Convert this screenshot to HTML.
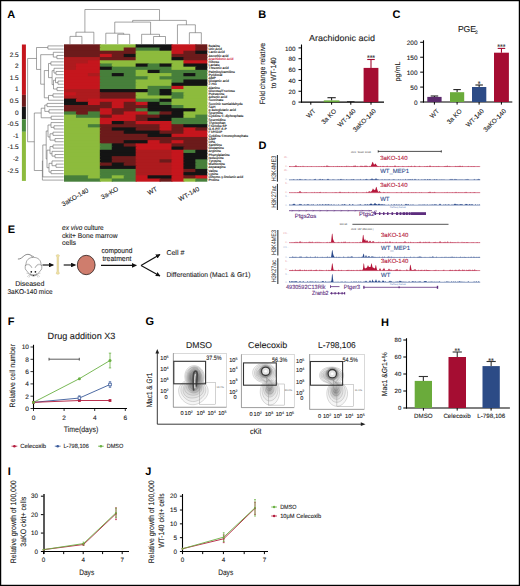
<!DOCTYPE html>
<html><head><meta charset="utf-8"><style>
html,body{margin:0;padding:0;background:#fff;}
svg{display:block;}
text{font-family:"Liberation Sans", sans-serif;text-rendering:geometricPrecision;}
</style></head><body>
<svg width="520" height="586" viewBox="0 0 520 586" font-family="&quot;Liberation Sans&quot;, sans-serif" fill="#1a1a1a">
<rect width="520" height="586" fill="#fff"/>
<rect x="64.00" y="44.30" width="36.83" height="4.20" fill="#6c1b1b"/>
<rect x="99.83" y="44.30" width="36.83" height="4.20" fill="#8dbb3d"/>
<rect x="135.65" y="44.30" width="36.83" height="4.20" fill="#141414"/>
<rect x="171.48" y="44.30" width="24.88" height="4.20" fill="#c5161d"/>
<rect x="195.36" y="44.30" width="11.94" height="4.20" fill="#6c1b1b"/>
<rect x="64.00" y="47.50" width="36.83" height="4.20" fill="#6c1b1b"/>
<rect x="99.83" y="47.50" width="24.88" height="4.20" fill="#8dbb3d"/>
<rect x="123.71" y="47.50" width="12.94" height="4.20" fill="#6c1b1b"/>
<rect x="135.65" y="47.50" width="24.88" height="4.20" fill="#477f3b"/>
<rect x="159.53" y="47.50" width="12.94" height="4.20" fill="#141414"/>
<rect x="171.48" y="47.50" width="24.88" height="4.20" fill="#c5161d"/>
<rect x="195.36" y="47.50" width="11.94" height="4.20" fill="#6c1b1b"/>
<rect x="64.00" y="50.69" width="72.65" height="4.20" fill="#6c1b1b"/>
<rect x="135.65" y="50.69" width="36.83" height="4.20" fill="#8dbb3d"/>
<rect x="171.48" y="50.69" width="12.94" height="4.20" fill="#c5161d"/>
<rect x="183.42" y="50.69" width="12.94" height="4.20" fill="#6c1b1b"/>
<rect x="195.36" y="50.69" width="11.94" height="4.20" fill="#141414"/>
<rect x="64.00" y="53.89" width="36.83" height="4.20" fill="#6c1b1b"/>
<rect x="99.83" y="53.89" width="12.94" height="4.20" fill="#c5161d"/>
<rect x="111.77" y="53.89" width="12.94" height="4.20" fill="#6c1b1b"/>
<rect x="123.71" y="53.89" width="12.94" height="4.20" fill="#141414"/>
<rect x="135.65" y="53.89" width="36.83" height="4.20" fill="#8dbb3d"/>
<rect x="171.48" y="53.89" width="35.82" height="4.20" fill="#6c1b1b"/>
<rect x="64.00" y="57.08" width="36.83" height="4.20" fill="#ad1b1e"/>
<rect x="99.83" y="57.08" width="36.83" height="4.20" fill="#6c1b1b"/>
<rect x="135.65" y="57.08" width="36.83" height="4.20" fill="#8dbb3d"/>
<rect x="171.48" y="57.08" width="12.94" height="4.20" fill="#141414"/>
<rect x="183.42" y="57.08" width="23.88" height="4.20" fill="#6c1b1b"/>
<rect x="64.00" y="60.28" width="24.88" height="4.20" fill="#ad1b1e"/>
<rect x="87.88" y="60.28" width="12.94" height="4.20" fill="#c5161d"/>
<rect x="99.83" y="60.28" width="84.59" height="4.20" fill="#8dbb3d"/>
<rect x="183.42" y="60.28" width="23.88" height="4.20" fill="#c5161d"/>
<rect x="64.00" y="63.47" width="12.94" height="4.20" fill="#ad1b1e"/>
<rect x="75.94" y="63.47" width="24.88" height="4.20" fill="#c5161d"/>
<rect x="99.83" y="63.47" width="12.94" height="4.20" fill="#477f3b"/>
<rect x="111.77" y="63.47" width="24.88" height="4.20" fill="#8dbb3d"/>
<rect x="135.65" y="63.47" width="12.94" height="4.20" fill="#141414"/>
<rect x="147.59" y="63.47" width="12.94" height="4.20" fill="#477f3b"/>
<rect x="159.53" y="63.47" width="12.94" height="4.20" fill="#141414"/>
<rect x="171.48" y="63.47" width="12.94" height="4.20" fill="#8dbb3d"/>
<rect x="183.42" y="63.47" width="23.88" height="4.20" fill="#141414"/>
<rect x="64.00" y="66.67" width="12.94" height="4.20" fill="#ad1b1e"/>
<rect x="75.94" y="66.67" width="24.88" height="4.20" fill="#c5161d"/>
<rect x="99.83" y="66.67" width="12.94" height="4.20" fill="#141414"/>
<rect x="111.77" y="66.67" width="60.71" height="4.20" fill="#477f3b"/>
<rect x="171.48" y="66.67" width="24.88" height="4.20" fill="#8dbb3d"/>
<rect x="195.36" y="66.67" width="11.94" height="4.20" fill="#141414"/>
<rect x="64.00" y="69.86" width="36.83" height="4.20" fill="#c5161d"/>
<rect x="99.83" y="69.86" width="36.83" height="4.20" fill="#477f3b"/>
<rect x="135.65" y="69.86" width="12.94" height="4.20" fill="#8dbb3d"/>
<rect x="147.59" y="69.86" width="12.94" height="4.20" fill="#141414"/>
<rect x="159.53" y="69.86" width="47.77" height="4.20" fill="#477f3b"/>
<rect x="64.00" y="73.06" width="24.88" height="4.20" fill="#c5161d"/>
<rect x="87.88" y="73.06" width="12.94" height="4.20" fill="#ad1b1e"/>
<rect x="99.83" y="73.06" width="12.94" height="4.20" fill="#477f3b"/>
<rect x="111.77" y="73.06" width="12.94" height="4.20" fill="#141414"/>
<rect x="123.71" y="73.06" width="12.94" height="4.20" fill="#477f3b"/>
<rect x="135.65" y="73.06" width="36.83" height="4.20" fill="#8dbb3d"/>
<rect x="171.48" y="73.06" width="12.94" height="4.20" fill="#477f3b"/>
<rect x="183.42" y="73.06" width="12.94" height="4.20" fill="#141414"/>
<rect x="195.36" y="73.06" width="11.94" height="4.20" fill="#477f3b"/>
<rect x="64.00" y="76.25" width="36.83" height="4.20" fill="#c5161d"/>
<rect x="99.83" y="76.25" width="48.77" height="4.20" fill="#477f3b"/>
<rect x="147.59" y="76.25" width="12.94" height="4.20" fill="#8dbb3d"/>
<rect x="159.53" y="76.25" width="47.77" height="4.20" fill="#477f3b"/>
<rect x="64.00" y="79.45" width="36.83" height="4.20" fill="#c5161d"/>
<rect x="99.83" y="79.45" width="36.83" height="4.20" fill="#477f3b"/>
<rect x="135.65" y="79.45" width="36.83" height="4.20" fill="#8dbb3d"/>
<rect x="171.48" y="79.45" width="12.94" height="4.20" fill="#477f3b"/>
<rect x="183.42" y="79.45" width="23.88" height="4.20" fill="#141414"/>
<rect x="64.00" y="82.64" width="36.83" height="4.20" fill="#c5161d"/>
<rect x="99.83" y="82.64" width="36.83" height="4.20" fill="#477f3b"/>
<rect x="135.65" y="82.64" width="36.83" height="4.20" fill="#8dbb3d"/>
<rect x="171.48" y="82.64" width="35.82" height="4.20" fill="#141414"/>
<rect x="64.00" y="85.84" width="36.83" height="4.20" fill="#c5161d"/>
<rect x="99.83" y="85.84" width="36.83" height="4.20" fill="#477f3b"/>
<rect x="135.65" y="85.84" width="12.94" height="4.20" fill="#8dbb3d"/>
<rect x="147.59" y="85.84" width="24.88" height="4.20" fill="#477f3b"/>
<rect x="171.48" y="85.84" width="12.94" height="4.20" fill="#c5161d"/>
<rect x="183.42" y="85.84" width="23.88" height="4.20" fill="#8dbb3d"/>
<rect x="64.00" y="89.03" width="36.83" height="4.20" fill="#ad1b1e"/>
<rect x="99.83" y="89.03" width="48.77" height="4.20" fill="#141414"/>
<rect x="147.59" y="89.03" width="12.94" height="4.20" fill="#477f3b"/>
<rect x="159.53" y="89.03" width="12.94" height="4.20" fill="#141414"/>
<rect x="171.48" y="89.03" width="35.82" height="4.20" fill="#8dbb3d"/>
<rect x="64.00" y="92.23" width="12.94" height="4.20" fill="#c5161d"/>
<rect x="75.94" y="92.23" width="24.88" height="4.20" fill="#ad1b1e"/>
<rect x="99.83" y="92.23" width="36.83" height="4.20" fill="#6c1b1b"/>
<rect x="135.65" y="92.23" width="12.94" height="4.20" fill="#8dbb3d"/>
<rect x="147.59" y="92.23" width="12.94" height="4.20" fill="#477f3b"/>
<rect x="159.53" y="92.23" width="12.94" height="4.20" fill="#141414"/>
<rect x="171.48" y="92.23" width="12.94" height="4.20" fill="#477f3b"/>
<rect x="183.42" y="92.23" width="23.88" height="4.20" fill="#8dbb3d"/>
<rect x="64.00" y="95.43" width="36.83" height="4.20" fill="#ad1b1e"/>
<rect x="99.83" y="95.43" width="36.83" height="4.20" fill="#6c1b1b"/>
<rect x="135.65" y="95.43" width="36.83" height="4.20" fill="#8dbb3d"/>
<rect x="171.48" y="95.43" width="12.94" height="4.20" fill="#477f3b"/>
<rect x="183.42" y="95.43" width="23.88" height="4.20" fill="#8dbb3d"/>
<rect x="64.00" y="98.62" width="12.94" height="4.20" fill="#141414"/>
<rect x="75.94" y="98.62" width="12.94" height="4.20" fill="#ad1b1e"/>
<rect x="87.88" y="98.62" width="48.77" height="4.20" fill="#c5161d"/>
<rect x="135.65" y="98.62" width="24.88" height="4.20" fill="#477f3b"/>
<rect x="159.53" y="98.62" width="12.94" height="4.20" fill="#141414"/>
<rect x="171.48" y="98.62" width="35.82" height="4.20" fill="#8dbb3d"/>
<rect x="64.00" y="101.82" width="24.88" height="4.20" fill="#141414"/>
<rect x="87.88" y="101.82" width="12.94" height="4.20" fill="#c5161d"/>
<rect x="99.83" y="101.82" width="12.94" height="4.20" fill="#6c1b1b"/>
<rect x="111.77" y="101.82" width="12.94" height="4.20" fill="#c5161d"/>
<rect x="123.71" y="101.82" width="12.94" height="4.20" fill="#6c1b1b"/>
<rect x="135.65" y="101.82" width="12.94" height="4.20" fill="#c5161d"/>
<rect x="147.59" y="101.82" width="12.94" height="4.20" fill="#141414"/>
<rect x="159.53" y="101.82" width="12.94" height="4.20" fill="#477f3b"/>
<rect x="171.48" y="101.82" width="35.82" height="4.20" fill="#8dbb3d"/>
<rect x="64.00" y="105.01" width="48.77" height="4.20" fill="#6c1b1b"/>
<rect x="111.77" y="105.01" width="12.94" height="4.20" fill="#c5161d"/>
<rect x="123.71" y="105.01" width="24.88" height="4.20" fill="#6c1b1b"/>
<rect x="147.59" y="105.01" width="24.88" height="4.20" fill="#141414"/>
<rect x="171.48" y="105.01" width="12.94" height="4.20" fill="#477f3b"/>
<rect x="183.42" y="105.01" width="23.88" height="4.20" fill="#8dbb3d"/>
<rect x="64.00" y="108.21" width="36.83" height="4.20" fill="#6c1b1b"/>
<rect x="99.83" y="108.21" width="12.94" height="4.20" fill="#c5161d"/>
<rect x="111.77" y="108.21" width="24.88" height="4.20" fill="#6c1b1b"/>
<rect x="135.65" y="108.21" width="12.94" height="4.20" fill="#477f3b"/>
<rect x="147.59" y="108.21" width="48.77" height="4.20" fill="#141414"/>
<rect x="195.36" y="108.21" width="11.94" height="4.20" fill="#8dbb3d"/>
<rect x="64.00" y="111.40" width="12.94" height="4.20" fill="#477f3b"/>
<rect x="75.94" y="111.40" width="12.94" height="4.20" fill="#6c1b1b"/>
<rect x="87.88" y="111.40" width="12.94" height="4.20" fill="#477f3b"/>
<rect x="99.83" y="111.40" width="12.94" height="4.20" fill="#c5161d"/>
<rect x="111.77" y="111.40" width="12.94" height="4.20" fill="#6c1b1b"/>
<rect x="123.71" y="111.40" width="24.88" height="4.20" fill="#c5161d"/>
<rect x="147.59" y="111.40" width="12.94" height="4.20" fill="#477f3b"/>
<rect x="159.53" y="111.40" width="12.94" height="4.20" fill="#6c1b1b"/>
<rect x="171.48" y="111.40" width="12.94" height="4.20" fill="#141414"/>
<rect x="183.42" y="111.40" width="23.88" height="4.20" fill="#8dbb3d"/>
<rect x="64.00" y="114.60" width="12.94" height="4.20" fill="#8dbb3d"/>
<rect x="75.94" y="114.60" width="24.88" height="4.20" fill="#477f3b"/>
<rect x="99.83" y="114.60" width="12.94" height="4.20" fill="#6c1b1b"/>
<rect x="111.77" y="114.60" width="24.88" height="4.20" fill="#c5161d"/>
<rect x="135.65" y="114.60" width="24.88" height="4.20" fill="#6c1b1b"/>
<rect x="159.53" y="114.60" width="24.88" height="4.20" fill="#141414"/>
<rect x="183.42" y="114.60" width="12.94" height="4.20" fill="#8dbb3d"/>
<rect x="195.36" y="114.60" width="11.94" height="4.20" fill="#477f3b"/>
<rect x="64.00" y="117.79" width="36.83" height="4.20" fill="#8dbb3d"/>
<rect x="99.83" y="117.79" width="36.83" height="4.20" fill="#c5161d"/>
<rect x="135.65" y="117.79" width="12.94" height="4.20" fill="#6c1b1b"/>
<rect x="147.59" y="117.79" width="24.88" height="4.20" fill="#141414"/>
<rect x="171.48" y="117.79" width="35.82" height="4.20" fill="#477f3b"/>
<rect x="64.00" y="120.99" width="36.83" height="4.20" fill="#8dbb3d"/>
<rect x="99.83" y="120.99" width="12.94" height="4.20" fill="#c5161d"/>
<rect x="111.77" y="120.99" width="12.94" height="4.20" fill="#141414"/>
<rect x="123.71" y="120.99" width="12.94" height="4.20" fill="#6c1b1b"/>
<rect x="135.65" y="120.99" width="36.83" height="4.20" fill="#c5161d"/>
<rect x="171.48" y="120.99" width="35.82" height="4.20" fill="#477f3b"/>
<rect x="64.00" y="124.18" width="24.88" height="4.20" fill="#8dbb3d"/>
<rect x="87.88" y="124.18" width="12.94" height="4.20" fill="#477f3b"/>
<rect x="99.83" y="124.18" width="60.71" height="4.20" fill="#6c1b1b"/>
<rect x="159.53" y="124.18" width="12.94" height="4.20" fill="#c5161d"/>
<rect x="171.48" y="124.18" width="12.94" height="4.20" fill="#6c1b1b"/>
<rect x="183.42" y="124.18" width="23.88" height="4.20" fill="#141414"/>
<rect x="64.00" y="127.38" width="36.83" height="4.20" fill="#8dbb3d"/>
<rect x="99.83" y="127.38" width="12.94" height="4.20" fill="#6c1b1b"/>
<rect x="111.77" y="127.38" width="24.88" height="4.20" fill="#141414"/>
<rect x="135.65" y="127.38" width="24.88" height="4.20" fill="#6c1b1b"/>
<rect x="159.53" y="127.38" width="12.94" height="4.20" fill="#c5161d"/>
<rect x="171.48" y="127.38" width="12.94" height="4.20" fill="#6c1b1b"/>
<rect x="183.42" y="127.38" width="12.94" height="4.20" fill="#c5161d"/>
<rect x="195.36" y="127.38" width="11.94" height="4.20" fill="#6c1b1b"/>
<rect x="64.00" y="130.57" width="36.83" height="4.20" fill="#8dbb3d"/>
<rect x="99.83" y="130.57" width="24.88" height="4.20" fill="#6c1b1b"/>
<rect x="123.71" y="130.57" width="36.83" height="4.20" fill="#141414"/>
<rect x="159.53" y="130.57" width="24.88" height="4.20" fill="#6c1b1b"/>
<rect x="183.42" y="130.57" width="23.88" height="4.20" fill="#c5161d"/>
<rect x="64.00" y="133.77" width="36.83" height="4.20" fill="#8dbb3d"/>
<rect x="99.83" y="133.77" width="48.77" height="4.20" fill="#6c1b1b"/>
<rect x="147.59" y="133.77" width="24.88" height="4.20" fill="#141414"/>
<rect x="171.48" y="133.77" width="35.82" height="4.20" fill="#c5161d"/>
<rect x="64.00" y="136.97" width="36.83" height="4.20" fill="#8dbb3d"/>
<rect x="99.83" y="136.97" width="107.48" height="4.20" fill="#6c1b1b"/>
<rect x="64.00" y="140.16" width="36.83" height="4.20" fill="#8dbb3d"/>
<rect x="99.83" y="140.16" width="24.88" height="4.20" fill="#6c1b1b"/>
<rect x="123.71" y="140.16" width="24.88" height="4.20" fill="#141414"/>
<rect x="147.59" y="140.16" width="12.94" height="4.20" fill="#c5161d"/>
<rect x="159.53" y="140.16" width="12.94" height="4.20" fill="#6c1b1b"/>
<rect x="171.48" y="140.16" width="12.94" height="4.20" fill="#c5161d"/>
<rect x="183.42" y="140.16" width="23.88" height="4.20" fill="#6c1b1b"/>
<rect x="64.00" y="143.36" width="36.83" height="4.20" fill="#8dbb3d"/>
<rect x="99.83" y="143.36" width="12.94" height="4.20" fill="#477f3b"/>
<rect x="111.77" y="143.36" width="12.94" height="4.20" fill="#141414"/>
<rect x="123.71" y="143.36" width="12.94" height="4.20" fill="#6c1b1b"/>
<rect x="135.65" y="143.36" width="36.83" height="4.20" fill="#c5161d"/>
<rect x="171.48" y="143.36" width="35.82" height="4.20" fill="#6c1b1b"/>
<rect x="64.00" y="146.55" width="36.83" height="4.20" fill="#8dbb3d"/>
<rect x="99.83" y="146.55" width="12.94" height="4.20" fill="#477f3b"/>
<rect x="111.77" y="146.55" width="24.88" height="4.20" fill="#141414"/>
<rect x="135.65" y="146.55" width="36.83" height="4.20" fill="#c5161d"/>
<rect x="171.48" y="146.55" width="12.94" height="4.20" fill="#141414"/>
<rect x="183.42" y="146.55" width="23.88" height="4.20" fill="#6c1b1b"/>
<rect x="64.00" y="149.75" width="36.83" height="4.20" fill="#8dbb3d"/>
<rect x="99.83" y="149.75" width="36.83" height="4.20" fill="#141414"/>
<rect x="135.65" y="149.75" width="36.83" height="4.20" fill="#ad1b1e"/>
<rect x="171.48" y="149.75" width="12.94" height="4.20" fill="#c5161d"/>
<rect x="183.42" y="149.75" width="12.94" height="4.20" fill="#477f3b"/>
<rect x="195.36" y="149.75" width="11.94" height="4.20" fill="#141414"/>
<rect x="64.00" y="152.94" width="36.83" height="4.20" fill="#8dbb3d"/>
<rect x="99.83" y="152.94" width="36.83" height="4.20" fill="#141414"/>
<rect x="135.65" y="152.94" width="36.83" height="4.20" fill="#ad1b1e"/>
<rect x="171.48" y="152.94" width="12.94" height="4.20" fill="#c5161d"/>
<rect x="183.42" y="152.94" width="23.88" height="4.20" fill="#141414"/>
<rect x="64.00" y="156.14" width="36.83" height="4.20" fill="#8dbb3d"/>
<rect x="99.83" y="156.14" width="12.94" height="4.20" fill="#141414"/>
<rect x="111.77" y="156.14" width="24.88" height="4.20" fill="#6c1b1b"/>
<rect x="135.65" y="156.14" width="36.83" height="4.20" fill="#ad1b1e"/>
<rect x="171.48" y="156.14" width="12.94" height="4.20" fill="#c5161d"/>
<rect x="183.42" y="156.14" width="23.88" height="4.20" fill="#141414"/>
<rect x="64.00" y="159.33" width="36.83" height="4.20" fill="#8dbb3d"/>
<rect x="99.83" y="159.33" width="12.94" height="4.20" fill="#141414"/>
<rect x="111.77" y="159.33" width="24.88" height="4.20" fill="#6c1b1b"/>
<rect x="135.65" y="159.33" width="24.88" height="4.20" fill="#ad1b1e"/>
<rect x="159.53" y="159.33" width="12.94" height="4.20" fill="#6c1b1b"/>
<rect x="171.48" y="159.33" width="12.94" height="4.20" fill="#c5161d"/>
<rect x="183.42" y="159.33" width="12.94" height="4.20" fill="#141414"/>
<rect x="195.36" y="159.33" width="11.94" height="4.20" fill="#477f3b"/>
<rect x="64.00" y="162.53" width="36.83" height="4.20" fill="#8dbb3d"/>
<rect x="99.83" y="162.53" width="12.94" height="4.20" fill="#6c1b1b"/>
<rect x="111.77" y="162.53" width="12.94" height="4.20" fill="#141414"/>
<rect x="123.71" y="162.53" width="12.94" height="4.20" fill="#6c1b1b"/>
<rect x="135.65" y="162.53" width="36.83" height="4.20" fill="#ad1b1e"/>
<rect x="171.48" y="162.53" width="12.94" height="4.20" fill="#c5161d"/>
<rect x="183.42" y="162.53" width="12.94" height="4.20" fill="#141414"/>
<rect x="195.36" y="162.53" width="11.94" height="4.20" fill="#477f3b"/>
<rect x="64.00" y="165.72" width="36.83" height="4.20" fill="#8dbb3d"/>
<rect x="99.83" y="165.72" width="36.83" height="4.20" fill="#141414"/>
<rect x="135.65" y="165.72" width="36.83" height="4.20" fill="#ad1b1e"/>
<rect x="171.48" y="165.72" width="12.94" height="4.20" fill="#c5161d"/>
<rect x="183.42" y="165.72" width="12.94" height="4.20" fill="#141414"/>
<rect x="195.36" y="165.72" width="11.94" height="4.20" fill="#477f3b"/>
<rect x="64.00" y="168.92" width="36.83" height="4.20" fill="#8dbb3d"/>
<rect x="99.83" y="168.92" width="36.83" height="4.20" fill="#477f3b"/>
<rect x="135.65" y="168.92" width="36.83" height="4.20" fill="#ad1b1e"/>
<rect x="171.48" y="168.92" width="12.94" height="4.20" fill="#c5161d"/>
<rect x="183.42" y="168.92" width="12.94" height="4.20" fill="#6c1b1b"/>
<rect x="195.36" y="168.92" width="11.94" height="4.20" fill="#141414"/>
<rect x="64.00" y="172.11" width="36.83" height="4.20" fill="#8dbb3d"/>
<rect x="99.83" y="172.11" width="36.83" height="4.20" fill="#477f3b"/>
<rect x="135.65" y="172.11" width="36.83" height="4.20" fill="#ad1b1e"/>
<rect x="171.48" y="172.11" width="12.94" height="4.20" fill="#c5161d"/>
<rect x="183.42" y="172.11" width="23.88" height="4.20" fill="#141414"/>
<rect x="64.00" y="175.31" width="24.88" height="4.20" fill="#477f3b"/>
<rect x="87.88" y="175.31" width="12.94" height="4.20" fill="#8dbb3d"/>
<rect x="99.83" y="175.31" width="12.94" height="4.20" fill="#477f3b"/>
<rect x="111.77" y="175.31" width="12.94" height="4.20" fill="#8dbb3d"/>
<rect x="123.71" y="175.31" width="12.94" height="4.20" fill="#477f3b"/>
<rect x="135.65" y="175.31" width="12.94" height="4.20" fill="#c5161d"/>
<rect x="147.59" y="175.31" width="24.88" height="4.20" fill="#141414"/>
<rect x="171.48" y="175.31" width="12.94" height="4.20" fill="#c5161d"/>
<rect x="183.42" y="175.31" width="12.94" height="4.20" fill="#6c1b1b"/>
<rect x="195.36" y="175.31" width="11.94" height="4.20" fill="#c5161d"/>
<rect x="64.00" y="178.50" width="36.83" height="3.20" fill="#477f3b"/>
<rect x="99.83" y="178.50" width="12.94" height="3.20" fill="#8dbb3d"/>
<rect x="111.77" y="178.50" width="24.88" height="3.20" fill="#477f3b"/>
<rect x="135.65" y="178.50" width="24.88" height="3.20" fill="#c5161d"/>
<rect x="159.53" y="178.50" width="12.94" height="3.20" fill="#6c1b1b"/>
<rect x="171.48" y="178.50" width="12.94" height="3.20" fill="#c5161d"/>
<rect x="183.42" y="178.50" width="12.94" height="3.20" fill="#8dbb3d"/>
<rect x="195.36" y="178.50" width="11.94" height="3.20" fill="#477f3b"/>
<g font-size="3.35" stroke-width="0.12">
<text x="208.6" y="47.05" fill="#1a1a1a" stroke="#1a1a1a">Betaine</text>
<text x="208.6" y="50.24" fill="#1a1a1a" stroke="#1a1a1a">Uric Acid</text>
<text x="208.6" y="53.44" fill="#1a1a1a" stroke="#1a1a1a">Lactic Acid</text>
<text x="208.6" y="56.63" fill="#1a1a1a" stroke="#1a1a1a">Ascorbic acid</text>
<text x="208.6" y="59.83" fill="#d0203a" stroke="#d0203a">Arachidonic Acid</text>
<text x="208.6" y="63.02" fill="#1a1a1a" stroke="#1a1a1a">Ribose</text>
<text x="208.6" y="66.22" fill="#1a1a1a" stroke="#1a1a1a">Lactate</text>
<text x="208.6" y="69.42" fill="#1a1a1a" stroke="#1a1a1a">Threonic acid</text>
<text x="208.6" y="72.61" fill="#1a1a1a" stroke="#1a1a1a">Palmitoylcarnitine</text>
<text x="208.6" y="75.81" fill="#1a1a1a" stroke="#1a1a1a">Pyridoxal</text>
<text x="208.6" y="79.00" fill="#1a1a1a" stroke="#1a1a1a">AMP</text>
<text x="208.6" y="82.20" fill="#1a1a1a" stroke="#1a1a1a">Glutamic acid</text>
<text x="208.6" y="85.39" fill="#1a1a1a" stroke="#1a1a1a">2-HG</text>
<text x="208.6" y="88.59" fill="#1a1a1a" stroke="#1a1a1a">Alanine</text>
<text x="208.6" y="91.78" fill="#1a1a1a" stroke="#1a1a1a">Glucose/Fructose</text>
<text x="208.6" y="94.98" fill="#1a1a1a" stroke="#1a1a1a">Putrescine</text>
<text x="208.6" y="98.17" fill="#1a1a1a" stroke="#1a1a1a">Adrenic acid</text>
<text x="208.6" y="101.37" fill="#1a1a1a" stroke="#1a1a1a">Succinate</text>
<text x="208.6" y="104.56" fill="#1a1a1a" stroke="#1a1a1a">Succinic semialdehyde</text>
<text x="208.6" y="107.76" fill="#1a1a1a" stroke="#1a1a1a">SAH</text>
<text x="208.6" y="110.95" fill="#1a1a1a" stroke="#1a1a1a">&#945;-ketoglutaric acid</text>
<text x="208.6" y="114.15" fill="#1a1a1a" stroke="#1a1a1a">Spermine</text>
<text x="208.6" y="117.35" fill="#1a1a1a" stroke="#1a1a1a">Cytidine 5'-diphosphate</text>
<text x="208.6" y="120.54" fill="#1a1a1a" stroke="#1a1a1a">Spermidine</text>
<text x="208.6" y="123.74" fill="#1a1a1a" stroke="#1a1a1a">Tryptophan</text>
<text x="208.6" y="126.93" fill="#1a1a1a" stroke="#1a1a1a">Fructose 6P</text>
<text x="208.6" y="130.13" fill="#1a1a1a" stroke="#1a1a1a">G-6-P/F-6-P</text>
<text x="208.6" y="133.32" fill="#1a1a1a" stroke="#1a1a1a">F1P/G1P</text>
<text x="208.6" y="136.52" fill="#1a1a1a" stroke="#1a1a1a">Cytidine 5'monophosphate</text>
<text x="208.6" y="139.71" fill="#1a1a1a" stroke="#1a1a1a">CMP</text>
<text x="208.6" y="142.91" fill="#1a1a1a" stroke="#1a1a1a">DPA</text>
<text x="208.6" y="146.10" fill="#1a1a1a" stroke="#1a1a1a">Xanthine</text>
<text x="208.6" y="149.30" fill="#1a1a1a" stroke="#1a1a1a">Glutamine</text>
<text x="208.6" y="152.49" fill="#1a1a1a" stroke="#1a1a1a">Arginine</text>
<text x="208.6" y="155.69" fill="#1a1a1a" stroke="#1a1a1a">Phenylalanine</text>
<text x="208.6" y="158.88" fill="#1a1a1a" stroke="#1a1a1a">Isoleucine</text>
<text x="208.6" y="162.08" fill="#1a1a1a" stroke="#1a1a1a">Tyrosine</text>
<text x="208.6" y="165.28" fill="#1a1a1a" stroke="#1a1a1a">Methionine</text>
<text x="208.6" y="168.47" fill="#1a1a1a" stroke="#1a1a1a">Asparagine</text>
<text x="208.6" y="171.67" fill="#1a1a1a" stroke="#1a1a1a">Valine</text>
<text x="208.6" y="174.86" fill="#1a1a1a" stroke="#1a1a1a">Lysine</text>
<text x="208.6" y="178.06" fill="#1a1a1a" stroke="#1a1a1a">Dihomo-&#947;-linolenic acid</text>
<text x="208.6" y="181.25" fill="#1a1a1a" stroke="#1a1a1a">Proline</text>
</g>
<line x1="47.90" y1="45.90" x2="63.70" y2="45.90" stroke="#666" stroke-width="0.6"/>
<line x1="47.90" y1="49.09" x2="63.70" y2="49.09" stroke="#666" stroke-width="0.6"/>
<line x1="47.90" y1="45.90" x2="47.90" y2="49.09" stroke="#666" stroke-width="0.6"/>
<line x1="56.90" y1="55.48" x2="63.70" y2="55.48" stroke="#666" stroke-width="0.6"/>
<line x1="56.90" y1="58.68" x2="63.70" y2="58.68" stroke="#666" stroke-width="0.6"/>
<line x1="56.90" y1="55.48" x2="56.90" y2="58.68" stroke="#666" stroke-width="0.6"/>
<line x1="53.30" y1="52.29" x2="63.70" y2="52.29" stroke="#666" stroke-width="0.6"/>
<line x1="53.30" y1="57.08" x2="56.90" y2="57.08" stroke="#666" stroke-width="0.6"/>
<line x1="53.30" y1="52.29" x2="53.30" y2="57.08" stroke="#666" stroke-width="0.6"/>
<line x1="50.90" y1="61.87" x2="63.70" y2="61.87" stroke="#666" stroke-width="0.6"/>
<line x1="50.90" y1="65.07" x2="63.70" y2="65.07" stroke="#666" stroke-width="0.6"/>
<line x1="50.90" y1="61.87" x2="50.90" y2="65.07" stroke="#666" stroke-width="0.6"/>
<line x1="56.00" y1="71.46" x2="63.70" y2="71.46" stroke="#666" stroke-width="0.6"/>
<line x1="56.00" y1="74.66" x2="63.70" y2="74.66" stroke="#666" stroke-width="0.6"/>
<line x1="56.00" y1="71.46" x2="56.00" y2="74.66" stroke="#666" stroke-width="0.6"/>
<line x1="54.00" y1="68.27" x2="63.70" y2="68.27" stroke="#666" stroke-width="0.6"/>
<line x1="54.00" y1="73.06" x2="56.00" y2="73.06" stroke="#666" stroke-width="0.6"/>
<line x1="54.00" y1="68.27" x2="54.00" y2="73.06" stroke="#666" stroke-width="0.6"/>
<line x1="58.00" y1="81.05" x2="63.70" y2="81.05" stroke="#666" stroke-width="0.6"/>
<line x1="58.00" y1="84.24" x2="63.70" y2="84.24" stroke="#666" stroke-width="0.6"/>
<line x1="58.00" y1="81.05" x2="58.00" y2="84.24" stroke="#666" stroke-width="0.6"/>
<line x1="55.50" y1="77.85" x2="63.70" y2="77.85" stroke="#666" stroke-width="0.6"/>
<line x1="55.50" y1="82.64" x2="58.00" y2="82.64" stroke="#666" stroke-width="0.6"/>
<line x1="55.50" y1="77.85" x2="55.50" y2="82.64" stroke="#666" stroke-width="0.6"/>
<line x1="57.00" y1="87.44" x2="63.70" y2="87.44" stroke="#666" stroke-width="0.6"/>
<line x1="57.00" y1="90.63" x2="63.70" y2="90.63" stroke="#666" stroke-width="0.6"/>
<line x1="57.00" y1="87.44" x2="57.00" y2="90.63" stroke="#666" stroke-width="0.6"/>
<line x1="53.50" y1="80.25" x2="55.50" y2="80.25" stroke="#666" stroke-width="0.6"/>
<line x1="53.50" y1="89.03" x2="57.00" y2="89.03" stroke="#666" stroke-width="0.6"/>
<line x1="53.50" y1="80.25" x2="53.50" y2="89.03" stroke="#666" stroke-width="0.6"/>
<line x1="52.10" y1="70.66" x2="54.00" y2="70.66" stroke="#666" stroke-width="0.6"/>
<line x1="52.10" y1="84.64" x2="53.50" y2="84.64" stroke="#666" stroke-width="0.6"/>
<line x1="52.10" y1="70.66" x2="52.10" y2="84.64" stroke="#666" stroke-width="0.6"/>
<line x1="48.50" y1="63.47" x2="50.90" y2="63.47" stroke="#666" stroke-width="0.6"/>
<line x1="48.50" y1="77.65" x2="52.10" y2="77.65" stroke="#666" stroke-width="0.6"/>
<line x1="48.50" y1="63.47" x2="48.50" y2="77.65" stroke="#666" stroke-width="0.6"/>
<line x1="53.00" y1="93.83" x2="63.70" y2="93.83" stroke="#666" stroke-width="0.6"/>
<line x1="53.00" y1="97.02" x2="63.70" y2="97.02" stroke="#666" stroke-width="0.6"/>
<line x1="53.00" y1="93.83" x2="53.00" y2="97.02" stroke="#666" stroke-width="0.6"/>
<line x1="48.50" y1="95.43" x2="53.00" y2="95.43" stroke="#666" stroke-width="0.6"/>
<line x1="48.50" y1="100.22" x2="63.70" y2="100.22" stroke="#666" stroke-width="0.6"/>
<line x1="48.50" y1="95.43" x2="48.50" y2="100.22" stroke="#666" stroke-width="0.6"/>
<line x1="44.30" y1="70.56" x2="48.50" y2="70.56" stroke="#666" stroke-width="0.6"/>
<line x1="44.30" y1="97.82" x2="48.50" y2="97.82" stroke="#666" stroke-width="0.6"/>
<line x1="44.30" y1="70.56" x2="44.30" y2="97.82" stroke="#666" stroke-width="0.6"/>
<line x1="40.70" y1="54.68" x2="53.30" y2="54.68" stroke="#666" stroke-width="0.6"/>
<line x1="40.70" y1="84.19" x2="44.30" y2="84.19" stroke="#666" stroke-width="0.6"/>
<line x1="40.70" y1="54.68" x2="40.70" y2="84.19" stroke="#666" stroke-width="0.6"/>
<line x1="36.50" y1="47.50" x2="47.90" y2="47.50" stroke="#666" stroke-width="0.6"/>
<line x1="36.50" y1="69.44" x2="40.70" y2="69.44" stroke="#666" stroke-width="0.6"/>
<line x1="36.50" y1="47.50" x2="36.50" y2="69.44" stroke="#666" stroke-width="0.6"/>
<line x1="47.00" y1="103.41" x2="63.70" y2="103.41" stroke="#666" stroke-width="0.6"/>
<line x1="47.00" y1="106.61" x2="63.70" y2="106.61" stroke="#666" stroke-width="0.6"/>
<line x1="47.00" y1="103.41" x2="47.00" y2="106.61" stroke="#666" stroke-width="0.6"/>
<line x1="49.00" y1="109.80" x2="63.70" y2="109.80" stroke="#666" stroke-width="0.6"/>
<line x1="49.00" y1="113.00" x2="63.70" y2="113.00" stroke="#666" stroke-width="0.6"/>
<line x1="49.00" y1="109.80" x2="49.00" y2="113.00" stroke="#666" stroke-width="0.6"/>
<line x1="44.80" y1="105.01" x2="47.00" y2="105.01" stroke="#666" stroke-width="0.6"/>
<line x1="44.80" y1="111.40" x2="49.00" y2="111.40" stroke="#666" stroke-width="0.6"/>
<line x1="44.80" y1="105.01" x2="44.80" y2="111.40" stroke="#666" stroke-width="0.6"/>
<line x1="51.20" y1="116.20" x2="63.70" y2="116.20" stroke="#666" stroke-width="0.6"/>
<line x1="51.20" y1="119.39" x2="63.70" y2="119.39" stroke="#666" stroke-width="0.6"/>
<line x1="51.20" y1="116.20" x2="51.20" y2="119.39" stroke="#666" stroke-width="0.6"/>
<line x1="41.20" y1="108.21" x2="44.80" y2="108.21" stroke="#666" stroke-width="0.6"/>
<line x1="41.20" y1="117.79" x2="51.20" y2="117.79" stroke="#666" stroke-width="0.6"/>
<line x1="41.20" y1="108.21" x2="41.20" y2="117.79" stroke="#666" stroke-width="0.6"/>
<line x1="54.00" y1="125.78" x2="63.70" y2="125.78" stroke="#666" stroke-width="0.6"/>
<line x1="54.00" y1="128.98" x2="63.70" y2="128.98" stroke="#666" stroke-width="0.6"/>
<line x1="54.00" y1="125.78" x2="54.00" y2="128.98" stroke="#666" stroke-width="0.6"/>
<line x1="51.00" y1="122.59" x2="63.70" y2="122.59" stroke="#666" stroke-width="0.6"/>
<line x1="51.00" y1="127.38" x2="54.00" y2="127.38" stroke="#666" stroke-width="0.6"/>
<line x1="51.00" y1="122.59" x2="51.00" y2="127.38" stroke="#666" stroke-width="0.6"/>
<line x1="53.00" y1="132.17" x2="63.70" y2="132.17" stroke="#666" stroke-width="0.6"/>
<line x1="53.00" y1="135.37" x2="63.70" y2="135.37" stroke="#666" stroke-width="0.6"/>
<line x1="53.00" y1="132.17" x2="53.00" y2="135.37" stroke="#666" stroke-width="0.6"/>
<line x1="55.00" y1="138.56" x2="63.70" y2="138.56" stroke="#666" stroke-width="0.6"/>
<line x1="55.00" y1="141.76" x2="63.70" y2="141.76" stroke="#666" stroke-width="0.6"/>
<line x1="55.00" y1="138.56" x2="55.00" y2="141.76" stroke="#666" stroke-width="0.6"/>
<line x1="50.00" y1="133.77" x2="53.00" y2="133.77" stroke="#666" stroke-width="0.6"/>
<line x1="50.00" y1="140.16" x2="55.00" y2="140.16" stroke="#666" stroke-width="0.6"/>
<line x1="50.00" y1="133.77" x2="50.00" y2="140.16" stroke="#666" stroke-width="0.6"/>
<line x1="48.00" y1="124.98" x2="51.00" y2="124.98" stroke="#666" stroke-width="0.6"/>
<line x1="48.00" y1="136.97" x2="50.00" y2="136.97" stroke="#666" stroke-width="0.6"/>
<line x1="48.00" y1="124.98" x2="48.00" y2="136.97" stroke="#666" stroke-width="0.6"/>
<line x1="53.00" y1="144.95" x2="63.70" y2="144.95" stroke="#666" stroke-width="0.6"/>
<line x1="53.00" y1="148.15" x2="63.70" y2="148.15" stroke="#666" stroke-width="0.6"/>
<line x1="53.00" y1="144.95" x2="53.00" y2="148.15" stroke="#666" stroke-width="0.6"/>
<line x1="55.00" y1="154.54" x2="63.70" y2="154.54" stroke="#666" stroke-width="0.6"/>
<line x1="55.00" y1="157.73" x2="63.70" y2="157.73" stroke="#666" stroke-width="0.6"/>
<line x1="55.00" y1="154.54" x2="55.00" y2="157.73" stroke="#666" stroke-width="0.6"/>
<line x1="52.00" y1="151.34" x2="63.70" y2="151.34" stroke="#666" stroke-width="0.6"/>
<line x1="52.00" y1="156.14" x2="55.00" y2="156.14" stroke="#666" stroke-width="0.6"/>
<line x1="52.00" y1="151.34" x2="52.00" y2="156.14" stroke="#666" stroke-width="0.6"/>
<line x1="50.00" y1="146.55" x2="53.00" y2="146.55" stroke="#666" stroke-width="0.6"/>
<line x1="50.00" y1="153.74" x2="52.00" y2="153.74" stroke="#666" stroke-width="0.6"/>
<line x1="50.00" y1="146.55" x2="50.00" y2="153.74" stroke="#666" stroke-width="0.6"/>
<line x1="56.00" y1="164.13" x2="63.70" y2="164.13" stroke="#666" stroke-width="0.6"/>
<line x1="56.00" y1="167.32" x2="63.70" y2="167.32" stroke="#666" stroke-width="0.6"/>
<line x1="56.00" y1="164.13" x2="56.00" y2="167.32" stroke="#666" stroke-width="0.6"/>
<line x1="52.00" y1="160.93" x2="63.70" y2="160.93" stroke="#666" stroke-width="0.6"/>
<line x1="52.00" y1="165.72" x2="56.00" y2="165.72" stroke="#666" stroke-width="0.6"/>
<line x1="52.00" y1="160.93" x2="52.00" y2="165.72" stroke="#666" stroke-width="0.6"/>
<line x1="51.00" y1="170.52" x2="63.70" y2="170.52" stroke="#666" stroke-width="0.6"/>
<line x1="51.00" y1="173.71" x2="63.70" y2="173.71" stroke="#666" stroke-width="0.6"/>
<line x1="51.00" y1="170.52" x2="51.00" y2="173.71" stroke="#666" stroke-width="0.6"/>
<line x1="49.00" y1="163.33" x2="52.00" y2="163.33" stroke="#666" stroke-width="0.6"/>
<line x1="49.00" y1="172.11" x2="51.00" y2="172.11" stroke="#666" stroke-width="0.6"/>
<line x1="49.00" y1="163.33" x2="49.00" y2="172.11" stroke="#666" stroke-width="0.6"/>
<line x1="47.00" y1="150.15" x2="50.00" y2="150.15" stroke="#666" stroke-width="0.6"/>
<line x1="47.00" y1="167.72" x2="49.00" y2="167.72" stroke="#666" stroke-width="0.6"/>
<line x1="47.00" y1="150.15" x2="47.00" y2="167.72" stroke="#666" stroke-width="0.6"/>
<line x1="46.20" y1="130.97" x2="48.00" y2="130.97" stroke="#666" stroke-width="0.6"/>
<line x1="46.20" y1="158.93" x2="47.00" y2="158.93" stroke="#666" stroke-width="0.6"/>
<line x1="46.20" y1="130.97" x2="46.20" y2="158.93" stroke="#666" stroke-width="0.6"/>
<line x1="42.80" y1="144.95" x2="46.20" y2="144.95" stroke="#666" stroke-width="0.6"/>
<line x1="42.80" y1="176.91" x2="63.70" y2="176.91" stroke="#666" stroke-width="0.6"/>
<line x1="42.80" y1="144.95" x2="42.80" y2="176.91" stroke="#666" stroke-width="0.6"/>
<line x1="42.40" y1="160.93" x2="42.80" y2="160.93" stroke="#666" stroke-width="0.6"/>
<line x1="42.40" y1="180.10" x2="63.70" y2="180.10" stroke="#666" stroke-width="0.6"/>
<line x1="42.40" y1="160.93" x2="42.40" y2="180.10" stroke="#666" stroke-width="0.6"/>
<line x1="34.30" y1="113.00" x2="41.20" y2="113.00" stroke="#666" stroke-width="0.6"/>
<line x1="34.30" y1="170.52" x2="42.40" y2="170.52" stroke="#666" stroke-width="0.6"/>
<line x1="34.30" y1="113.00" x2="34.30" y2="170.52" stroke="#666" stroke-width="0.6"/>
<line x1="27.60" y1="58.47" x2="36.50" y2="58.47" stroke="#666" stroke-width="0.6"/>
<line x1="27.60" y1="141.76" x2="34.30" y2="141.76" stroke="#666" stroke-width="0.6"/>
<line x1="27.60" y1="58.47" x2="27.60" y2="141.76" stroke="#666" stroke-width="0.6"/>
<line x1="69.97" y1="36.40" x2="69.97" y2="44.00" stroke="#666" stroke-width="0.6"/>
<line x1="81.91" y1="36.40" x2="81.91" y2="44.00" stroke="#666" stroke-width="0.6"/>
<line x1="69.97" y1="36.40" x2="81.91" y2="36.40" stroke="#666" stroke-width="0.6"/>
<line x1="75.94" y1="32.20" x2="75.94" y2="36.40" stroke="#666" stroke-width="0.6"/>
<line x1="93.85" y1="32.20" x2="93.85" y2="44.00" stroke="#666" stroke-width="0.6"/>
<line x1="75.94" y1="32.20" x2="93.85" y2="32.20" stroke="#666" stroke-width="0.6"/>
<line x1="117.74" y1="34.30" x2="117.74" y2="44.00" stroke="#666" stroke-width="0.6"/>
<line x1="129.68" y1="34.30" x2="129.68" y2="44.00" stroke="#666" stroke-width="0.6"/>
<line x1="117.74" y1="34.30" x2="129.68" y2="34.30" stroke="#666" stroke-width="0.6"/>
<line x1="105.80" y1="33.20" x2="105.80" y2="44.00" stroke="#666" stroke-width="0.6"/>
<line x1="123.71" y1="33.20" x2="123.71" y2="34.30" stroke="#666" stroke-width="0.6"/>
<line x1="105.80" y1="33.20" x2="123.71" y2="33.20" stroke="#666" stroke-width="0.6"/>
<line x1="153.56" y1="36.50" x2="153.56" y2="44.00" stroke="#666" stroke-width="0.6"/>
<line x1="165.50" y1="36.50" x2="165.50" y2="44.00" stroke="#666" stroke-width="0.6"/>
<line x1="153.56" y1="36.50" x2="165.50" y2="36.50" stroke="#666" stroke-width="0.6"/>
<line x1="141.62" y1="34.30" x2="141.62" y2="44.00" stroke="#666" stroke-width="0.6"/>
<line x1="159.53" y1="34.30" x2="159.53" y2="36.50" stroke="#666" stroke-width="0.6"/>
<line x1="141.62" y1="34.30" x2="159.53" y2="34.30" stroke="#666" stroke-width="0.6"/>
<line x1="114.75" y1="22.10" x2="114.75" y2="33.20" stroke="#666" stroke-width="0.6"/>
<line x1="150.58" y1="22.10" x2="150.58" y2="34.30" stroke="#666" stroke-width="0.6"/>
<line x1="114.75" y1="22.10" x2="150.58" y2="22.10" stroke="#666" stroke-width="0.6"/>
<line x1="189.39" y1="32.70" x2="189.39" y2="44.00" stroke="#666" stroke-width="0.6"/>
<line x1="201.33" y1="32.70" x2="201.33" y2="44.00" stroke="#666" stroke-width="0.6"/>
<line x1="189.39" y1="32.70" x2="201.33" y2="32.70" stroke="#666" stroke-width="0.6"/>
<line x1="177.45" y1="24.80" x2="177.45" y2="44.00" stroke="#666" stroke-width="0.6"/>
<line x1="195.36" y1="24.80" x2="195.36" y2="32.70" stroke="#666" stroke-width="0.6"/>
<line x1="177.45" y1="24.80" x2="195.36" y2="24.80" stroke="#666" stroke-width="0.6"/>
<line x1="132.66" y1="20.40" x2="132.66" y2="22.10" stroke="#666" stroke-width="0.6"/>
<line x1="186.40" y1="20.40" x2="186.40" y2="24.80" stroke="#666" stroke-width="0.6"/>
<line x1="132.66" y1="20.40" x2="186.40" y2="20.40" stroke="#666" stroke-width="0.6"/>
<line x1="84.90" y1="9.50" x2="84.90" y2="32.20" stroke="#666" stroke-width="0.6"/>
<line x1="159.53" y1="9.50" x2="159.53" y2="20.40" stroke="#666" stroke-width="0.6"/>
<line x1="84.90" y1="9.50" x2="159.53" y2="9.50" stroke="#666" stroke-width="0.6"/>
<rect x="21.90" y="44.50" width="4.00" height="50.40" fill="#c5161d"/>
<rect x="21.90" y="94.90" width="4.00" height="11.90" fill="#6c1b1b"/>
<rect x="21.90" y="106.80" width="4.00" height="12.50" fill="#141414"/>
<rect x="21.90" y="119.30" width="4.00" height="12.50" fill="#4a8a3d"/>
<rect x="21.90" y="131.80" width="4.00" height="49.10" fill="#8dbb3d"/>
<text x="18.70" y="56.50" font-size="6.5" text-anchor="end" stroke="#1a1a1a" stroke-width="0.1">2.5</text>
<text x="18.70" y="68.10" font-size="6.5" text-anchor="end" stroke="#1a1a1a" stroke-width="0.1">2</text>
<text x="18.70" y="79.70" font-size="6.5" text-anchor="end" stroke="#1a1a1a" stroke-width="0.1">1.5</text>
<text x="18.70" y="91.30" font-size="6.5" text-anchor="end" stroke="#1a1a1a" stroke-width="0.1">1</text>
<text x="18.70" y="102.90" font-size="6.5" text-anchor="end" stroke="#1a1a1a" stroke-width="0.1">0.5</text>
<text x="18.70" y="114.50" font-size="6.5" text-anchor="end" stroke="#1a1a1a" stroke-width="0.1">0</text>
<text x="18.70" y="126.10" font-size="6.5" text-anchor="end" stroke="#1a1a1a" stroke-width="0.1">-0.5</text>
<text x="18.70" y="137.70" font-size="6.5" text-anchor="end" stroke="#1a1a1a" stroke-width="0.1">-1</text>
<text x="18.70" y="149.30" font-size="6.5" text-anchor="end" stroke="#1a1a1a" stroke-width="0.1">-1.5</text>
<text x="18.70" y="160.90" font-size="6.5" text-anchor="end" stroke="#1a1a1a" stroke-width="0.1">-2</text>
<text x="18.70" y="172.50" font-size="6.5" text-anchor="end" stroke="#1a1a1a" stroke-width="0.1">-2.5</text>
<text x="89.00" y="191.70" font-size="6.5" text-anchor="end" transform="rotate(-30 89.00 191.70)" stroke="#1a1a1a" stroke-width="0.1">3aKO-140</text>
<text x="118.80" y="190.20" font-size="6.5" text-anchor="end" transform="rotate(-30 118.80 190.20)" stroke="#1a1a1a" stroke-width="0.1">3a-KO</text>
<text x="157.80" y="190.20" font-size="6.5" text-anchor="end" transform="rotate(-30 157.80 190.20)" stroke="#1a1a1a" stroke-width="0.1">WT</text>
<text x="199.80" y="190.20" font-size="6.5" text-anchor="end" transform="rotate(-30 199.80 190.20)" stroke="#1a1a1a" stroke-width="0.1">WT-140</text>
<text x="7.30" y="17.80" font-size="11" fill="#000" font-weight="bold">A</text>
<text x="258.30" y="17.90" font-size="11" fill="#000" font-weight="bold">B</text>
<text x="392.60" y="18.20" font-size="11" fill="#000" font-weight="bold">C</text>
<text x="258.50" y="148.80" font-size="11" fill="#000" font-weight="bold">D</text>
<text x="7.80" y="232.50" font-size="11" fill="#000" font-weight="bold">E</text>
<text x="7.80" y="325.30" font-size="11" fill="#000" font-weight="bold">F</text>
<text x="145.50" y="325.30" font-size="11" fill="#000" font-weight="bold">G</text>
<text x="381.00" y="325.60" font-size="11" fill="#000" font-weight="bold">H</text>
<text x="7.80" y="475.20" font-size="11" fill="#000" font-weight="bold">I</text>
<text x="145.30" y="475.20" font-size="11" fill="#000" font-weight="bold">J</text>
<text x="309.00" y="40.70" font-size="8.6" textLength="66" lengthAdjust="spacingAndGlyphs" stroke="#1a1a1a" stroke-width="0.1">Arachidonic acid</text>
<line x1="301.50" y1="44.50" x2="301.50" y2="102.60" stroke="#000" stroke-width="1.1"/>
<line x1="301.00" y1="102.10" x2="384.00" y2="102.10" stroke="#000" stroke-width="1.1"/>
<line x1="298.50" y1="102.10" x2="301.50" y2="102.10" stroke="#000" stroke-width="1.0"/>
<text x="295.60" y="104.70" font-size="6.2" text-anchor="end" textLength="3.5" lengthAdjust="spacingAndGlyphs" stroke="#1a1a1a" stroke-width="0.1">0</text>
<line x1="298.50" y1="91.26" x2="301.50" y2="91.26" stroke="#000" stroke-width="1.0"/>
<text x="295.60" y="93.86" font-size="6.2" text-anchor="end" textLength="7.0" lengthAdjust="spacingAndGlyphs" stroke="#1a1a1a" stroke-width="0.1">20</text>
<line x1="298.50" y1="80.42" x2="301.50" y2="80.42" stroke="#000" stroke-width="1.0"/>
<text x="295.60" y="83.02" font-size="6.2" text-anchor="end" textLength="7.0" lengthAdjust="spacingAndGlyphs" stroke="#1a1a1a" stroke-width="0.1">40</text>
<line x1="298.50" y1="69.58" x2="301.50" y2="69.58" stroke="#000" stroke-width="1.0"/>
<text x="295.60" y="72.18" font-size="6.2" text-anchor="end" textLength="7.0" lengthAdjust="spacingAndGlyphs" stroke="#1a1a1a" stroke-width="0.1">60</text>
<line x1="298.50" y1="58.74" x2="301.50" y2="58.74" stroke="#000" stroke-width="1.0"/>
<text x="295.60" y="61.34" font-size="6.2" text-anchor="end" textLength="7.0" lengthAdjust="spacingAndGlyphs" stroke="#1a1a1a" stroke-width="0.1">80</text>
<line x1="298.50" y1="47.90" x2="301.50" y2="47.90" stroke="#000" stroke-width="1.0"/>
<text x="295.60" y="50.50" font-size="6.2" text-anchor="end" textLength="10.5" lengthAdjust="spacingAndGlyphs" stroke="#1a1a1a" stroke-width="0.1">100</text>
<line x1="310.80" y1="102.10" x2="310.80" y2="104.70" stroke="#000" stroke-width="1.0"/>
<line x1="331.60" y1="102.10" x2="331.60" y2="104.70" stroke="#000" stroke-width="1.0"/>
<line x1="350.80" y1="102.10" x2="350.80" y2="104.70" stroke="#000" stroke-width="1.0"/>
<line x1="371.00" y1="102.10" x2="371.00" y2="104.70" stroke="#000" stroke-width="1.0"/>
<line x1="331.60" y1="100.40" x2="331.60" y2="97.70" stroke="#222" stroke-width="1.1"/>
<line x1="327.45" y1="97.70" x2="335.75" y2="97.70" stroke="#222" stroke-width="1.1"/>
<rect x="323.80" y="100.40" width="15.60" height="1.70" fill="#6aab3b"/>
<line x1="347.00" y1="101.50" x2="354.50" y2="101.50" stroke="#222" stroke-width="0.8"/>
<line x1="371.00" y1="67.90" x2="371.00" y2="59.50" stroke="#a50d32" stroke-width="1.1"/>
<line x1="367.25" y1="59.50" x2="374.75" y2="59.50" stroke="#a50d32" stroke-width="1.1"/>
<rect x="363.60" y="67.90" width="14.80" height="34.20" fill="#a50d32"/>
<text x="371.00" y="60.30" font-size="7.0" text-anchor="middle" stroke="#1a1a1a" stroke-width="0.1">***</text>
<text x="316.00" y="111.60" font-size="6.4" text-anchor="end" transform="rotate(-45 316.00 111.60)" stroke="#1a1a1a" stroke-width="0.1">WT</text>
<text x="336.80" y="111.60" font-size="6.4" text-anchor="end" transform="rotate(-45 336.80 111.60)" stroke="#1a1a1a" stroke-width="0.1">3a KO</text>
<text x="356.00" y="111.60" font-size="6.4" text-anchor="end" transform="rotate(-45 356.00 111.60)" stroke="#1a1a1a" stroke-width="0.1">WT-140</text>
<text x="376.20" y="111.60" font-size="6.4" text-anchor="end" transform="rotate(-45 376.20 111.60)" stroke="#1a1a1a" stroke-width="0.1">3aKO-140</text>
<text transform="translate(265.20 73.60) rotate(-90) scale(0.887 1)" font-size="7.7" text-anchor="middle" stroke="#1a1a1a" stroke-width="0.1">Fold change relative</text>
<text transform="translate(275.50 72.70) rotate(-90) scale(0.873 1)" font-size="7.7" text-anchor="middle" stroke="#1a1a1a" stroke-width="0.1">to WT-140</text>
<text x="457.90" y="31.60" font-size="8.6" stroke="#1a1a1a" stroke-width="0.1">PGE</text>
<text x="475.00" y="34.40" font-size="5.0" stroke="#1a1a1a" stroke-width="0.1">2</text>
<line x1="423.50" y1="40.30" x2="423.50" y2="102.50" stroke="#000" stroke-width="1.1"/>
<line x1="423.00" y1="102.00" x2="512.30" y2="102.00" stroke="#000" stroke-width="1.1"/>
<line x1="420.20" y1="102.00" x2="423.50" y2="102.00" stroke="#000" stroke-width="1.0"/>
<text x="417.50" y="104.70" font-size="6.3" text-anchor="end" textLength="3.6" lengthAdjust="spacingAndGlyphs" stroke="#1a1a1a" stroke-width="0.1">0</text>
<line x1="420.20" y1="87.08" x2="423.50" y2="87.08" stroke="#000" stroke-width="1.0"/>
<text x="417.50" y="89.78" font-size="6.3" text-anchor="end" textLength="7.2" lengthAdjust="spacingAndGlyphs" stroke="#1a1a1a" stroke-width="0.1">50</text>
<line x1="420.20" y1="72.15" x2="423.50" y2="72.15" stroke="#000" stroke-width="1.0"/>
<text x="417.50" y="74.85" font-size="6.3" text-anchor="end" textLength="10.8" lengthAdjust="spacingAndGlyphs" stroke="#1a1a1a" stroke-width="0.1">100</text>
<line x1="420.20" y1="57.23" x2="423.50" y2="57.23" stroke="#000" stroke-width="1.0"/>
<text x="417.50" y="59.93" font-size="6.3" text-anchor="end" textLength="10.8" lengthAdjust="spacingAndGlyphs" stroke="#1a1a1a" stroke-width="0.1">150</text>
<line x1="420.20" y1="42.30" x2="423.50" y2="42.30" stroke="#000" stroke-width="1.0"/>
<text x="417.50" y="45.00" font-size="6.3" text-anchor="end" textLength="10.8" lengthAdjust="spacingAndGlyphs" stroke="#1a1a1a" stroke-width="0.1">200</text>
<line x1="434.40" y1="102.00" x2="434.40" y2="104.60" stroke="#000" stroke-width="1.0"/>
<line x1="457.10" y1="102.00" x2="457.10" y2="104.60" stroke="#000" stroke-width="1.0"/>
<line x1="479.10" y1="102.00" x2="479.10" y2="104.60" stroke="#000" stroke-width="1.0"/>
<line x1="501.40" y1="102.00" x2="501.40" y2="104.60" stroke="#000" stroke-width="1.0"/>
<line x1="434.45" y1="96.90" x2="434.45" y2="96.00" stroke="#222" stroke-width="1.1"/>
<line x1="430.70" y1="96.00" x2="438.20" y2="96.00" stroke="#222" stroke-width="1.1"/>
<rect x="427.30" y="96.90" width="14.30" height="5.10" fill="#5b2a6c"/>
<line x1="457.10" y1="92.20" x2="457.10" y2="89.60" stroke="#222" stroke-width="1.1"/>
<line x1="453.35" y1="89.60" x2="460.85" y2="89.60" stroke="#222" stroke-width="1.1"/>
<rect x="450.00" y="92.20" width="14.20" height="9.80" fill="#6aab3b"/>
<line x1="479.15" y1="87.00" x2="479.15" y2="85.00" stroke="#222" stroke-width="1.1"/>
<line x1="475.40" y1="85.00" x2="482.90" y2="85.00" stroke="#222" stroke-width="1.1"/>
<rect x="472.00" y="87.00" width="14.30" height="15.00" fill="#2c4b86"/>
<line x1="501.45" y1="52.70" x2="501.45" y2="48.40" stroke="#a50d32" stroke-width="1.1"/>
<line x1="497.70" y1="48.40" x2="505.20" y2="48.40" stroke="#a50d32" stroke-width="1.1"/>
<rect x="494.00" y="52.70" width="14.90" height="49.30" fill="#a50d32"/>
<text x="479.10" y="86.00" font-size="7.0" text-anchor="middle" stroke="#1a1a1a" stroke-width="0.1">*</text>
<text x="501.40" y="49.30" font-size="7.0" text-anchor="middle" stroke="#1a1a1a" stroke-width="0.1">***</text>
<text x="439.60" y="111.60" font-size="6.4" text-anchor="end" transform="rotate(-45 439.60 111.60)" stroke="#1a1a1a" stroke-width="0.1">WT</text>
<text x="462.30" y="111.60" font-size="6.4" text-anchor="end" transform="rotate(-45 462.30 111.60)" stroke="#1a1a1a" stroke-width="0.1">3a KO</text>
<text x="484.30" y="111.60" font-size="6.4" text-anchor="end" transform="rotate(-45 484.30 111.60)" stroke="#1a1a1a" stroke-width="0.1">WT-140</text>
<text x="506.60" y="111.60" font-size="6.4" text-anchor="end" transform="rotate(-45 506.60 111.60)" stroke="#1a1a1a" stroke-width="0.1">3aKO-140</text>
<text x="400.30" y="71.40" font-size="7.2" text-anchor="middle" transform="rotate(-90 400.30 71.40)" stroke="#1a1a1a" stroke-width="0.1">pg/mL</text>
<line x1="277.40" y1="155.00" x2="277.40" y2="181.70" stroke="#222" stroke-width="1.0"/>
<line x1="277.40" y1="183.90" x2="277.40" y2="210.00" stroke="#222" stroke-width="1.0"/>
<text transform="translate(276.00 168.40) rotate(-90) scale(0.848 1)" font-size="6.6" text-anchor="middle">H3K4ME3</text>
<text transform="translate(276.00 196.70) rotate(-90) scale(0.818 1)" font-size="6.6" text-anchor="middle">H3K27ac</text>
<text x="351.00" y="152.60" font-size="2.6" fill="#333">chr1: Scale 10 kb</text>
<line x1="378.00" y1="151.40" x2="441.50" y2="151.40" stroke="#222" stroke-width="0.8"/>
<line x1="378.20" y1="150.20" x2="378.20" y2="152.60" stroke="#222" stroke-width="0.7"/>
<line x1="441.30" y1="150.20" x2="441.30" y2="152.60" stroke="#222" stroke-width="0.7"/>
<polygon points="289.0,166.40 289.0,165.72 289.5,166.40 290.0,166.00 290.5,166.40 291.0,166.40 291.5,166.40 292.0,166.38 292.5,166.40 293.0,166.40 293.5,166.40 294.0,166.04 294.5,166.40 295.0,165.64 295.5,165.75 296.0,165.20 296.5,165.75 297.0,166.17 297.5,166.40 298.0,166.06 298.5,166.22 299.0,166.40 299.5,166.40 300.0,166.22 300.5,166.03 301.0,166.38 301.5,166.40 302.0,166.40 302.5,166.40 303.0,165.61 303.5,166.40 304.0,166.13 304.5,166.40 305.0,166.40 305.5,166.40 306.0,166.40 306.5,166.40 307.0,166.40 307.5,165.93 308.0,166.40 308.5,166.40 309.0,166.40 309.5,166.40 310.0,166.21 310.5,166.40 311.0,166.40 311.5,165.96 312.0,166.40 312.5,166.40 313.0,166.40 313.5,166.40 314.0,166.40 314.5,166.40 315.0,166.40 315.5,166.40 316.0,166.40 316.5,166.37 317.0,166.40 317.5,166.40 318.0,166.40 318.5,166.40 319.0,166.00 319.5,166.40 320.0,166.40 320.5,166.40 321.0,166.40 321.5,165.99 322.0,166.40 322.5,166.40 323.0,166.40 323.5,165.96 324.0,166.40 324.5,165.77 325.0,166.40 325.5,166.40 326.0,166.19 326.5,165.80 327.0,165.30 327.5,165.80 328.0,166.19 328.5,165.70 329.0,166.40 329.5,166.00 330.0,166.40 330.5,166.40 331.0,165.97 331.5,166.40 332.0,166.40 332.5,166.40 333.0,166.22 333.5,165.93 334.0,166.40 334.5,166.40 335.0,166.40 335.5,166.40 336.0,165.73 336.5,166.40 337.0,166.39 337.5,165.80 338.0,166.31 338.5,166.40 339.0,166.34 339.5,165.98 340.0,166.18 340.5,166.40 341.0,166.40 341.5,166.02 342.0,166.09 342.5,166.40 343.0,166.31 343.5,166.40 344.0,166.40 344.5,165.92 345.0,166.40 345.5,166.39 346.0,165.82 346.5,165.84 347.0,166.40 347.5,166.40 348.0,165.62 348.5,166.40 349.0,166.40 349.5,165.88 350.0,166.40 350.5,166.40 351.0,165.90 351.5,166.16 352.0,166.40 352.5,166.40 353.0,165.71 353.5,165.65 354.0,166.21 354.5,165.86 355.0,165.40 355.5,165.86 356.0,165.74 356.5,166.40 357.0,166.40 357.5,165.71 358.0,166.40 358.5,166.40 359.0,166.40 359.5,166.40 360.0,166.23 360.5,165.91 361.0,165.50 361.5,165.91 362.0,166.23 362.5,166.00 363.0,165.70 363.5,166.40 364.0,166.24 364.5,165.61 365.0,166.21 365.5,165.86 366.0,165.40 366.5,165.86 367.0,166.21 367.5,165.69 368.0,166.40 368.5,166.40 369.0,166.40 369.5,165.82 370.0,166.26 370.5,166.26 371.0,165.58 371.5,164.56 372.0,163.30 372.5,161.84 373.0,162.14 373.5,163.57 374.0,164.79 374.5,164.47 375.0,163.70 375.5,163.54 376.0,164.32 376.5,165.02 377.0,165.61 377.5,166.00 378.0,165.91 378.5,166.26 379.0,166.35 379.5,166.40 380.0,166.33 380.5,165.69 381.0,166.40 381.5,166.40 382.0,166.40 382.5,165.77 383.0,166.40 383.5,165.86 384.0,166.31 384.5,166.40 385.0,166.21 385.5,166.40 386.0,166.40 386.5,166.27 387.0,165.80 387.5,165.67 388.0,166.40 388.5,166.40 389.0,166.40 389.5,166.20 390.0,166.40 390.5,165.88 391.0,166.39 391.5,166.40 392.0,165.92 392.5,166.40 393.0,166.35 393.5,166.40 394.0,166.21 394.5,165.86 395.0,165.40 395.5,165.86 396.0,166.21 396.5,166.40 397.0,166.40 397.5,166.40 398.0,165.97 398.5,166.20 399.0,166.18 399.5,166.40 400.0,166.40 400.5,166.40 401.0,166.40 401.5,166.40 402.0,166.40 402.5,166.14 403.0,165.72 403.5,166.40 404.0,166.13 404.5,166.40 405.0,166.40 405.5,166.40 406.0,166.38 406.5,166.34 407.0,166.40 407.5,166.34 408.0,166.40 408.5,165.77 409.0,166.40 409.5,166.40 410.0,166.00 410.5,166.40 411.0,165.64 411.5,165.78 412.0,166.40 412.5,166.40 413.0,166.31 413.5,166.40 414.0,166.40 414.5,165.68 415.0,165.67 415.5,166.15 416.0,166.40 416.5,166.40 417.0,166.40 417.5,166.40 418.0,166.40 418.5,166.40 419.0,166.05 419.5,165.83 420.0,166.40 420.5,166.35 421.0,166.40 421.5,166.40 422.0,166.40 422.5,166.40 423.0,166.40 423.5,166.40 424.0,166.40 424.5,166.19 425.0,165.88 425.5,166.40 426.0,166.40 426.5,166.12 427.0,166.30 427.5,165.74 428.0,166.40 428.5,166.40 429.0,166.21 429.5,165.86 430.0,165.40 430.5,165.86 431.0,166.21 431.5,166.40 432.0,166.40 432.5,166.40 433.0,166.00 433.5,166.40 434.0,166.07 434.5,166.40 435.0,166.40 435.5,166.40 436.0,165.88 436.5,166.34 437.0,166.40 437.5,166.40 438.0,165.79 438.5,166.40 439.0,165.85 439.5,166.40 440.0,166.40 440.5,166.40 441.0,166.40 441.5,166.40 442.0,166.40 442.5,166.40 443.0,166.40 443.5,166.40 444.0,166.20 444.5,165.94 445.0,166.40 445.5,165.85 446.0,166.40 446.5,165.99 447.0,165.82 447.5,165.62 448.0,166.40 448.5,166.40 449.0,165.67 449.5,166.40 450.0,165.78 450.5,166.40 451.0,166.40 451.5,166.40 452.0,166.40 452.5,166.40 453.0,166.40 453.5,166.40 454.0,166.40 454.5,166.40 455.0,166.14 455.5,165.67 456.0,166.40 456.5,165.92 457.0,166.40 457.5,166.16 458.0,165.80 458.5,166.25 459.0,166.23 459.5,165.90 460.0,165.50 460.5,165.91 461.0,166.17 461.5,166.40 462.0,165.93 462.5,165.85 463.0,166.40 463.5,166.40 464.0,166.40 464.5,166.40 465.0,166.40 465.5,166.40 466.0,166.40 466.5,166.40 467.0,166.40 467.5,166.31 468.0,166.40 468.5,165.80 469.0,166.40 469.5,166.40 470.0,166.40 470.5,166.40 471.0,166.00 471.5,166.40 472.0,166.00 472.5,166.40 473.0,166.40 473.5,166.05 474.0,166.40 474.5,166.08 475.0,166.40 475.5,166.40 476.0,166.40 476.5,166.40 477.0,166.40 477.5,166.40 478.0,165.92 478.5,166.40 479.0,166.40 479.5,166.40 480.0,166.40 480.2,166.40" fill="#b5163a" stroke="none"/>
<line x1="289.00" y1="166.55" x2="480.20" y2="166.55" stroke="#b5163a" stroke-width="0.55"/>
<polygon points="289.0,179.70 289.0,179.70 289.5,179.70 290.0,179.62 290.5,179.70 291.0,179.70 291.5,179.70 292.0,179.15 292.5,179.70 293.0,179.70 293.5,179.31 294.0,179.05 294.5,179.70 295.0,179.70 295.5,179.70 296.0,179.70 296.5,179.67 297.0,179.28 297.5,179.36 298.0,179.70 298.5,179.70 299.0,179.51 299.5,179.16 300.0,178.70 300.5,179.16 301.0,179.51 301.5,179.70 302.0,178.90 302.5,179.70 303.0,179.70 303.5,179.70 304.0,179.70 304.5,179.70 305.0,178.82 305.5,179.70 306.0,179.02 306.5,179.70 307.0,179.70 307.5,179.70 308.0,179.70 308.5,179.70 309.0,179.70 309.5,179.70 310.0,178.91 310.5,179.70 311.0,179.70 311.5,179.70 312.0,179.70 312.5,179.70 313.0,179.70 313.5,179.41 314.0,179.70 314.5,178.88 315.0,178.88 315.5,178.84 316.0,179.70 316.5,179.70 317.0,179.70 317.5,179.70 318.0,179.70 318.5,179.51 319.0,179.64 319.5,179.30 320.0,178.80 320.5,178.96 321.0,179.64 321.5,179.70 322.0,179.03 322.5,179.11 323.0,179.50 323.5,179.70 324.0,179.23 324.5,179.70 325.0,179.51 325.5,179.70 326.0,179.70 326.5,179.70 327.0,179.37 327.5,179.09 328.0,178.84 328.5,179.04 329.0,179.47 329.5,179.70 330.0,179.53 330.5,179.70 331.0,179.66 331.5,179.70 332.0,179.67 332.5,179.15 333.0,179.70 333.5,179.40 334.0,179.30 334.5,179.70 335.0,179.70 335.5,179.70 336.0,179.70 336.5,179.70 337.0,179.70 337.5,179.70 338.0,179.11 338.5,179.61 339.0,179.70 339.5,179.70 340.0,179.17 340.5,179.24 341.0,178.84 341.5,179.15 342.0,179.70 342.5,179.20 343.0,179.65 343.5,179.55 344.0,179.13 344.5,179.70 345.0,179.70 345.5,179.70 346.0,179.70 346.5,179.30 347.0,179.17 347.5,179.70 348.0,179.70 348.5,179.70 349.0,179.32 349.5,179.70 350.0,179.67 350.5,179.70 351.0,179.05 351.5,179.61 352.0,179.49 352.5,179.23 353.0,179.70 353.5,179.12 354.0,178.88 354.5,179.70 355.0,179.70 355.5,179.70 356.0,179.70 356.5,179.70 357.0,179.32 357.5,179.70 358.0,179.62 358.5,179.70 359.0,179.23 359.5,179.70 360.0,179.70 360.5,178.81 361.0,179.68 361.5,179.70 362.0,179.42 362.5,179.70 363.0,179.70 363.5,179.29 364.0,179.70 364.5,179.70 365.0,179.17 365.5,179.44 366.0,178.86 366.5,179.02 367.0,179.19 367.5,179.28 368.0,179.70 368.5,179.59 369.0,179.63 369.5,179.61 370.0,179.45 370.5,179.24 371.0,178.99 371.5,178.71 372.0,178.40 372.5,178.71 373.0,178.99 373.5,179.24 374.0,179.45 374.5,179.23 375.0,179.05 375.5,178.70 376.0,178.30 376.5,178.70 377.0,179.05 377.5,179.35 378.0,179.57 378.5,179.32 379.0,179.70 379.5,179.70 380.0,179.70 380.5,179.70 381.0,179.38 381.5,179.70 382.0,179.32 382.5,179.62 383.0,179.70 383.5,179.70 384.0,179.70 384.5,179.43 385.0,179.10 385.5,179.70 386.0,179.70 386.5,179.70 387.0,179.21 387.5,179.70 388.0,179.70 388.5,179.24 389.0,179.70 389.5,178.89 390.0,179.70 390.5,179.70 391.0,179.70 391.5,179.70 392.0,179.70 392.5,179.70 393.0,179.30 393.5,179.16 394.0,179.70 394.5,179.24 395.0,179.70 395.5,179.70 396.0,179.70 396.5,179.70 397.0,179.70 397.5,179.70 398.0,179.70 398.5,179.03 399.0,179.70 399.5,179.70 400.0,179.70 400.5,179.14 401.0,179.70 401.5,179.70 402.0,179.70 402.5,179.70 403.0,179.28 403.5,179.70 404.0,179.70 404.5,179.70 405.0,179.70 405.5,178.85 406.0,179.70 406.5,179.70 407.0,179.70 407.5,179.70 408.0,178.97 408.5,179.70 409.0,179.03 409.5,179.70 410.0,178.98 410.5,179.15 411.0,179.70 411.5,179.19 412.0,179.70 412.5,178.83 413.0,179.70 413.5,179.70 414.0,179.64 414.5,179.30 415.0,178.80 415.5,179.30 416.0,179.64 416.5,179.46 417.0,179.70 417.5,179.63 418.0,179.70 418.5,179.02 419.0,179.70 419.5,179.70 420.0,179.70 420.5,179.70 421.0,179.70 421.5,179.55 422.0,179.28 422.5,179.69 423.0,179.70 423.5,179.70 424.0,179.22 424.5,179.30 425.0,179.70 425.5,179.12 426.0,179.70 426.5,179.70 427.0,179.70 427.5,178.96 428.0,179.12 428.5,179.70 429.0,179.70 429.5,178.94 430.0,179.13 430.5,179.22 431.0,179.70 431.5,179.70 432.0,179.70 432.5,179.49 433.0,179.70 433.5,179.45 434.0,179.70 434.5,178.96 435.0,179.37 435.5,179.63 436.0,179.70 436.5,179.30 437.0,178.89 437.5,179.70 438.0,179.70 438.5,179.70 439.0,179.70 439.5,179.61 440.0,179.53 440.5,179.70 441.0,179.38 441.5,179.70 442.0,178.97 442.5,179.70 443.0,179.70 443.5,179.70 444.0,178.91 444.5,179.70 445.0,179.70 445.5,179.70 446.0,179.70 446.5,179.70 447.0,179.70 447.5,179.70 448.0,179.70 448.5,179.70 449.0,179.70 449.5,179.14 450.0,179.70 450.5,179.34 451.0,178.84 451.5,179.27 452.0,179.70 452.5,178.84 453.0,179.67 453.5,179.38 454.0,179.64 454.5,179.30 455.0,178.80 455.5,179.30 456.0,179.64 456.5,178.95 457.0,179.44 457.5,179.70 458.0,179.42 458.5,179.70 459.0,179.57 459.5,179.47 460.0,179.70 460.5,179.39 461.0,179.48 461.5,179.70 462.0,179.36 462.5,179.70 463.0,179.57 463.5,179.70 464.0,179.70 464.5,179.70 465.0,179.23 465.5,179.70 466.0,179.01 466.5,179.70 467.0,178.80 467.5,179.27 468.0,179.70 468.5,178.95 469.0,179.70 469.5,179.70 470.0,179.70 470.5,179.70 471.0,179.70 471.5,179.70 472.0,179.70 472.5,179.70 473.0,179.70 473.5,179.60 474.0,179.70 474.5,178.86 475.0,179.70 475.5,179.70 476.0,179.42 476.5,179.70 477.0,179.60 477.5,179.54 478.0,179.10 478.5,178.83 479.0,179.70 479.5,178.89 480.0,179.27 480.2,179.70" fill="#2b4a8b" stroke="none"/>
<line x1="289.00" y1="179.85" x2="480.20" y2="179.85" stroke="#2b4a8b" stroke-width="0.55"/>
<polygon points="289.0,192.50 289.0,192.06 289.5,192.50 290.0,192.50 290.5,192.50 291.0,192.49 291.5,192.50 292.0,192.31 292.5,192.50 293.0,192.50 293.5,192.50 294.0,192.50 294.5,192.50 295.0,191.99 295.5,192.50 296.0,192.50 296.5,192.50 297.0,192.50 297.5,191.89 298.0,192.50 298.5,192.31 299.0,191.97 299.5,191.53 300.0,191.00 300.5,191.53 301.0,191.97 301.5,192.31 302.0,192.50 302.5,192.50 303.0,192.50 303.5,192.50 304.0,192.50 304.5,192.39 305.0,191.73 305.5,192.50 306.0,192.50 306.5,192.09 307.0,192.50 307.5,192.50 308.0,192.50 308.5,192.50 309.0,192.50 309.5,192.50 310.0,192.50 310.5,192.50 311.0,192.50 311.5,192.50 312.0,191.81 312.5,192.50 313.0,192.50 313.5,192.50 314.0,192.50 314.5,191.83 315.0,192.50 315.5,192.45 316.0,192.50 316.5,192.50 317.0,191.86 317.5,192.50 318.0,192.26 318.5,192.50 319.0,192.50 319.5,192.01 320.0,191.93 320.5,191.80 321.0,192.50 321.5,192.50 322.0,192.50 322.5,192.44 323.0,192.50 323.5,192.34 324.0,192.50 324.5,192.50 325.0,192.47 325.5,192.50 326.0,191.73 326.5,192.50 327.0,192.50 327.5,192.50 328.0,192.50 328.5,192.50 329.0,192.50 329.5,192.50 330.0,192.50 330.5,192.50 331.0,192.50 331.5,192.50 332.0,192.50 332.5,192.26 333.0,192.50 333.5,192.50 334.0,192.50 334.5,192.17 335.0,192.50 335.5,192.01 336.0,192.50 336.5,192.00 337.0,192.50 337.5,192.50 338.0,192.50 338.5,192.50 339.0,192.31 339.5,191.96 340.0,191.50 340.5,191.96 341.0,192.13 341.5,192.50 342.0,192.21 342.5,192.20 343.0,192.50 343.5,192.20 344.0,192.50 344.5,192.04 345.0,192.50 345.5,192.32 346.0,192.50 346.5,192.35 347.0,192.50 347.5,192.50 348.0,192.24 348.5,191.83 349.0,192.50 349.5,192.50 350.0,192.23 350.5,192.50 351.0,192.50 351.5,192.50 352.0,192.40 352.5,192.50 353.0,191.85 353.5,192.50 354.0,192.28 354.5,192.50 355.0,192.50 355.5,192.50 356.0,192.40 356.5,191.86 357.0,192.22 357.5,192.50 358.0,192.50 358.5,192.50 359.0,192.50 359.5,192.50 360.0,192.50 360.5,192.50 361.0,192.50 361.5,192.50 362.0,192.50 362.5,192.50 363.0,191.90 363.5,192.50 364.0,192.50 364.5,192.50 365.0,192.23 365.5,192.45 366.0,192.50 366.5,191.85 367.0,191.78 367.5,192.45 368.0,192.17 368.5,191.76 369.0,191.25 369.5,191.13 370.0,191.66 370.5,191.84 371.0,191.58 371.5,191.29 372.0,190.58 372.5,189.47 373.0,188.20 373.5,189.47 374.0,189.50 374.5,189.90 375.0,190.28 375.5,189.02 376.0,187.15 376.5,186.74 377.0,188.67 377.5,190.32 378.0,191.62 378.5,191.97 379.0,191.53 379.5,191.00 380.0,191.53 380.5,191.97 381.0,192.31 381.5,192.50 382.0,192.50 382.5,192.46 383.0,192.40 383.5,191.72 384.0,192.50 384.5,192.10 385.0,192.25 385.5,192.50 386.0,192.50 386.5,192.50 387.0,192.50 387.5,192.24 388.0,192.06 388.5,192.50 389.0,192.50 389.5,192.36 390.0,192.50 390.5,192.50 391.0,192.50 391.5,192.50 392.0,192.50 392.5,192.50 393.0,192.50 393.5,192.50 394.0,192.50 394.5,192.50 395.0,192.50 395.5,192.50 396.0,192.50 396.5,192.07 397.0,192.50 397.5,192.16 398.0,192.50 398.5,192.50 399.0,192.50 399.5,192.50 400.0,192.50 400.5,192.50 401.0,192.13 401.5,191.85 402.0,192.50 402.5,192.50 403.0,192.50 403.5,192.50 404.0,192.50 404.5,192.50 405.0,192.03 405.5,192.39 406.0,192.50 406.5,192.43 407.0,191.80 407.5,192.48 408.0,192.50 408.5,191.82 409.0,192.50 409.5,192.50 410.0,192.50 410.5,192.50 411.0,192.50 411.5,191.89 412.0,192.50 412.5,192.50 413.0,191.90 413.5,192.50 414.0,192.24 414.5,192.50 415.0,192.50 415.5,192.36 416.0,192.01 416.5,192.50 417.0,192.50 417.5,192.50 418.0,192.50 418.5,192.50 419.0,192.50 419.5,192.10 420.0,192.50 420.5,192.50 421.0,192.50 421.5,191.95 422.0,192.50 422.5,192.50 423.0,192.50 423.5,192.50 424.0,192.50 424.5,192.50 425.0,192.42 425.5,192.50 426.0,192.50 426.5,192.50 427.0,192.50 427.5,192.50 428.0,192.29 428.5,192.03 429.0,192.31 429.5,191.96 430.0,191.50 430.5,191.94 431.0,192.31 431.5,192.50 432.0,192.50 432.5,192.33 433.0,192.12 433.5,192.50 434.0,192.21 434.5,191.88 435.0,191.71 435.5,192.50 436.0,192.50 436.5,192.50 437.0,192.50 437.5,192.50 438.0,192.50 438.5,192.50 439.0,192.50 439.5,192.50 440.0,192.50 440.5,192.50 441.0,192.50 441.5,192.50 442.0,192.31 442.5,192.50 443.0,192.50 443.5,192.50 444.0,192.50 444.5,192.35 445.0,192.35 445.5,192.50 446.0,192.50 446.5,192.50 447.0,191.81 447.5,192.16 448.0,192.50 448.5,192.43 449.0,192.50 449.5,192.21 450.0,192.50 450.5,192.50 451.0,192.23 451.5,192.50 452.0,192.50 452.5,192.03 453.0,192.50 453.5,192.50 454.0,192.50 454.5,192.28 455.0,192.50 455.5,191.79 456.0,192.50 456.5,191.75 457.0,192.50 457.5,192.50 458.0,192.50 458.5,191.96 459.0,192.50 459.5,192.50 460.0,191.90 460.5,192.50 461.0,192.50 461.5,192.50 462.0,192.10 462.5,192.50 463.0,192.50 463.5,192.50 464.0,192.50 464.5,191.98 465.0,192.50 465.5,191.79 466.0,192.50 466.5,191.75 467.0,192.23 467.5,192.50 468.0,192.50 468.5,192.50 469.0,192.50 469.5,192.50 470.0,192.36 470.5,191.93 471.0,192.50 471.5,192.50 472.0,192.50 472.5,192.50 473.0,192.19 473.5,192.50 474.0,192.10 474.5,191.88 475.0,192.50 475.5,192.18 476.0,192.50 476.5,192.50 477.0,192.50 477.5,192.50 478.0,192.28 478.5,192.41 479.0,192.50 479.5,192.50 480.0,192.35 480.2,192.50" fill="#b5163a" stroke="none"/>
<line x1="289.00" y1="192.65" x2="480.20" y2="192.65" stroke="#b5163a" stroke-width="0.55"/>
<polygon points="289.0,205.00 289.0,204.90 289.5,204.85 290.0,204.60 290.5,205.00 291.0,205.00 291.5,205.00 292.0,204.46 292.5,204.81 293.0,204.47 293.5,204.03 294.0,203.50 294.5,204.03 295.0,204.47 295.5,204.69 296.0,205.00 296.5,205.00 297.0,205.00 297.5,205.00 298.0,204.39 298.5,205.00 299.0,204.77 299.5,204.35 300.0,203.80 300.5,204.35 301.0,204.77 301.5,204.09 302.0,205.00 302.5,205.00 303.0,205.00 303.5,205.00 304.0,204.40 304.5,204.84 305.0,204.19 305.5,204.95 306.0,205.00 306.5,204.47 307.0,205.00 307.5,204.00 308.0,204.59 308.5,204.37 309.0,204.64 309.5,205.00 310.0,204.44 310.5,205.00 311.0,204.94 311.5,204.23 312.0,205.00 312.5,204.67 313.0,204.54 313.5,204.30 314.0,205.00 314.5,205.00 315.0,205.00 315.5,205.00 316.0,204.71 316.5,205.00 317.0,205.00 317.5,204.06 318.0,205.00 318.5,205.00 319.0,204.81 319.5,204.86 320.0,204.04 320.5,204.99 321.0,204.83 321.5,205.00 322.0,204.71 322.5,204.02 323.0,204.79 323.5,204.94 324.0,204.32 324.5,204.96 325.0,205.00 325.5,204.00 326.0,204.47 326.5,205.00 327.0,204.01 327.5,205.00 328.0,204.59 328.5,204.58 329.0,204.11 329.5,205.00 330.0,205.00 330.5,204.75 331.0,204.79 331.5,204.13 332.0,204.95 332.5,205.00 333.0,205.00 333.5,205.00 334.0,204.10 334.5,205.00 335.0,205.00 335.5,205.00 336.0,205.00 336.5,204.79 337.0,205.00 337.5,205.00 338.0,205.00 338.5,204.34 339.0,205.00 339.5,205.00 340.0,205.00 340.5,205.00 341.0,205.00 341.5,205.00 342.0,204.08 342.5,205.00 343.0,204.03 343.5,205.00 344.0,205.00 344.5,204.10 345.0,204.03 345.5,205.00 346.0,204.83 346.5,205.00 347.0,205.00 347.5,205.00 348.0,205.00 348.5,205.00 349.0,205.00 349.5,204.12 350.0,204.19 350.5,205.00 351.0,205.00 351.5,205.00 352.0,205.00 352.5,204.33 353.0,204.11 353.5,205.00 354.0,205.00 354.5,205.00 355.0,204.97 355.5,205.00 356.0,205.00 356.5,205.00 357.0,205.00 357.5,204.64 358.0,205.00 358.5,205.00 359.0,204.16 359.5,205.00 360.0,204.46 360.5,204.21 361.0,204.77 361.5,205.00 362.0,205.00 362.5,204.89 363.0,205.00 363.5,205.00 364.0,205.00 364.5,204.14 365.0,205.00 365.5,204.12 366.0,204.70 366.5,205.00 367.0,204.20 367.5,204.13 368.0,204.85 368.5,205.00 369.0,204.46 369.5,204.54 370.0,204.16 370.5,203.71 371.0,203.20 371.5,203.71 372.0,204.16 372.5,204.54 373.0,204.75 373.5,204.44 374.0,203.98 374.5,203.43 375.0,202.80 375.5,203.43 376.0,203.98 376.5,204.09 377.0,204.80 377.5,204.80 378.0,204.13 378.5,203.96 379.0,203.40 379.5,203.96 380.0,204.43 380.5,204.34 381.0,204.92 381.5,204.19 382.0,204.10 382.5,204.42 383.0,204.38 383.5,204.60 384.0,205.00 384.5,204.35 385.0,204.70 385.5,204.98 386.0,205.00 386.5,205.00 387.0,205.00 387.5,205.00 388.0,205.00 388.5,204.42 389.0,205.00 389.5,205.00 390.0,205.00 390.5,205.00 391.0,205.00 391.5,204.35 392.0,205.00 392.5,205.00 393.0,205.00 393.5,205.00 394.0,204.07 394.5,204.40 395.0,205.00 395.5,205.00 396.0,204.77 396.5,204.37 397.0,205.00 397.5,205.00 398.0,204.60 398.5,205.00 399.0,204.59 399.5,204.82 400.0,205.00 400.5,205.00 401.0,205.00 401.5,204.05 402.0,205.00 402.5,204.93 403.0,205.00 403.5,205.00 404.0,205.00 404.5,205.00 405.0,204.77 405.5,204.35 406.0,203.80 406.5,204.35 407.0,204.77 407.5,204.76 408.0,204.05 408.5,204.21 409.0,205.00 409.5,205.00 410.0,205.00 410.5,204.48 411.0,204.90 411.5,204.68 412.0,204.94 412.5,205.00 413.0,204.11 413.5,205.00 414.0,205.00 414.5,205.00 415.0,205.00 415.5,205.00 416.0,205.00 416.5,205.00 417.0,205.00 417.5,205.00 418.0,205.00 418.5,205.00 419.0,204.16 419.5,205.00 420.0,204.83 420.5,205.00 421.0,204.61 421.5,205.00 422.0,205.00 422.5,204.61 423.0,204.97 423.5,205.00 424.0,204.04 424.5,204.84 425.0,205.00 425.5,205.00 426.0,204.45 426.5,205.00 427.0,205.00 427.5,204.17 428.0,205.00 428.5,205.00 429.0,205.00 429.5,205.00 430.0,204.15 430.5,205.00 431.0,205.00 431.5,204.38 432.0,205.00 432.5,204.35 433.0,205.00 433.5,205.00 434.0,204.37 434.5,204.14 435.0,205.00 435.5,204.10 436.0,205.00 436.5,204.17 437.0,205.00 437.5,205.00 438.0,205.00 438.5,205.00 439.0,204.73 439.5,204.24 440.0,203.60 440.5,204.24 441.0,204.73 441.5,205.00 442.0,205.00 442.5,205.00 443.0,205.00 443.5,204.80 444.0,204.22 444.5,205.00 445.0,205.00 445.5,204.02 446.0,205.00 446.5,205.00 447.0,204.16 447.5,205.00 448.0,205.00 448.5,204.27 449.0,204.52 449.5,204.64 450.0,205.00 450.5,205.00 451.0,205.00 451.5,204.61 452.0,205.00 452.5,204.59 453.0,205.00 453.5,204.81 454.0,204.47 454.5,204.03 455.0,203.50 455.5,204.03 456.0,204.47 456.5,204.11 457.0,205.00 457.5,204.24 458.0,204.37 458.5,205.00 459.0,204.38 459.5,204.49 460.0,204.74 460.5,204.09 461.0,204.24 461.5,204.01 462.0,204.91 462.5,204.07 463.0,205.00 463.5,205.00 464.0,205.00 464.5,204.66 465.0,204.77 465.5,204.35 466.0,203.80 466.5,204.35 467.0,204.03 467.5,204.43 468.0,205.00 468.5,205.00 469.0,204.15 469.5,204.28 470.0,204.23 470.5,204.79 471.0,204.68 471.5,204.02 472.0,205.00 472.5,204.01 473.0,204.79 473.5,205.00 474.0,205.00 474.5,205.00 475.0,205.00 475.5,204.10 476.0,205.00 476.5,205.00 477.0,205.00 477.5,204.80 478.0,204.52 478.5,205.00 479.0,205.00 479.5,204.26 480.0,205.00 480.2,205.00" fill="#2b4a8b" stroke="none"/>
<line x1="289.00" y1="205.15" x2="480.20" y2="205.15" stroke="#2b4a8b" stroke-width="0.55"/>
<text x="380.20" y="160.40" font-size="6.0" fill="#b5163a" stroke="#b5163a" stroke-width="0.1">3aKO-140</text>
<text x="380.20" y="173.40" font-size="6.0" fill="#2b4a8b" stroke="#2b4a8b" stroke-width="0.1">WT_MEP1</text>
<text x="380.20" y="187.00" font-size="6.0" fill="#b5163a" stroke="#b5163a" stroke-width="0.1">3aKO-140</text>
<text x="380.20" y="200.50" font-size="6.0" fill="#2b4a8b" stroke="#2b4a8b" stroke-width="0.1">WT</text>
<text x="288.40" y="157.50" font-size="2.6" text-anchor="end" fill="#e8a0a8">25 -</text>
<text x="288.40" y="166.80" font-size="2.6" text-anchor="end" fill="#e8a0a8">0 -</text>
<text x="288.40" y="170.50" font-size="2.6" text-anchor="end" fill="#e8a0a8">25 -</text>
<text x="288.40" y="180.30" font-size="2.6" text-anchor="end" fill="#a8b8d8">0 -</text>
<text x="288.40" y="184.00" font-size="2.6" text-anchor="end" fill="#e8a0a8">5 -</text>
<text x="288.40" y="193.30" font-size="2.6" text-anchor="end" fill="#e8a0a8">0 -</text>
<text x="288.40" y="197.00" font-size="2.6" text-anchor="end" fill="#a8b8d8">5 -</text>
<text x="288.40" y="205.60" font-size="2.6" text-anchor="end" fill="#a8b8d8">0 -</text>
<text x="390.00" y="208.30" font-size="2.4" fill="#5a7ab8">RefSeq Genes</text>
<line x1="289.00" y1="210.70" x2="372.00" y2="210.70" stroke="#5d2d7e" stroke-width="0.8"/>
<line x1="292.00" y1="209.90" x2="292.80" y2="210.70" stroke="#5d2d7e" stroke-width="0.5"/>
<line x1="292.00" y1="211.50" x2="292.80" y2="210.70" stroke="#5d2d7e" stroke-width="0.5"/>
<line x1="299.00" y1="209.90" x2="299.80" y2="210.70" stroke="#5d2d7e" stroke-width="0.5"/>
<line x1="299.00" y1="211.50" x2="299.80" y2="210.70" stroke="#5d2d7e" stroke-width="0.5"/>
<line x1="306.00" y1="209.90" x2="306.80" y2="210.70" stroke="#5d2d7e" stroke-width="0.5"/>
<line x1="306.00" y1="211.50" x2="306.80" y2="210.70" stroke="#5d2d7e" stroke-width="0.5"/>
<line x1="313.00" y1="209.90" x2="313.80" y2="210.70" stroke="#5d2d7e" stroke-width="0.5"/>
<line x1="313.00" y1="211.50" x2="313.80" y2="210.70" stroke="#5d2d7e" stroke-width="0.5"/>
<line x1="320.00" y1="209.90" x2="320.80" y2="210.70" stroke="#5d2d7e" stroke-width="0.5"/>
<line x1="320.00" y1="211.50" x2="320.80" y2="210.70" stroke="#5d2d7e" stroke-width="0.5"/>
<line x1="327.00" y1="209.90" x2="327.80" y2="210.70" stroke="#5d2d7e" stroke-width="0.5"/>
<line x1="327.00" y1="211.50" x2="327.80" y2="210.70" stroke="#5d2d7e" stroke-width="0.5"/>
<line x1="334.00" y1="209.90" x2="334.80" y2="210.70" stroke="#5d2d7e" stroke-width="0.5"/>
<line x1="334.00" y1="211.50" x2="334.80" y2="210.70" stroke="#5d2d7e" stroke-width="0.5"/>
<line x1="341.00" y1="209.90" x2="341.80" y2="210.70" stroke="#5d2d7e" stroke-width="0.5"/>
<line x1="341.00" y1="211.50" x2="341.80" y2="210.70" stroke="#5d2d7e" stroke-width="0.5"/>
<line x1="348.00" y1="209.90" x2="348.80" y2="210.70" stroke="#5d2d7e" stroke-width="0.5"/>
<line x1="348.00" y1="211.50" x2="348.80" y2="210.70" stroke="#5d2d7e" stroke-width="0.5"/>
<line x1="355.00" y1="209.90" x2="355.80" y2="210.70" stroke="#5d2d7e" stroke-width="0.5"/>
<line x1="355.00" y1="211.50" x2="355.80" y2="210.70" stroke="#5d2d7e" stroke-width="0.5"/>
<line x1="362.00" y1="209.90" x2="362.80" y2="210.70" stroke="#5d2d7e" stroke-width="0.5"/>
<line x1="362.00" y1="211.50" x2="362.80" y2="210.70" stroke="#5d2d7e" stroke-width="0.5"/>
<line x1="369.00" y1="209.90" x2="369.80" y2="210.70" stroke="#5d2d7e" stroke-width="0.5"/>
<line x1="369.00" y1="211.50" x2="369.80" y2="210.70" stroke="#5d2d7e" stroke-width="0.5"/>
<text x="294.70" y="218.00" font-size="6.0" fill="#5d2d7e" stroke="#5d2d7e" stroke-width="0.1">Ptgs2os</text>
<text x="359.00" y="215.90" font-size="6.0" fill="#5d2d7e" stroke="#5d2d7e" stroke-width="0.1">Ptgs2</text>
<line x1="374.50" y1="213.60" x2="426.00" y2="213.60" stroke="#5d2d7e" stroke-width="0.8"/>
<rect x="374.50" y="212.20" width="1.60" height="2.80" fill="#5d2d7e"/>
<rect x="379.00" y="212.20" width="1.40" height="2.80" fill="#5d2d7e"/>
<rect x="383.00" y="212.20" width="1.50" height="2.80" fill="#5d2d7e"/>
<rect x="387.00" y="212.20" width="1.50" height="2.80" fill="#5d2d7e"/>
<rect x="391.50" y="212.20" width="1.60" height="2.80" fill="#5d2d7e"/>
<rect x="396.00" y="212.20" width="2.20" height="2.80" fill="#5d2d7e"/>
<rect x="399.50" y="212.20" width="2.00" height="2.80" fill="#5d2d7e"/>
<rect x="402.50" y="212.20" width="2.50" height="2.80" fill="#5d2d7e"/>
<rect x="405.50" y="212.20" width="2.40" height="2.80" fill="#5d2d7e"/>
<rect x="408.50" y="212.20" width="2.20" height="2.80" fill="#5d2d7e"/>
<rect x="411.00" y="212.20" width="15.00" height="2.80" fill="#5d2d7e"/>
<line x1="374.50" y1="211.00" x2="374.50" y2="213.60" stroke="#5d2d7e" stroke-width="0.6"/>
<line x1="374.50" y1="211.00" x2="377.00" y2="211.00" stroke="#5d2d7e" stroke-width="0.6"/>
<text x="339.40" y="225.30" font-size="2.6" fill="#333">100 kb</text>
<line x1="352.40" y1="224.40" x2="448.50" y2="224.40" stroke="#777" stroke-width="1.1"/>
<text x="351.00" y="230.30" font-size="2.6" fill="#333">chr3: 157,250,000 |</text>
<line x1="277.80" y1="230.00" x2="277.80" y2="255.60" stroke="#555" stroke-width="1.3"/>
<line x1="277.80" y1="258.30" x2="277.80" y2="283.90" stroke="#555" stroke-width="1.3"/>
<text transform="translate(276.00 242.50) rotate(-90) scale(0.831 1)" font-size="6.6" text-anchor="middle">H3K4ME3</text>
<text transform="translate(276.00 271.10) rotate(-90) scale(0.818 1)" font-size="6.6" text-anchor="middle">H3K27ac</text>
<polygon points="289.0,242.50 289.0,242.50 289.5,242.50 290.0,242.50 290.5,242.50 291.0,242.50 291.5,242.50 292.0,242.03 292.5,242.50 293.0,242.50 293.5,242.50 294.0,242.03 294.5,241.96 295.0,242.50 295.5,242.28 296.0,241.58 296.5,242.50 297.0,241.70 297.5,241.88 298.0,242.50 298.5,242.50 299.0,242.25 299.5,241.79 300.0,241.20 300.5,241.54 301.0,242.25 301.5,242.50 302.0,241.56 302.5,242.50 303.0,242.50 303.5,242.50 304.0,242.14 304.5,242.35 305.0,242.20 305.5,242.50 306.0,241.82 306.5,242.19 307.0,242.50 307.5,242.50 308.0,242.02 308.5,242.50 309.0,241.52 309.5,241.75 310.0,242.50 310.5,241.71 311.0,241.92 311.5,242.45 312.0,241.54 312.5,241.74 313.0,242.50 313.5,242.50 314.0,242.15 314.5,242.50 315.0,242.50 315.5,241.75 316.0,242.50 316.5,242.50 317.0,241.55 317.5,242.16 318.0,242.50 318.5,242.50 319.0,241.58 319.5,242.50 320.0,242.18 320.5,242.42 321.0,241.81 321.5,242.50 322.0,242.45 322.5,242.50 323.0,242.50 323.5,242.26 324.0,242.50 324.5,242.50 325.0,242.50 325.5,242.44 326.0,242.50 326.5,242.01 327.0,242.50 327.5,241.77 328.0,242.50 328.5,242.50 329.0,242.50 329.5,242.07 330.0,241.66 330.5,242.05 331.0,242.50 331.5,237.71 332.0,233.48 332.5,233.95 333.0,239.12 333.5,240.35 334.0,241.54 334.5,242.10 335.0,242.12 335.5,242.50 336.0,242.50 336.5,242.50 337.0,242.50 337.5,242.41 338.0,241.72 338.5,242.50 339.0,241.71 339.5,242.50 340.0,242.50 340.5,242.50 341.0,242.50 341.5,241.80 342.0,242.01 342.5,242.50 343.0,242.50 343.5,241.55 344.0,242.31 344.5,241.96 345.0,241.50 345.5,241.83 346.0,242.31 346.5,242.50 347.0,242.50 347.5,242.50 348.0,241.86 348.5,242.50 349.0,242.50 349.5,241.66 350.0,242.50 350.5,242.50 351.0,242.50 351.5,242.50 352.0,242.50 352.5,242.50 353.0,241.66 353.5,242.50 354.0,242.50 354.5,242.50 355.0,242.50 355.5,242.50 356.0,241.72 356.5,242.50 357.0,242.50 357.5,241.88 358.0,242.50 358.5,242.50 359.0,242.50 359.5,242.34 360.0,241.85 360.5,241.81 361.0,242.50 361.5,242.03 362.0,242.45 362.5,238.42 363.0,234.82 363.5,235.22 364.0,239.62 364.5,240.32 365.0,238.50 365.5,240.32 366.0,241.51 366.5,240.68 367.0,239.70 367.5,240.68 368.0,241.51 368.5,241.92 369.0,241.79 369.5,241.20 370.0,240.50 370.5,241.20 371.0,241.79 371.5,242.25 372.0,241.93 372.5,241.46 373.0,240.90 373.5,241.46 374.0,241.61 374.5,242.30 375.0,242.50 375.5,242.50 376.0,241.87 376.5,242.50 377.0,242.07 377.5,242.21 378.0,242.50 378.5,241.54 379.0,242.50 379.5,242.50 380.0,241.52 380.5,242.50 381.0,242.18 381.5,242.50 382.0,242.50 382.5,242.02 383.0,241.88 383.5,242.21 384.0,242.50 384.5,242.50 385.0,241.97 385.5,241.56 386.0,242.50 386.5,242.23 387.0,241.51 387.5,241.89 388.0,242.50 388.5,242.50 389.0,242.25 389.5,241.79 390.0,241.20 390.5,241.79 391.0,242.20 391.5,242.50 392.0,242.50 392.5,241.75 393.0,242.50 393.5,242.25 394.0,242.50 394.5,242.50 395.0,242.50 395.5,242.50 396.0,241.72 396.5,241.92 397.0,242.50 397.5,242.50 398.0,242.50 398.5,242.50 399.0,242.11 399.5,242.50 400.0,242.20 400.5,242.50 401.0,241.66 401.5,242.50 402.0,242.21 402.5,242.50 403.0,242.50 403.5,242.02 404.0,242.23 404.5,241.74 405.0,241.10 405.5,241.74 406.0,242.23 406.5,242.27 407.0,242.50 407.5,242.50 408.0,242.50 408.5,241.78 409.0,242.50 409.5,242.50 410.0,242.50 410.5,241.66 411.0,241.85 411.5,242.50 412.0,242.50 412.5,242.21 413.0,242.50 413.5,241.89 414.0,242.34 414.5,242.50 415.0,242.39 415.5,242.43 416.0,241.92 416.5,242.50 417.0,242.50 417.5,242.07 418.0,241.90 418.5,242.50 419.0,242.31 419.5,241.96 420.0,241.50 420.5,241.87 421.0,242.31 421.5,242.50 422.0,242.50 422.5,242.50 423.0,241.95 423.5,241.75 424.0,242.50 424.5,242.27 425.0,241.76 425.5,241.79 426.0,242.50 426.5,241.83 427.0,242.38 427.5,242.50 428.0,241.62 428.5,242.50 429.0,241.70 429.5,241.77 430.0,242.35 430.5,242.50 431.0,242.50 431.5,242.38 432.0,242.50 432.5,242.50 433.0,242.50 433.5,241.88 434.0,242.26 434.5,241.89 435.0,242.11 435.5,241.67 436.0,242.50 436.5,242.50 437.0,241.65 437.5,242.50 438.0,242.50 438.5,242.50 439.0,242.27 439.5,241.85 440.0,241.30 440.5,241.61 441.0,242.27 441.5,242.50 442.0,242.03 442.5,242.50 443.0,242.50 443.5,242.03 444.0,242.35 444.5,242.13 445.0,241.62 445.5,242.25 446.0,242.34 446.5,242.26 447.0,242.50 447.5,241.58 448.0,241.56 448.5,242.50 449.0,242.50 449.5,242.50 450.0,242.50 450.5,241.83 451.0,241.83 451.5,242.50 452.0,242.30 452.5,242.27 453.0,242.10 453.5,242.50 454.0,242.19 454.5,242.50 455.0,241.77 455.5,242.50 456.0,242.26 456.5,242.50 457.0,242.50 457.5,242.50 458.0,241.52 458.5,242.44 459.0,242.50 459.5,242.46 460.0,242.50 460.5,242.50 461.0,242.50 461.5,242.41 462.0,241.60 462.5,242.50 463.0,242.50 463.5,242.26 464.0,242.10 464.5,242.24 465.0,242.19 465.5,242.46 466.0,242.50 466.5,241.99 467.0,241.97 467.5,242.19 468.0,241.96 468.5,242.50 469.0,242.50 469.5,242.50 470.0,242.48 470.5,242.50 471.0,242.50 471.5,242.50 472.0,241.87 472.5,242.50 473.0,242.50 473.5,242.05 474.0,242.50 474.5,242.38 475.0,242.41 475.5,242.50 476.0,242.50 476.5,242.37 477.0,242.26 477.5,242.07 478.0,242.50 478.5,242.44 479.0,242.50 479.5,242.30 480.0,242.13 480.2,242.50" fill="#b5163a" stroke="none"/>
<line x1="289.00" y1="242.65" x2="480.20" y2="242.65" stroke="#b5163a" stroke-width="0.55"/>
<polygon points="289.0,257.30 289.0,257.30 289.5,257.30 290.0,257.30 290.5,257.30 291.0,257.30 291.5,257.30 292.0,257.30 292.5,256.61 293.0,256.58 293.5,257.30 294.0,256.82 294.5,257.30 295.0,256.80 295.5,257.30 296.0,256.58 296.5,257.30 297.0,257.30 297.5,257.22 298.0,257.30 298.5,257.30 299.0,257.13 299.5,256.73 300.0,256.40 300.5,256.81 301.0,256.71 301.5,256.46 302.0,257.30 302.5,257.30 303.0,257.30 303.5,257.30 304.0,257.30 304.5,257.30 305.0,256.97 305.5,257.30 306.0,256.77 306.5,256.51 307.0,257.30 307.5,256.70 308.0,257.12 308.5,257.30 309.0,257.11 309.5,257.30 310.0,257.30 310.5,256.60 311.0,257.00 311.5,257.30 312.0,257.30 312.5,256.96 313.0,257.19 313.5,257.30 314.0,256.92 314.5,257.30 315.0,256.42 315.5,256.42 316.0,257.30 316.5,257.30 317.0,257.30 317.5,256.55 318.0,257.30 318.5,257.30 319.0,257.30 319.5,257.30 320.0,257.22 320.5,257.30 321.0,256.86 321.5,257.30 322.0,257.28 322.5,256.77 323.0,257.07 323.5,257.30 324.0,257.30 324.5,256.93 325.0,257.30 325.5,257.30 326.0,256.87 326.5,257.30 327.0,256.96 327.5,256.58 328.0,256.71 328.5,257.30 329.0,257.30 329.5,256.76 330.0,256.94 330.5,257.30 331.0,257.30 331.5,254.60 332.0,250.48 332.5,250.10 333.0,253.47 333.5,255.28 334.0,256.33 334.5,257.08 335.0,257.13 335.5,257.30 336.0,257.30 336.5,256.60 337.0,257.30 337.5,257.30 338.0,257.30 338.5,256.97 339.0,256.74 339.5,257.30 340.0,256.73 340.5,257.21 341.0,257.30 341.5,257.30 342.0,257.30 342.5,257.30 343.0,257.30 343.5,256.55 344.0,256.74 344.5,257.30 345.0,257.30 345.5,257.30 346.0,257.30 346.5,257.30 347.0,257.30 347.5,256.45 348.0,257.30 348.5,256.60 349.0,257.05 349.5,257.30 350.0,256.58 350.5,257.30 351.0,256.45 351.5,256.53 352.0,256.43 352.5,256.47 353.0,257.22 353.5,257.30 354.0,257.30 354.5,257.30 355.0,257.14 355.5,257.25 356.0,257.30 356.5,257.30 357.0,257.30 357.5,257.30 358.0,257.23 358.5,257.30 359.0,256.81 359.5,257.30 360.0,257.30 360.5,257.23 361.0,257.30 361.5,256.83 362.0,257.05 362.5,256.79 363.0,255.19 363.5,253.55 364.0,254.25 364.5,257.15 365.0,257.08 365.5,256.19 366.0,254.80 366.5,256.19 367.0,257.01 367.5,256.90 368.0,256.40 368.5,256.48 369.0,255.80 369.5,256.48 370.0,257.01 370.5,257.30 371.0,256.70 371.5,256.65 372.0,256.10 372.5,256.65 373.0,256.62 373.5,256.66 374.0,256.97 374.5,256.81 375.0,257.30 375.5,256.79 376.0,257.30 376.5,256.88 377.0,257.30 377.5,257.30 378.0,256.70 378.5,257.20 379.0,257.30 379.5,256.47 380.0,257.30 380.5,257.30 381.0,257.30 381.5,257.30 382.0,256.90 382.5,256.53 383.0,257.30 383.5,257.30 384.0,256.77 384.5,256.59 385.0,257.30 385.5,257.30 386.0,257.30 386.5,257.30 387.0,257.30 387.5,256.76 388.0,256.97 388.5,256.45 389.0,256.47 389.5,257.30 390.0,256.55 390.5,257.17 391.0,257.24 391.5,256.55 392.0,256.77 392.5,257.18 393.0,257.14 393.5,257.30 394.0,256.77 394.5,257.30 395.0,257.30 395.5,257.30 396.0,257.18 396.5,257.30 397.0,256.90 397.5,257.30 398.0,257.30 398.5,257.30 399.0,257.30 399.5,257.30 400.0,256.77 400.5,257.30 401.0,257.30 401.5,257.30 402.0,257.30 402.5,257.30 403.0,257.30 403.5,257.30 404.0,257.30 404.5,256.47 405.0,257.30 405.5,257.30 406.0,257.07 406.5,256.97 407.0,257.30 407.5,257.30 408.0,257.23 408.5,257.30 409.0,257.30 409.5,257.30 410.0,256.96 410.5,256.48 411.0,257.30 411.5,257.30 412.0,257.30 412.5,257.30 413.0,257.30 413.5,257.30 414.0,256.41 414.5,257.30 415.0,257.30 415.5,257.30 416.0,257.30 416.5,257.30 417.0,257.18 417.5,256.76 418.0,257.30 418.5,256.85 419.0,256.68 419.5,256.76 420.0,256.30 420.5,256.76 421.0,256.98 421.5,256.64 422.0,257.30 422.5,257.13 423.0,257.30 423.5,257.30 424.0,257.30 424.5,257.30 425.0,256.75 425.5,257.30 426.0,257.30 426.5,257.30 427.0,257.30 427.5,257.30 428.0,257.30 428.5,257.30 429.0,257.30 429.5,257.30 430.0,256.41 430.5,257.30 431.0,257.05 431.5,257.30 432.0,256.74 432.5,256.55 433.0,256.55 433.5,256.70 434.0,257.30 434.5,257.28 435.0,257.30 435.5,257.30 436.0,256.90 436.5,256.41 437.0,257.30 437.5,257.30 438.0,257.30 438.5,257.19 439.0,257.30 439.5,257.30 440.0,257.30 440.5,257.30 441.0,257.07 441.5,257.30 442.0,256.81 442.5,257.30 443.0,257.30 443.5,257.30 444.0,257.30 444.5,256.63 445.0,257.30 445.5,257.30 446.0,256.51 446.5,257.30 447.0,257.30 447.5,257.27 448.0,257.11 448.5,257.16 449.0,256.65 449.5,257.30 450.0,257.30 450.5,256.64 451.0,257.30 451.5,256.51 452.0,257.13 452.5,256.47 453.0,256.95 453.5,257.30 454.0,256.71 454.5,256.91 455.0,257.30 455.5,257.30 456.0,257.30 456.5,256.73 457.0,257.30 457.5,257.30 458.0,257.30 458.5,257.30 459.0,257.06 459.5,257.30 460.0,256.92 460.5,256.41 461.0,257.30 461.5,257.30 462.0,257.05 462.5,257.30 463.0,256.70 463.5,257.30 464.0,257.20 464.5,256.82 465.0,257.06 465.5,257.06 466.0,256.95 466.5,257.30 467.0,257.30 467.5,257.30 468.0,257.30 468.5,256.85 469.0,257.30 469.5,257.30 470.0,257.29 470.5,256.84 471.0,257.30 471.5,256.59 472.0,257.30 472.5,257.30 473.0,257.30 473.5,256.59 474.0,257.19 474.5,256.86 475.0,257.05 475.5,257.18 476.0,257.28 476.5,257.01 477.0,256.67 477.5,257.30 478.0,257.30 478.5,256.75 479.0,257.14 479.5,256.70 480.0,257.10 480.2,257.30" fill="#2b4a8b" stroke="none"/>
<line x1="289.00" y1="257.45" x2="480.20" y2="257.45" stroke="#2b4a8b" stroke-width="0.55"/>
<polygon points="289.0,270.40 289.0,270.25 289.5,270.40 290.0,269.86 290.5,270.34 291.0,270.40 291.5,269.97 292.0,270.31 292.5,269.57 293.0,270.18 293.5,270.40 294.0,270.40 294.5,270.40 295.0,269.42 295.5,269.54 296.0,270.26 296.5,270.09 297.0,270.40 297.5,269.82 298.0,270.40 298.5,269.85 299.0,270.21 299.5,269.72 300.0,269.40 300.5,269.86 301.0,270.10 301.5,270.40 302.0,270.40 302.5,269.83 303.0,270.40 303.5,270.40 304.0,270.40 304.5,269.42 305.0,269.98 305.5,270.40 306.0,269.91 306.5,269.73 307.0,270.40 307.5,270.40 308.0,270.40 308.5,269.70 309.0,270.40 309.5,270.40 310.0,269.56 310.5,270.40 311.0,269.74 311.5,269.70 312.0,270.40 312.5,270.40 313.0,270.40 313.5,270.01 314.0,270.40 314.5,269.94 315.0,270.28 315.5,269.63 316.0,270.15 316.5,269.53 317.0,269.95 317.5,270.40 318.0,270.40 318.5,270.40 319.0,270.40 319.5,269.98 320.0,269.52 320.5,270.40 321.0,270.22 321.5,270.17 322.0,269.81 322.5,270.40 323.0,270.03 323.5,270.40 324.0,270.40 324.5,270.40 325.0,270.40 325.5,270.40 326.0,270.40 326.5,269.50 327.0,270.40 327.5,270.40 328.0,270.40 328.5,270.00 329.0,269.77 329.5,270.33 330.0,270.24 330.5,270.35 331.0,270.25 331.5,267.74 332.0,263.67 332.5,263.30 333.0,266.63 333.5,270.04 334.0,269.55 334.5,270.40 335.0,269.92 335.5,270.30 336.0,270.14 336.5,270.40 337.0,270.38 337.5,270.40 338.0,270.40 338.5,269.86 339.0,269.87 339.5,270.40 340.0,270.40 340.5,270.40 341.0,270.03 341.5,269.63 342.0,270.40 342.5,270.40 343.0,270.18 343.5,270.40 344.0,270.40 344.5,270.40 345.0,270.40 345.5,270.40 346.0,270.40 346.5,269.88 347.0,270.37 347.5,270.12 348.0,269.71 348.5,270.40 349.0,269.46 349.5,270.40 350.0,270.40 350.5,270.18 351.0,270.20 351.5,269.78 352.0,270.40 352.5,270.40 353.0,269.75 353.5,270.40 354.0,269.74 354.5,270.40 355.0,270.40 355.5,270.40 356.0,270.22 356.5,270.40 357.0,269.60 357.5,270.40 358.0,270.00 358.5,270.40 359.0,270.40 359.5,270.27 360.0,269.50 360.5,270.40 361.0,269.57 361.5,270.40 362.0,270.40 362.5,269.85 363.0,268.85 363.5,263.82 364.0,263.37 364.5,267.48 365.0,268.46 365.5,268.16 366.0,267.90 366.5,267.66 367.0,267.46 367.5,266.27 368.0,264.90 368.5,266.27 369.0,266.96 369.5,266.92 370.0,266.90 370.5,266.92 371.0,264.85 371.5,263.00 372.0,264.85 372.5,267.29 373.0,267.46 373.5,267.66 374.0,267.90 374.5,268.16 375.0,268.42 375.5,265.40 376.0,265.12 376.5,267.59 377.0,269.84 377.5,270.12 378.0,270.40 378.5,270.40 379.0,269.92 379.5,269.04 380.0,267.90 380.5,269.04 381.0,269.92 381.5,270.40 382.0,270.40 382.5,269.87 383.0,269.46 383.5,269.06 384.0,267.40 384.5,269.06 385.0,269.84 385.5,270.40 386.0,270.40 386.5,270.28 387.0,270.33 387.5,270.33 388.0,270.02 388.5,269.31 389.0,268.40 389.5,269.31 390.0,270.02 390.5,269.52 391.0,270.40 391.5,269.45 392.0,269.91 392.5,270.40 393.0,270.40 393.5,269.97 394.0,270.40 394.5,270.20 395.0,269.68 395.5,269.85 396.0,270.11 396.5,269.58 397.0,268.90 397.5,269.41 398.0,270.11 398.5,270.40 399.0,270.13 399.5,269.62 400.0,270.27 400.5,269.49 401.0,270.40 401.5,270.25 402.0,270.40 402.5,270.40 403.0,270.40 403.5,270.34 404.0,270.40 404.5,270.33 405.0,270.40 405.5,270.40 406.0,270.40 406.5,269.54 407.0,269.54 407.5,270.06 408.0,270.40 408.5,270.40 409.0,270.27 409.5,270.40 410.0,265.59 410.5,264.47 411.0,267.07 411.5,269.64 412.0,269.90 412.5,270.05 413.0,270.15 413.5,269.67 414.0,270.11 414.5,269.58 415.0,268.90 415.5,269.58 416.0,269.90 416.5,270.40 417.0,269.89 417.5,270.40 418.0,270.40 418.5,269.57 419.0,270.40 419.5,270.40 420.0,270.05 420.5,270.27 421.0,269.66 421.5,270.24 422.0,269.56 422.5,270.40 423.0,270.40 423.5,270.16 424.0,269.94 424.5,269.95 425.0,269.44 425.5,270.40 426.0,270.40 426.5,269.43 427.0,270.04 427.5,270.02 428.0,269.90 428.5,269.90 429.0,270.14 429.5,270.00 430.0,270.38 430.5,270.17 431.0,270.40 431.5,270.40 432.0,270.40 432.5,270.40 433.0,270.40 433.5,270.40 434.0,270.07 434.5,270.40 435.0,269.68 435.5,270.40 436.0,269.56 436.5,270.40 437.0,270.40 437.5,270.40 438.0,270.40 438.5,269.88 439.0,270.40 439.5,270.40 440.0,270.40 440.5,270.40 441.0,270.40 441.5,270.40 442.0,270.40 442.5,270.40 443.0,270.37 443.5,270.04 444.0,269.56 444.5,270.40 445.0,270.40 445.5,270.40 446.0,270.40 446.5,270.40 447.0,270.40 447.5,270.40 448.0,270.40 448.5,270.40 449.0,270.40 449.5,269.66 450.0,270.33 450.5,269.67 451.0,269.66 451.5,270.40 452.0,270.02 452.5,269.72 453.0,270.40 453.5,270.40 454.0,270.40 454.5,270.25 455.0,269.66 455.5,269.83 456.0,270.34 456.5,269.73 457.0,270.40 457.5,270.40 458.0,269.88 458.5,269.93 459.0,269.51 459.5,269.42 460.0,270.40 460.5,269.94 461.0,270.40 461.5,270.40 462.0,270.13 462.5,269.45 463.0,269.82 463.5,269.88 464.0,270.40 464.5,269.58 465.0,270.40 465.5,270.40 466.0,270.40 466.5,269.50 467.0,270.38 467.5,269.91 468.0,270.10 468.5,270.06 469.0,269.56 469.5,269.65 470.0,270.40 470.5,269.47 471.0,270.40 471.5,270.40 472.0,270.03 472.5,269.40 473.0,270.40 473.5,269.97 474.0,270.35 474.5,269.57 475.0,269.46 475.5,270.13 476.0,270.40 476.5,270.03 477.0,270.40 477.5,270.40 478.0,270.40 478.5,270.40 479.0,270.40 479.5,270.40 480.0,270.40 480.2,270.40" fill="#b5163a" stroke="none"/>
<line x1="289.00" y1="270.55" x2="480.20" y2="270.55" stroke="#b5163a" stroke-width="0.55"/>
<polygon points="289.0,282.10 289.0,281.04 289.5,281.32 290.0,281.83 290.5,282.10 291.0,281.39 291.5,281.45 292.0,280.90 292.5,281.45 293.0,281.84 293.5,281.81 294.0,281.11 294.5,281.97 295.0,281.01 295.5,281.42 296.0,281.37 296.5,281.34 297.0,281.39 297.5,282.10 298.0,282.10 298.5,282.03 299.0,281.91 299.5,281.56 300.0,281.10 300.5,281.56 301.0,281.91 301.5,282.10 302.0,281.71 302.5,282.10 303.0,281.26 303.5,281.34 304.0,282.10 304.5,282.10 305.0,282.10 305.5,282.10 306.0,281.93 306.5,282.10 307.0,282.10 307.5,281.11 308.0,282.10 308.5,282.10 309.0,281.83 309.5,281.72 310.0,281.63 310.5,281.18 311.0,282.10 311.5,281.66 312.0,281.37 312.5,282.10 313.0,281.26 313.5,282.09 314.0,282.10 314.5,281.91 315.0,281.85 315.5,281.61 316.0,281.45 316.5,282.00 317.0,281.98 317.5,282.10 318.0,281.21 318.5,282.10 319.0,282.10 319.5,282.10 320.0,282.08 320.5,281.68 321.0,282.10 321.5,282.10 322.0,281.04 322.5,281.18 323.0,281.14 323.5,281.04 324.0,282.10 324.5,282.10 325.0,282.10 325.5,281.03 326.0,282.01 326.5,282.10 327.0,281.58 327.5,281.97 328.0,282.10 328.5,281.96 329.0,281.30 329.5,282.10 330.0,281.67 330.5,281.85 331.0,281.61 331.5,280.30 332.0,274.46 332.5,273.92 333.0,278.70 333.5,282.00 334.0,282.10 334.5,282.10 335.0,282.10 335.5,282.10 336.0,281.85 336.5,282.10 337.0,282.10 337.5,282.10 338.0,281.43 338.5,282.10 339.0,282.10 339.5,282.10 340.0,282.10 340.5,281.77 341.0,282.10 341.5,282.10 342.0,281.06 342.5,282.10 343.0,282.10 343.5,282.10 344.0,282.10 344.5,282.10 345.0,281.17 345.5,281.69 346.0,282.10 346.5,282.10 347.0,281.78 347.5,282.10 348.0,282.10 348.5,282.10 349.0,282.10 349.5,282.10 350.0,282.10 350.5,282.10 351.0,281.63 351.5,281.52 352.0,282.10 352.5,282.02 353.0,282.10 353.5,281.64 354.0,281.19 354.5,281.78 355.0,282.10 355.5,282.10 356.0,281.12 356.5,281.70 357.0,282.10 357.5,282.10 358.0,282.10 358.5,281.21 359.0,282.10 359.5,282.10 360.0,281.24 360.5,282.10 361.0,281.38 361.5,282.10 362.0,282.10 362.5,282.10 363.0,282.10 363.5,281.43 364.0,282.10 364.5,281.59 365.0,281.81 365.5,281.28 366.0,280.60 366.5,281.28 367.0,281.81 367.5,282.10 368.0,282.06 368.5,282.10 369.0,281.72 369.5,281.01 370.0,280.10 370.5,281.01 371.0,281.72 371.5,281.91 372.0,280.85 372.5,279.30 373.0,280.85 373.5,281.31 374.0,281.92 374.5,281.67 375.0,281.24 375.5,280.47 376.0,279.10 376.5,280.47 377.0,281.52 377.5,282.10 378.0,281.68 378.5,280.90 379.0,279.90 379.5,280.90 380.0,281.68 380.5,281.48 381.0,282.10 381.5,282.10 382.0,281.72 382.5,281.01 383.0,280.10 383.5,281.01 384.0,281.12 384.5,282.10 385.0,282.10 385.5,281.07 386.0,282.10 386.5,282.10 387.0,282.10 387.5,282.10 388.0,282.10 388.5,281.70 389.0,281.81 389.5,281.28 390.0,280.60 390.5,281.28 391.0,281.81 391.5,281.03 392.0,282.10 392.5,282.10 393.0,281.86 393.5,282.10 394.0,282.10 394.5,282.10 395.0,282.10 395.5,281.67 396.0,281.69 396.5,282.10 397.0,281.33 397.5,282.10 398.0,281.34 398.5,281.90 399.0,281.81 399.5,281.04 400.0,280.60 400.5,281.28 401.0,281.00 401.5,281.44 402.0,282.10 402.5,282.10 403.0,281.06 403.5,282.10 404.0,281.91 404.5,281.70 405.0,281.69 405.5,282.10 406.0,281.41 406.5,281.95 407.0,282.10 407.5,282.10 408.0,282.06 408.5,281.70 409.0,281.48 409.5,281.39 410.0,282.10 410.5,282.10 411.0,282.10 411.5,282.10 412.0,281.17 412.5,281.15 413.0,281.41 413.5,281.38 414.0,281.46 414.5,282.10 415.0,281.44 415.5,281.58 416.0,281.50 416.5,282.10 417.0,281.94 417.5,282.10 418.0,281.23 418.5,282.10 419.0,281.40 419.5,281.13 420.0,281.97 420.5,281.31 421.0,281.75 421.5,282.10 422.0,282.10 422.5,282.10 423.0,282.10 423.5,282.10 424.0,281.21 424.5,281.16 425.0,281.10 425.5,281.02 426.0,281.54 426.5,281.02 427.0,282.10 427.5,282.10 428.0,282.10 428.5,281.94 429.0,281.32 429.5,282.10 430.0,282.10 430.5,281.44 431.0,282.10 431.5,281.34 432.0,282.07 432.5,281.56 433.0,282.10 433.5,281.66 434.0,282.10 434.5,281.53 435.0,282.10 435.5,281.87 436.0,282.10 436.5,282.10 437.0,281.21 437.5,282.10 438.0,282.10 438.5,282.10 439.0,281.31 439.5,281.38 440.0,281.72 440.5,282.10 441.0,282.10 441.5,282.10 442.0,282.10 442.5,282.10 443.0,282.10 443.5,282.10 444.0,282.10 444.5,281.86 445.0,282.10 445.5,282.10 446.0,281.84 446.5,281.31 447.0,282.10 447.5,281.34 448.0,282.10 448.5,281.61 449.0,282.10 449.5,281.84 450.0,282.10 450.5,282.10 451.0,282.10 451.5,281.25 452.0,281.68 452.5,282.10 453.0,282.10 453.5,281.44 454.0,281.50 454.5,282.10 455.0,282.10 455.5,281.27 456.0,282.10 456.5,282.10 457.0,282.10 457.5,281.57 458.0,282.10 458.5,282.10 459.0,281.00 459.5,281.50 460.0,281.41 460.5,281.73 461.0,281.76 461.5,281.93 462.0,281.22 462.5,282.10 463.0,282.10 463.5,282.10 464.0,281.59 464.5,282.10 465.0,282.10 465.5,282.10 466.0,282.10 466.5,282.10 467.0,282.10 467.5,282.10 468.0,281.61 468.5,281.22 469.0,281.97 469.5,282.10 470.0,282.10 470.5,282.10 471.0,282.10 471.5,282.10 472.0,282.10 472.5,282.10 473.0,282.10 473.5,281.90 474.0,281.23 474.5,282.10 475.0,281.52 475.5,282.10 476.0,282.10 476.5,281.10 477.0,282.10 477.5,282.10 478.0,282.10 478.5,281.33 479.0,281.50 479.5,282.10 480.0,282.10 480.2,282.10" fill="#2b4a8b" stroke="none"/>
<line x1="289.00" y1="282.25" x2="480.20" y2="282.25" stroke="#2b4a8b" stroke-width="0.55"/>
<text x="381.00" y="236.80" font-size="6.0" fill="#b5163a" stroke="#b5163a" stroke-width="0.1">3aKO-140</text>
<text x="381.00" y="249.80" font-size="6.0" fill="#2b4a8b" stroke="#2b4a8b" stroke-width="0.1">WT_MEP1</text>
<text x="381.00" y="263.40" font-size="6.0" fill="#b5163a" stroke="#b5163a" stroke-width="0.1">3aKO-140</text>
<text x="381.00" y="277.00" font-size="6.0" fill="#2b4a8b" stroke="#2b4a8b" stroke-width="0.1">WT</text>
<text x="288.40" y="234.00" font-size="2.6" text-anchor="end" fill="#e8a0a8">2.5 -</text>
<text x="288.40" y="243.10" font-size="2.6" text-anchor="end" fill="#e8a0a8">0 -</text>
<text x="288.40" y="248.00" font-size="2.6" text-anchor="end" fill="#a8b8d8">2.5 -</text>
<text x="288.40" y="258.40" font-size="2.6" text-anchor="end" fill="#a8b8d8">0 -</text>
<text x="288.40" y="261.50" font-size="2.6" text-anchor="end" fill="#e8a0a8">5 -</text>
<text x="288.40" y="270.00" font-size="2.6" text-anchor="end" fill="#e8a0a8">0 -</text>
<text x="288.40" y="274.50" font-size="2.6" text-anchor="end" fill="#a8b8d8">5 -</text>
<text x="288.40" y="282.70" font-size="2.6" text-anchor="end" fill="#a8b8d8">0 -</text>
<text x="390.00" y="285.20" font-size="2.4" fill="#5a7ab8">RefSeq Genes</text>
<text x="286.00" y="288.60" font-size="6.0" fill="#5d2d7e" textLength="39.6" lengthAdjust="spacingAndGlyphs" stroke="#5d2d7e" stroke-width="0.1">4930592C13Rik</text>
<line x1="330.50" y1="286.60" x2="339.50" y2="286.60" stroke="#5d2d7e" stroke-width="0.8"/>
<line x1="330.50" y1="285.20" x2="330.50" y2="288.00" stroke="#5d2d7e" stroke-width="0.8"/>
<text x="343.80" y="288.60" font-size="6.0" fill="#5d2d7e" textLength="16.4" lengthAdjust="spacingAndGlyphs" stroke="#5d2d7e" stroke-width="0.1">Ptger3</text>
<line x1="363.50" y1="287.30" x2="437.80" y2="287.30" stroke="#5d2d7e" stroke-width="0.8"/>
<rect x="363.30" y="285.80" width="1.20" height="3.00" fill="#5d2d7e"/>
<rect x="436.80" y="285.80" width="1.40" height="3.00" fill="#5d2d7e"/>
<rect x="398.50" y="286.40" width="1.20" height="1.80" fill="#5d2d7e"/>
<text x="312.00" y="294.80" font-size="6.0" fill="#5d2d7e" textLength="16.5" lengthAdjust="spacingAndGlyphs" stroke="#5d2d7e" stroke-width="0.1">Zranb2</text>
<line x1="330.00" y1="293.30" x2="345.00" y2="293.30" stroke="#5d2d7e" stroke-width="0.8"/>
<rect x="331.00" y="292.20" width="1.20" height="2.20" fill="#5d2d7e"/>
<rect x="334.50" y="292.20" width="1.20" height="2.20" fill="#5d2d7e"/>
<rect x="338.00" y="292.20" width="1.20" height="2.20" fill="#5d2d7e"/>
<rect x="341.50" y="292.20" width="1.20" height="2.20" fill="#5d2d7e"/>
<rect x="344.00" y="292.20" width="1.20" height="2.20" fill="#5d2d7e"/>
<defs><marker id="ah" viewBox="0 0 10 10" refX="9" refY="5" markerWidth="4.2" markerHeight="4.2" orient="auto-start-reverse"><path d="M0,0 L10,5 L0,10 z" fill="#111"/></marker></defs>
<text x="62.00" y="230.20" font-size="7.0" textLength="41.7" lengthAdjust="spacingAndGlyphs" stroke="#1a1a1a" stroke-width="0.1"><tspan font-style="italic">ex vivo</tspan> culture</text>
<text x="62.00" y="237.60" font-size="7.0" textLength="55.5" lengthAdjust="spacingAndGlyphs" stroke="#1a1a1a" stroke-width="0.1">ckit+ Bone marrow</text>
<text x="62.00" y="245.10" font-size="7.0" stroke="#1a1a1a" stroke-width="0.1">cells</text>
<text x="29.80" y="286.20" font-size="7.0" text-anchor="middle" stroke="#1a1a1a" stroke-width="0.1">Diseased</text>
<text x="30.00" y="293.70" font-size="7.0" text-anchor="middle" textLength="45" lengthAdjust="spacingAndGlyphs" stroke="#1a1a1a" stroke-width="0.1">3aKO-140 mice</text>
<g fill="none" stroke="#555" stroke-width="0.5" stroke-linecap="round"><path d="M32.6,256.8 C30.5,254.2 27.5,253.6 24.8,255.3 C22.6,256.8 20.8,259.4 18.3,259.1" stroke="#808080" stroke-width="0.95"/><circle cx="32.6" cy="256.6" r="0.7" fill="#fff" stroke="#777" stroke-width="0.4"/><path d="M26.0,264.6 C25.8,260.2 28.8,257.4 33.5,257.4 C38.2,257.4 41.2,260.2 41.0,264.6" fill="#fff"/><path d="M25.6,265.0 C24.6,267.5 25.1,270.0 27.2,271.3 C28.6,273.6 30.8,275.9 33.5,276.1 C36.2,275.9 38.4,273.6 39.8,271.3 C41.9,270.0 42.4,267.5 41.4,265.0" fill="#fff"/><path d="M25.4,265.4 C26.8,263.5 30.6,263.6 31.8,267.6" stroke="#666"/><path d="M41.6,265.4 C40.2,263.5 36.4,263.6 35.2,267.6" stroke="#666"/><path d="M26.3,265.0 C27.8,264.3 30.0,264.6 30.9,266.6" stroke="#c8c8c8" stroke-width="0.9"/><path d="M40.7,265.0 C39.2,264.3 37.0,264.6 36.1,266.6" stroke="#c8c8c8" stroke-width="0.9"/><path d="M30.4,274.1 C31.9,275.6 35.1,275.6 36.6,274.1" stroke="#333" stroke-width="0.6"/><path d="M29.6,274.0 L26.8,273.3 M29.8,274.6 L27.3,276.6 M30.3,275.0 L29.0,277.3 M37.4,274.0 L40.2,273.3 M37.2,274.6 L39.7,276.6 M36.7,275.0 L38.0,277.3" stroke="#888" stroke-width="0.35"/></g>
<circle cx="31.3" cy="271.8" r="0.85" fill="#111"/><circle cx="35.4" cy="271.8" r="0.85" fill="#111"/><circle cx="33.5" cy="275.3" r="0.6" fill="#222"/>
<line x1="42.50" y1="265.00" x2="53.30" y2="265.00" stroke="#111" stroke-width="1.15" marker-end="url(#ah)"/>
<path d="M56.2,255.6 C56.0,254.3 59.6,254.3 59.4,255.6 C59.3,256.5 58.6,256.8 58.6,257.6 L58.6,271.2 C58.6,272.0 59.3,272.3 59.4,273.2 C59.6,274.5 56.0,274.5 56.2,273.2 C56.3,272.3 57.0,272.0 57.0,271.2 L57.0,257.6 C57.0,256.8 56.3,256.5 56.2,255.6 Z" fill="#efe2a6" stroke="#cdb877" stroke-width="0.4"/>
<line x1="63.70" y1="265.00" x2="75.40" y2="265.00" stroke="#111" stroke-width="1.15" marker-end="url(#ah)"/>
<ellipse cx="86.2" cy="265.0" rx="8.9" ry="9.7" fill="#cf7d6d" stroke="#2a1a18" stroke-width="0.8"/>
<text x="116.90" y="253.40" font-size="7.3" text-anchor="middle" textLength="31" lengthAdjust="spacingAndGlyphs" stroke="#1a1a1a" stroke-width="0.1">compound</text>
<text x="116.90" y="260.70" font-size="7.3" text-anchor="middle" textLength="29" lengthAdjust="spacingAndGlyphs" stroke="#1a1a1a" stroke-width="0.1">treatment</text>
<line x1="101.00" y1="265.40" x2="136.30" y2="265.40" stroke="#111" stroke-width="1.15" marker-end="url(#ah)"/>
<line x1="141.00" y1="265.40" x2="160.00" y2="254.40" stroke="#111" stroke-width="1.1" marker-end="url(#ah)"/>
<line x1="141.00" y1="265.40" x2="160.00" y2="276.00" stroke="#111" stroke-width="1.1" marker-end="url(#ah)"/>
<text x="166.40" y="255.40" font-size="7.0" stroke="#1a1a1a" stroke-width="0.1">Cell #</text>
<text x="166.40" y="277.40" font-size="7.0" textLength="84" lengthAdjust="spacingAndGlyphs" stroke="#1a1a1a" stroke-width="0.1">Differentiation (Mac1 &amp; Gr1)</text>
<text x="47.60" y="339.00" font-size="9.0" textLength="67.8" lengthAdjust="spacingAndGlyphs" stroke="#1a1a1a" stroke-width="0.1">Drug addition X3</text>
<line x1="33.50" y1="344.80" x2="33.50" y2="409.00" stroke="#000" stroke-width="1.1"/>
<line x1="33.00" y1="408.50" x2="127.00" y2="408.50" stroke="#000" stroke-width="1.1"/>
<line x1="30.50" y1="408.50" x2="33.50" y2="408.50" stroke="#000" stroke-width="0.8"/>
<text x="28.90" y="410.80" font-size="6.5" text-anchor="end" stroke="#1a1a1a" stroke-width="0.1">0</text>
<line x1="30.50" y1="396.20" x2="33.50" y2="396.20" stroke="#000" stroke-width="0.8"/>
<text x="28.90" y="398.50" font-size="6.5" text-anchor="end" stroke="#1a1a1a" stroke-width="0.1">2</text>
<line x1="30.50" y1="383.90" x2="33.50" y2="383.90" stroke="#000" stroke-width="0.8"/>
<text x="28.90" y="386.20" font-size="6.5" text-anchor="end" stroke="#1a1a1a" stroke-width="0.1">4</text>
<line x1="30.50" y1="371.60" x2="33.50" y2="371.60" stroke="#000" stroke-width="0.8"/>
<text x="28.90" y="373.90" font-size="6.5" text-anchor="end" stroke="#1a1a1a" stroke-width="0.1">6</text>
<line x1="30.50" y1="359.30" x2="33.50" y2="359.30" stroke="#000" stroke-width="0.8"/>
<text x="28.90" y="361.60" font-size="6.5" text-anchor="end" stroke="#1a1a1a" stroke-width="0.1">8</text>
<line x1="30.50" y1="347.00" x2="33.50" y2="347.00" stroke="#000" stroke-width="0.8"/>
<text x="28.90" y="349.30" font-size="6.5" text-anchor="end" stroke="#1a1a1a" stroke-width="0.1">10</text>
<line x1="33.50" y1="408.50" x2="33.50" y2="411.00" stroke="#000" stroke-width="0.8"/>
<text x="33.50" y="419.70" font-size="6.5" text-anchor="middle" stroke="#1a1a1a" stroke-width="0.1">0</text>
<line x1="64.10" y1="408.50" x2="64.10" y2="411.00" stroke="#000" stroke-width="0.8"/>
<text x="64.10" y="419.70" font-size="6.5" text-anchor="middle" stroke="#1a1a1a" stroke-width="0.1">2</text>
<line x1="94.70" y1="408.50" x2="94.70" y2="411.00" stroke="#000" stroke-width="0.8"/>
<text x="94.70" y="419.70" font-size="6.5" text-anchor="middle" stroke="#1a1a1a" stroke-width="0.1">4</text>
<line x1="125.30" y1="408.50" x2="125.30" y2="411.00" stroke="#000" stroke-width="0.8"/>
<text x="125.30" y="419.70" font-size="6.5" text-anchor="middle" stroke="#1a1a1a" stroke-width="0.1">6</text>
<line x1="49.00" y1="359.20" x2="79.30" y2="359.20" stroke="#333" stroke-width="0.8"/>
<line x1="49.00" y1="357.80" x2="49.00" y2="360.60" stroke="#333" stroke-width="0.8"/>
<line x1="79.30" y1="357.80" x2="79.30" y2="360.60" stroke="#333" stroke-width="0.8"/>
<polyline points="33.50,402.35 79.40,378.67 110.00,360.53" stroke="#6ab043" stroke-width="0.9" fill="none"/>
<polyline points="33.50,402.35 79.40,398.05 110.00,384.51" stroke="#3a5a9a" stroke-width="0.9" fill="none"/>
<polyline points="33.50,402.35 79.40,400.50 110.00,400.50" stroke="#b31b3c" stroke-width="0.9" fill="none"/>
<line x1="110.00" y1="353.15" x2="110.00" y2="367.91" stroke="#6ab043" stroke-width="0.8"/>
<line x1="108.80" y1="353.15" x2="111.20" y2="353.15" stroke="#6ab043" stroke-width="0.8"/>
<line x1="108.80" y1="367.91" x2="111.20" y2="367.91" stroke="#6ab043" stroke-width="0.8"/>
<line x1="110.00" y1="381.75" x2="110.00" y2="387.28" stroke="#3a5a9a" stroke-width="0.8"/>
<line x1="108.80" y1="381.75" x2="111.20" y2="381.75" stroke="#3a5a9a" stroke-width="0.8"/>
<line x1="108.80" y1="387.28" x2="111.20" y2="387.28" stroke="#3a5a9a" stroke-width="0.8"/>
<line x1="79.40" y1="395.89" x2="79.40" y2="399.89" stroke="#3a5a9a" stroke-width="0.8"/>
<line x1="78.20" y1="395.89" x2="80.60" y2="395.89" stroke="#3a5a9a" stroke-width="0.8"/>
<line x1="78.20" y1="399.89" x2="80.60" y2="399.89" stroke="#3a5a9a" stroke-width="0.8"/>
<rect x="32.10" y="400.95" width="2.80" height="2.80" fill="#b31b3c"/>
<rect x="78.00" y="399.11" width="2.80" height="2.80" fill="#b31b3c"/>
<rect x="108.60" y="399.11" width="2.80" height="2.80" fill="#b31b3c"/>
<rect x="78.10" y="396.75" width="2.6" height="2.6" fill="#fff" stroke="#3a5a9a" stroke-width="0.8"/>
<rect x="108.70" y="383.21" width="2.6" height="2.6" fill="#fff" stroke="#3a5a9a" stroke-width="0.8"/>
<circle cx="33.50" cy="402.35" r="1.5" fill="#6ab043"/>
<circle cx="79.40" cy="378.67" r="1.5" fill="#6ab043"/>
<circle cx="110.00" cy="360.53" r="1.5" fill="#6ab043"/>
<text transform="translate(14.50 375.70) rotate(-90) scale(0.897 1)" font-size="7.8" text-anchor="middle" stroke="#1a1a1a" stroke-width="0.1">Relative cell number</text>
<text x="81.00" y="431.80" font-size="8.0" text-anchor="middle" textLength="34.5" lengthAdjust="spacingAndGlyphs" stroke="#1a1a1a" stroke-width="0.1">Time(days)</text>
<line x1="11.50" y1="446.20" x2="17.30" y2="446.20" stroke="#b31b3c" stroke-width="0.8"/>
<circle cx="14.40" cy="446.2" r="1.3" fill="#b31b3c"/>
<text x="20.20" y="448.30" font-size="6.0" textLength="25.9" lengthAdjust="spacingAndGlyphs" stroke="#1a1a1a" stroke-width="0.1">Celecoxib</text>
<line x1="54.80" y1="446.20" x2="60.60" y2="446.20" stroke="#3a5a9a" stroke-width="0.8"/>
<circle cx="57.70" cy="446.2" r="1.3" fill="#3a5a9a"/>
<text x="63.50" y="448.30" font-size="6.0" textLength="25.3" lengthAdjust="spacingAndGlyphs" stroke="#1a1a1a" stroke-width="0.1">L-798,106</text>
<line x1="98.00" y1="446.20" x2="103.80" y2="446.20" stroke="#6ab043" stroke-width="0.8"/>
<circle cx="100.90" cy="446.2" r="1.3" fill="#6ab043"/>
<text x="106.70" y="448.30" font-size="6.0" textLength="16.7" lengthAdjust="spacingAndGlyphs" stroke="#1a1a1a" stroke-width="0.1">DMSO</text>
<defs><radialGradient id="gd" cx="50%" cy="50%" r="50%"><stop offset="0" stop-color="#000" stop-opacity="0.55"/><stop offset="0.6" stop-color="#000" stop-opacity="0.25"/><stop offset="1" stop-color="#000" stop-opacity="0"/></radialGradient></defs>
<line x1="157.30" y1="352.00" x2="157.30" y2="424.20" stroke="#222" stroke-width="0.9"/>
<line x1="157.30" y1="424.20" x2="362.00" y2="424.20" stroke="#222" stroke-width="0.9"/>
<path d="M157.3,349.0 L155.4,353.6 L159.2,353.6 Z" fill="#222"/>
<path d="M365.5,424.2 L360.8,422.3 L360.8,426.1 Z" fill="#222"/>
<text x="151.60" y="390.00" font-size="7.8" text-anchor="middle" transform="rotate(-90 151.60 390.00)" textLength="34.6" lengthAdjust="spacingAndGlyphs" stroke="#1a1a1a" stroke-width="0.1">Mac1 &amp; Gr1</text>
<text x="250.00" y="434.30" font-size="8.0" textLength="11.5" lengthAdjust="spacingAndGlyphs" stroke="#1a1a1a" stroke-width="0.1">cKit</text>
<rect x="173.30" y="353.30" width="53.30" height="53.90" fill="none" stroke="#aaa" stroke-width="0.45"/>
<line x1="173.30" y1="407.20" x2="226.60" y2="407.20" stroke="#666" stroke-width="0.5"/>
<line x1="173.30" y1="353.30" x2="173.30" y2="407.20" stroke="#666" stroke-width="0.5"/>
<g fill="#000" fill-opacity="0.04" stroke="#8e8e8e" stroke-width="0.33"><path d="M205.30,384.00 L206.15,385.06 L206.90,386.27 L207.52,387.62 L207.94,389.07 L208.14,390.59 L208.09,392.14 L207.80,393.66 L207.27,395.14 L206.54,396.54 L205.63,397.87 L204.58,399.11 L203.39,400.27 L202.09,401.34 L200.67,402.32 L199.14,403.17 L197.50,403.87 L195.78,404.38 L194.00,404.67 L192.19,404.71 L190.38,404.50 L188.63,404.04 L186.96,403.34 L185.41,402.43 L183.99,401.35 L182.71,400.13 L181.58,398.80 L180.61,397.39 L179.81,395.90 L179.20,394.36 L178.80,392.78 L178.62,391.17 L178.70,389.57 L179.04,388.01 L179.61,386.54 L180.38,385.19 L181.30,384.00 L182.31,382.98 L183.35,382.12 L184.38,381.42 L185.36,380.85 L185.21,379.90 L185.00,378.81 L184.86,377.60 L184.82,376.30 L184.90,374.90 L185.14,373.44 L185.58,371.97 L186.22,370.53 L187.09,369.18 L188.17,367.98 L189.44,367.00 L190.87,366.27 L192.41,365.82 L194.00,365.67 L195.59,365.79 L197.14,366.19 L198.60,366.83 L199.94,367.68 L201.12,368.72 L202.13,369.91 L202.95,371.22 L203.56,372.60 L203.98,374.02 L204.21,375.43 L204.27,376.81 L204.19,378.11 L204.01,379.33 L203.73,380.46 L203.40,381.48 L203.55,382.32 L204.42,383.09Z"/><path d="M203.44,384.00 L204.15,384.89 L204.79,385.90 L205.31,387.03 L205.67,388.25 L205.84,389.52 L205.80,390.82 L205.57,392.10 L205.14,393.35 L204.55,394.55 L203.81,395.69 L202.94,396.77 L201.96,397.78 L200.87,398.72 L199.67,399.57 L198.37,400.31 L196.98,400.90 L195.52,401.32 L194.00,401.54 L192.46,401.55 L190.94,401.33 L189.47,400.91 L188.07,400.30 L186.76,399.53 L185.56,398.63 L184.47,397.62 L183.50,396.52 L182.65,395.35 L181.95,394.11 L181.41,392.82 L181.05,391.48 L180.89,390.11 L180.96,388.74 L181.26,387.41 L181.76,386.16 L182.43,385.01 L183.23,384.00 L184.10,383.13 L184.98,382.41 L185.86,381.82 L186.62,381.31 L186.32,380.42 L186.06,379.42 L185.87,378.30 L185.76,377.09 L185.78,375.78 L185.95,374.41 L186.31,373.02 L186.87,371.65 L187.64,370.37 L188.62,369.22 L189.78,368.26 L191.10,367.54 L192.52,367.07 L194.00,366.87 L195.49,366.94 L196.95,367.28 L198.32,367.87 L199.58,368.68 L200.67,369.69 L201.59,370.85 L202.31,372.13 L202.83,373.48 L203.14,374.86 L203.28,376.21 L203.27,377.51 L203.12,378.73 L202.88,379.86 L202.57,380.88 L202.22,381.80 L201.95,382.60 L202.69,383.24Z"/><path d="M201.87,384.00 L202.44,384.74 L202.93,385.57 L203.33,386.50 L203.62,387.50 L203.78,388.56 L203.79,389.65 L203.64,390.75 L203.32,391.82 L202.85,392.85 L202.22,393.80 L201.46,394.66 L200.59,395.41 L199.62,396.06 L198.59,396.60 L197.50,397.05 L196.37,397.41 L195.20,397.70 L194.00,397.90 L192.77,398.02 L191.53,398.03 L190.27,397.93 L189.02,397.68 L187.81,397.27 L186.68,396.68 L185.65,395.93 L184.76,395.01 L184.05,393.95 L183.52,392.79 L183.18,391.57 L183.04,390.33 L183.08,389.09 L183.27,387.90 L183.61,386.78 L184.07,385.75 L184.62,384.82 L185.25,384.00 L185.92,383.29 L186.61,382.70 L187.30,382.21 L187.91,381.78 L187.57,381.00 L187.28,380.12 L187.04,379.13 L186.89,378.03 L186.84,376.84 L186.91,375.55 L187.12,374.18 L187.52,372.77 L188.11,371.38 L188.93,370.06 L189.96,368.91 L191.18,368.01 L192.55,367.44 L194.00,367.24 L195.45,367.43 L196.83,367.98 L198.07,368.83 L199.13,369.90 L200.01,371.11 L200.71,372.38 L201.23,373.67 L201.61,374.93 L201.86,376.14 L201.98,377.30 L202.00,378.40 L201.91,379.43 L201.73,380.39 L201.46,381.28 L201.12,382.09 L200.73,382.81 L201.27,383.36Z"/><path d="M200.24,384.00 L200.77,384.59 L201.23,385.28 L201.60,386.04 L201.85,386.86 L201.97,387.72 L201.95,388.59 L201.79,389.45 L201.51,390.30 L201.11,391.11 L200.61,391.87 L200.01,392.58 L199.33,393.23 L198.57,393.79 L197.74,394.27 L196.85,394.65 L195.93,394.93 L194.97,395.11 L194.00,395.20 L193.02,395.20 L192.04,395.13 L191.06,394.97 L190.09,394.75 L189.13,394.43 L188.21,394.03 L187.33,393.53 L186.53,392.91 L185.83,392.17 L185.27,391.32 L184.89,390.38 L184.69,389.37 L184.70,388.34 L184.89,387.32 L185.24,386.35 L185.73,385.46 L186.30,384.67 L186.91,384.00 L187.54,383.43 L188.15,382.97 L188.73,382.59 L189.27,382.28 L189.05,381.69 L188.66,380.92 L188.31,380.01 L188.02,378.98 L187.84,377.84 L187.79,376.60 L187.90,375.29 L188.20,373.95 L188.70,372.63 L189.41,371.38 L190.32,370.26 L191.41,369.34 L192.66,368.69 L194.00,368.37 L195.36,368.40 L196.68,368.80 L197.88,369.53 L198.90,370.54 L199.71,371.75 L200.30,373.08 L200.69,374.45 L200.88,375.80 L200.92,377.08 L200.85,378.25 L200.68,379.32 L200.45,380.27 L200.17,381.12 L199.85,381.87 L199.50,382.53 L199.12,383.10 L199.68,383.50Z"/><path d="M198.54,384.00 L198.97,384.43 L199.38,384.95 L199.74,385.54 L200.03,386.19 L200.20,386.89 L200.25,387.61 L200.17,388.32 L199.96,389.00 L199.64,389.64 L199.22,390.22 L198.73,390.75 L198.17,391.22 L197.56,391.64 L196.91,392.00 L196.23,392.31 L195.51,392.55 L194.76,392.73 L194.00,392.83 L193.23,392.86 L192.45,392.80 L191.68,392.66 L190.93,392.44 L190.20,392.14 L189.51,391.78 L188.86,391.34 L188.26,390.85 L187.72,390.28 L187.26,389.66 L186.90,388.97 L186.66,388.24 L186.57,387.46 L186.63,386.68 L186.84,385.92 L187.20,385.20 L187.65,384.56 L188.19,384.00 L188.75,383.54 L189.31,383.17 L189.84,382.89 L190.33,382.66 L190.76,382.49 L190.42,381.94 L189.92,381.14 L189.47,380.20 L189.12,379.12 L188.88,377.90 L188.81,376.59 L188.93,375.22 L189.27,373.86 L189.84,372.58 L190.64,371.45 L191.63,370.55 L192.77,369.94 L194.00,369.64 L195.25,369.68 L196.46,370.05 L197.56,370.72 L198.50,371.63 L199.25,372.74 L199.79,373.97 L200.11,375.28 L200.22,376.58 L200.15,377.85 L199.92,379.03 L199.57,380.10 L199.12,381.04 L198.62,381.85 L198.06,382.52 L197.49,383.06 L197.71,383.35 L198.11,383.64Z"/><path d="M198.39,380.50 L198.14,380.86 L197.90,381.19 L197.65,381.48 L197.40,381.74 L197.14,381.96 L196.88,382.16 L196.62,382.34 L196.36,382.48 L196.10,382.60 L198.12,385.41 L198.29,386.63 L198.10,387.60 L197.70,388.43 L197.14,389.14 L196.48,389.74 L195.72,390.24 L194.89,390.62 L194.00,390.88 L193.08,391.00 L192.16,390.96 L191.26,390.74 L190.42,390.34 L189.68,389.76 L189.09,389.01 L188.67,388.11 L188.48,387.08 L188.59,385.91 L189.25,384.48 L191.92,381.96 L191.75,381.80 L191.58,381.63 L191.41,381.44 L191.22,381.24 L191.04,381.02 L190.85,380.78 L190.66,380.50 L190.49,380.19 L190.32,379.85 L190.16,379.47 L190.02,379.05 L189.90,378.59 L189.80,378.08 L189.73,377.51 L189.70,376.89 L189.72,376.22 L189.81,375.50 L189.97,374.75 L190.24,373.99 L190.62,373.25 L191.11,372.56 L191.72,371.98 L192.42,371.54 L193.19,371.27 L194.00,371.17 L194.81,371.24 L195.59,371.47 L196.32,371.83 L196.99,372.30 L197.57,372.84 L198.08,373.43 L198.51,374.06 L198.85,374.72 L199.11,375.39 L199.28,376.07 L199.37,376.74 L199.38,377.39 L199.32,378.02 L199.21,378.61 L199.04,379.15 L198.84,379.65 L198.62,380.10Z"/><path d="M197.37,380.50 L197.14,380.77 L196.90,381.01 L196.66,381.21 L196.43,381.38 L196.19,381.52 L195.97,381.64 L195.76,381.73 L195.56,381.81 L195.37,381.87 L195.20,381.92 L195.03,381.97 L197.18,386.01 L197.05,387.03 L196.67,387.84 L196.14,388.49 L195.49,388.98 L194.77,389.30 L194.00,389.46 L193.22,389.46 L192.45,389.29 L191.73,388.97 L191.08,388.51 L190.53,387.93 L190.11,387.24 L189.85,386.42 L189.87,385.42 L192.92,381.58 L192.79,381.51 L192.66,381.44 L192.53,381.35 L192.39,381.25 L192.24,381.14 L192.09,381.01 L191.94,380.86 L191.79,380.69 L191.63,380.50 L191.47,380.28 L191.30,380.02 L191.13,379.73 L190.96,379.39 L190.79,379.01 L190.65,378.56 L190.53,378.07 L190.44,377.52 L190.42,376.92 L190.46,376.29 L190.59,375.64 L190.82,374.98 L191.14,374.36 L191.55,373.77 L192.06,373.26 L192.65,372.83 L193.30,372.51 L194.00,372.31 L194.72,372.25 L195.44,372.32 L196.13,372.54 L196.77,372.89 L197.33,373.37 L197.79,373.94 L198.14,374.58 L198.39,375.27 L198.54,375.96 L198.59,376.65 L198.57,377.30 L198.49,377.91 L198.36,378.47 L198.20,378.97 L198.01,379.42 L197.81,379.83 L197.60,380.19Z"/></g>
<ellipse cx="195" cy="380" rx="9.5" ry="15" fill="url(#gd)" opacity="0.85"/><path d="M193.6,390 C193.2,384 193.0,376 193.8,373 C194.6,370.5 197.0,370.5 197.2,373.5 C197.4,377 196.6,382 196.2,386" stroke="#474747" stroke-width="1.7" fill="none" stroke-linecap="round"/><path d="M194.9,388 C194.7,383 194.6,377 195.2,374.5" stroke="#fff" stroke-width="0.9" fill="none" stroke-linecap="round"/>
<rect x="199.70" y="382.50" width="15.60" height="21.70" fill="none" stroke="#999" stroke-width="0.45"/>
<rect x="173.80" y="361.30" width="31.80" height="22.50" fill="none" stroke="#333" stroke-width="1.1"/>
<text x="206.30" y="360.40" font-size="6.3" fill="#222" textLength="15.3" lengthAdjust="spacingAndGlyphs" stroke="#222" stroke-width="0.1">37.5%</text>
<text x="216.50" y="388.00" font-size="2.6" fill="#555">13.4%</text>
<text x="160.30" y="360.30" font-size="5.6" fill="#222" stroke="#222" stroke-width="0.1">10<tspan font-size="3.6" dy="-2.2">5</tspan></text>
<text x="160.30" y="371.20" font-size="5.6" fill="#222" stroke="#222" stroke-width="0.1">10<tspan font-size="3.6" dy="-2.2">4</tspan></text>
<text x="160.30" y="382.40" font-size="5.6" fill="#222" stroke="#222" stroke-width="0.1">10<tspan font-size="3.6" dy="-2.2">3</tspan></text>
<text x="160.30" y="393.00" font-size="5.6" fill="#222" stroke="#222" stroke-width="0.1">10<tspan font-size="3.6" dy="-2.2">2</tspan></text>
<text x="166.10" y="398.70" font-size="5.6" text-anchor="middle" fill="#222" stroke="#222" stroke-width="0.1">0</text>
<text x="180.40" y="415.20" font-size="5.6" fill="#222" stroke="#222" stroke-width="0.1">0</text>
<text x="184.60" y="415.20" font-size="5.6" fill="#222" stroke="#222" stroke-width="0.1">10<tspan font-size="3.6" dy="-2.2">2</tspan></text>
<text x="196.60" y="415.20" font-size="5.6" fill="#222" stroke="#222" stroke-width="0.1">10<tspan font-size="3.6" dy="-2.2">3</tspan></text>
<text x="207.40" y="415.20" font-size="5.6" fill="#222" stroke="#222" stroke-width="0.1">10<tspan font-size="3.6" dy="-2.2">4</tspan></text>
<text x="218.20" y="415.20" font-size="5.6" fill="#222" stroke="#222" stroke-width="0.1">10<tspan font-size="3.6" dy="-2.2">5</tspan></text>
<text x="186.00" y="347.60" font-size="8.5" textLength="26.0" lengthAdjust="spacingAndGlyphs" stroke="#1a1a1a" stroke-width="0.1">DMSO</text>
<rect x="241.40" y="354.70" width="52.80" height="52.90" fill="none" stroke="#aaa" stroke-width="0.45"/>
<line x1="241.40" y1="407.60" x2="294.20" y2="407.60" stroke="#666" stroke-width="0.5"/>
<line x1="241.40" y1="354.70" x2="241.40" y2="407.60" stroke="#666" stroke-width="0.5"/>
<g fill="#000" fill-opacity="0.04" stroke="#8e8e8e" stroke-width="0.33"><path d="M276.77,382.00 L277.44,382.96 L278.03,384.03 L278.52,385.22 L278.93,386.52 L279.23,387.94 L279.43,389.47 L279.52,391.12 L279.47,392.88 L279.25,394.75 L278.83,396.69 L278.16,398.65 L277.20,400.53 L275.94,402.24 L274.38,403.65 L272.56,404.62 L270.57,405.07 L268.50,404.91 L266.50,404.15 L264.68,402.85 L263.13,401.12 L261.91,399.11 L261.05,396.97 L260.52,394.83 L260.28,392.78 L260.27,390.89 L260.44,389.22 L260.73,387.77 L261.09,386.54 L261.48,385.51 L261.87,384.67 L262.25,383.98 L262.60,383.42 L262.91,382.96 L263.19,382.58 L262.57,382.34 L260.91,382.00 L259.06,381.35 L257.24,380.37 L255.61,379.08 L254.27,377.55 L253.32,375.85 L252.78,374.08 L252.66,372.31 L252.94,370.62 L253.57,369.07 L254.48,367.68 L255.63,366.47 L256.95,365.46 L258.40,364.62 L259.94,363.98 L261.55,363.51 L263.19,363.24 L264.85,363.16 L266.50,363.29 L268.11,363.64 L269.64,364.21 L271.06,364.99 L272.34,365.95 L273.46,367.08 L274.39,368.33 L275.12,369.69 L275.63,371.12 L275.91,372.59 L275.92,374.09 L275.65,375.59 L275.06,377.06 L274.14,378.44 L273.55,379.43 L274.39,379.88 L275.23,380.46 L276.03,381.17Z"/><path d="M274.88,382.00 L275.55,382.79 L276.19,383.71 L276.78,384.75 L277.27,385.92 L277.66,387.20 L277.90,388.58 L277.98,390.04 L277.89,391.55 L277.60,393.10 L277.12,394.65 L276.42,396.17 L275.51,397.60 L274.38,398.89 L273.03,399.94 L271.50,400.66 L269.84,400.95 L268.14,400.72 L266.50,399.97 L265.04,398.73 L263.84,397.11 L262.95,395.25 L262.38,393.32 L262.10,391.44 L262.04,389.72 L262.15,388.21 L262.36,386.93 L262.62,385.88 L262.90,385.02 L263.17,384.33 L263.43,383.78 L263.66,383.32 L263.88,382.95 L264.08,382.65 L264.27,382.39 L264.44,382.18 L264.60,382.00 L264.75,381.85 L264.88,381.71 L258.78,379.93 L256.84,378.48 L255.59,376.91 L254.85,375.27 L254.52,373.61 L254.56,371.98 L254.93,370.43 L255.58,368.99 L256.49,367.71 L257.62,366.61 L258.91,365.73 L260.34,365.07 L261.85,364.63 L263.40,364.41 L264.96,364.40 L266.50,364.57 L268.00,364.91 L269.42,365.42 L270.76,366.10 L271.98,366.94 L273.05,367.96 L273.92,369.16 L274.54,370.52 L274.87,372.02 L274.85,373.65 L274.42,375.36 L273.48,377.11 L271.70,379.00 L271.55,379.64 L272.19,379.93 L272.84,380.30 L273.51,380.76 L274.19,381.33Z"/><path d="M273.49,382.00 L274.05,382.66 L274.59,383.43 L275.09,384.30 L275.52,385.28 L275.85,386.36 L276.07,387.52 L276.14,388.75 L276.06,390.02 L275.80,391.30 L275.36,392.56 L274.74,393.77 L273.93,394.87 L272.95,395.83 L271.80,396.55 L270.52,396.99 L269.15,397.05 L267.79,396.70 L266.50,395.92 L265.38,394.76 L264.51,393.31 L263.90,391.70 L263.57,390.05 L263.48,388.48 L263.57,387.08 L263.77,385.90 L264.03,384.94 L264.31,384.19 L264.56,383.63 L264.77,383.21 L264.95,382.89 L265.10,382.65 L265.23,382.46 L265.34,382.31 L265.43,382.19 L265.52,382.09 L265.59,382.00 L265.66,381.93 L265.73,381.86 L265.79,381.81 L265.84,381.76 L258.43,378.24 L256.81,376.41 L256.09,374.71 L255.89,373.09 L256.06,371.56 L256.56,370.15 L257.31,368.88 L258.29,367.79 L259.46,366.89 L260.76,366.22 L262.15,365.77 L263.60,365.54 L265.06,365.53 L266.50,365.72 L267.89,366.10 L269.21,366.65 L270.42,367.37 L271.50,368.26 L272.41,369.33 L273.09,370.58 L273.48,372.03 L273.48,373.68 L272.86,375.64 L268.90,379.98 L269.44,379.94 L270.00,379.98 L270.58,380.10 L271.16,380.30 L271.75,380.59 L272.33,380.97 L272.91,381.44Z"/><path d="M272.30,382.00 L272.69,382.54 L273.03,383.15 L273.34,383.83 L273.61,384.59 L273.83,385.42 L274.01,386.34 L274.12,387.33 L274.13,388.40 L274.01,389.51 L273.74,390.63 L273.29,391.70 L272.65,392.65 L271.82,393.41 L270.83,393.89 L269.73,394.04 L268.58,393.81 L267.48,393.19 L266.50,392.23 L265.71,391.00 L265.16,389.59 L264.86,388.11 L264.81,386.64 L264.98,385.27 L265.33,384.03 L265.85,382.93 L266.50,382.00 L266.50,382.00 L266.50,382.00 L266.50,382.00 L266.50,382.00 L266.50,382.00 L266.50,382.00 L266.50,382.00 L266.50,382.00 L266.50,382.00 L266.50,382.00 L266.50,382.00 L266.50,382.00 L266.50,382.00 L266.50,382.00 L266.50,382.00 L266.50,382.00 L257.88,375.96 L257.12,374.13 L257.14,372.64 L257.58,371.37 L258.30,370.29 L259.21,369.37 L260.25,368.61 L261.40,367.98 L262.61,367.49 L263.88,367.16 L265.19,367.01 L266.50,367.06 L267.78,367.33 L269.00,367.83 L270.10,368.57 L271.03,369.55 L271.73,370.77 L272.12,372.27 L271.95,374.22 L266.50,382.00 L266.50,382.00 L267.58,381.09 L268.29,380.75 L268.98,380.57 L269.64,380.54 L270.26,380.63 L270.85,380.84 L271.38,381.14 L271.87,381.53Z"/><path d="M267.31,377.50 L267.16,377.56 L267.05,377.60 L266.97,377.63 L266.90,377.65 L266.85,377.66 L266.81,377.68 L266.77,377.69 L266.74,377.70 L272.12,383.12 L272.61,384.78 L272.64,386.27 L272.37,387.66 L271.82,388.90 L271.02,389.91 L270.00,390.57 L268.84,390.74 L267.62,390.29 L266.50,388.98 L266.48,377.78 L266.45,377.79 L266.42,377.80 L266.39,377.81 L266.35,377.82 L266.31,377.83 L266.27,377.83 L266.21,377.84 L266.14,377.86 L266.06,377.87 L265.94,377.89 L265.77,377.92 L265.52,377.96 L265.13,378.00 L264.55,378.02 L263.74,377.99 L262.77,377.83 L261.72,377.50 L260.69,376.99 L259.79,376.32 L259.06,375.51 L258.54,374.60 L258.26,373.66 L258.20,372.71 L258.34,371.79 L258.66,370.92 L259.14,370.14 L259.75,369.45 L260.46,368.87 L261.26,368.42 L262.12,368.10 L263.01,367.92 L263.92,367.87 L264.82,367.95 L265.68,368.13 L266.50,368.40 L267.27,368.74 L267.97,369.14 L268.62,369.58 L269.21,370.06 L269.72,370.59 L270.16,371.16 L270.50,371.79 L270.71,372.48 L270.79,373.21 L270.69,373.98 L270.43,374.75 L270.00,375.48 L269.45,376.13 L268.84,376.65 L268.28,377.02 L267.84,377.26 L267.53,377.41Z"/><path d="M266.50,377.50 L266.50,377.50 L266.50,377.50 L266.50,377.50 L266.50,377.50 L266.50,377.50 L266.50,377.50 L266.50,377.50 L266.50,377.50 L266.50,377.50 L271.75,383.76 L272.01,385.37 L271.82,386.71 L271.30,387.80 L270.52,388.54 L269.54,388.84 L268.45,388.57 L267.38,387.54 L266.50,377.50 L266.50,377.50 L266.50,377.50 L266.50,377.50 L266.50,377.50 L266.50,377.50 L266.50,377.50 L266.50,377.50 L266.50,377.50 L266.50,377.50 L266.50,377.50 L266.50,377.50 L266.50,377.50 L266.50,377.50 L266.50,377.50 L266.50,377.50 L266.50,377.50 L266.50,377.50 L266.50,377.50 L266.50,377.50 L262.04,376.71 L260.71,375.95 L259.89,375.09 L259.43,374.20 L259.28,373.33 L259.38,372.51 L259.68,371.78 L260.13,371.13 L260.69,370.58 L261.32,370.10 L262.00,369.71 L262.71,369.38 L263.45,369.13 L264.21,368.96 L264.98,368.88 L265.75,368.91 L266.50,369.04 L267.22,369.29 L267.88,369.65 L268.48,370.12 L268.98,370.69 L269.37,371.34 L269.63,372.08 L269.73,372.89 L269.62,373.78 L269.19,374.81 L266.50,377.50 L266.50,377.50 L266.50,377.50 L266.50,377.50 L266.50,377.50 L266.50,377.50 L266.50,377.50 L266.50,377.50Z"/></g>
<ellipse cx="269.5" cy="390" rx="5.5" ry="7" fill="url(#gd)" opacity="0.5"/><ellipse cx="265.7" cy="371.3" rx="7.5" ry="7.5" fill="url(#gd)"/><circle cx="265.7" cy="371.3" r="4.2" fill="#e4e4e4" stroke="#3a3a3a" stroke-width="1.3"/><circle cx="265.7" cy="371.3" r="1.3" fill="#fff"/><circle cx="265.7" cy="371.3" r="5.6" fill="none" stroke="#777" stroke-width="0.4"/>
<rect x="268.60" y="384.00" width="15.80" height="21.10" fill="none" stroke="#999" stroke-width="0.45"/>
<rect x="243.50" y="362.90" width="32.80" height="22.30" fill="none" stroke="#333" stroke-width="1.1"/>
<text x="272.00" y="361.50" font-size="6.3" fill="#222" textLength="15.3" lengthAdjust="spacingAndGlyphs" stroke="#222" stroke-width="0.1">56.3%</text>
<text x="284.70" y="391.00" font-size="2.6" fill="#555">20.0%</text>
<text x="229.20" y="362.30" font-size="5.6" fill="#222" stroke="#222" stroke-width="0.1">10<tspan font-size="3.6" dy="-2.2">5</tspan></text>
<text x="229.20" y="371.50" font-size="5.6" fill="#222" stroke="#222" stroke-width="0.1">10<tspan font-size="3.6" dy="-2.2">4</tspan></text>
<text x="229.20" y="383.50" font-size="5.6" fill="#222" stroke="#222" stroke-width="0.1">10<tspan font-size="3.6" dy="-2.2">3</tspan></text>
<text x="229.20" y="394.00" font-size="5.6" fill="#222" stroke="#222" stroke-width="0.1">10<tspan font-size="3.6" dy="-2.2">2</tspan></text>
<text x="235.00" y="399.20" font-size="5.6" text-anchor="middle" fill="#222" stroke="#222" stroke-width="0.1">0</text>
<text x="249.40" y="416.40" font-size="5.6" fill="#222" stroke="#222" stroke-width="0.1">0</text>
<text x="253.60" y="416.40" font-size="5.6" fill="#222" stroke="#222" stroke-width="0.1">10<tspan font-size="3.6" dy="-2.2">2</tspan></text>
<text x="265.00" y="416.40" font-size="5.6" fill="#222" stroke="#222" stroke-width="0.1">10<tspan font-size="3.6" dy="-2.2">3</tspan></text>
<text x="275.70" y="416.40" font-size="5.6" fill="#222" stroke="#222" stroke-width="0.1">10<tspan font-size="3.6" dy="-2.2">4</tspan></text>
<text x="285.80" y="416.40" font-size="5.6" fill="#222" stroke="#222" stroke-width="0.1">10<tspan font-size="3.6" dy="-2.2">5</tspan></text>
<text x="248.00" y="347.60" font-size="8.5" textLength="39.3" lengthAdjust="spacingAndGlyphs" stroke="#1a1a1a" stroke-width="0.1">Celecoxib</text>
<rect x="309.70" y="354.40" width="54.60" height="54.90" fill="none" stroke="#aaa" stroke-width="0.45"/>
<line x1="309.70" y1="409.30" x2="364.30" y2="409.30" stroke="#666" stroke-width="0.5"/>
<line x1="309.70" y1="354.40" x2="309.70" y2="409.30" stroke="#666" stroke-width="0.5"/>
<g fill="#000" fill-opacity="0.04" stroke="#8e8e8e" stroke-width="0.33"><path d="M344.18,385.00 L345.05,386.01 L345.85,387.18 L346.53,388.49 L347.06,389.94 L347.41,391.49 L347.56,393.12 L347.50,394.80 L347.22,396.51 L346.72,398.22 L345.99,399.89 L345.04,401.48 L343.87,402.96 L342.48,404.26 L340.89,405.30 L339.13,406.00 L337.26,406.31 L335.35,406.17 L333.50,405.57 L331.79,404.55 L330.29,403.18 L329.06,401.56 L328.12,399.79 L327.45,397.97 L327.04,396.20 L326.84,394.51 L326.81,392.97 L326.93,391.57 L327.14,390.34 L327.43,389.25 L327.76,388.31 L328.12,387.51 L328.49,386.82 L328.86,386.24 L329.22,385.76 L329.56,385.34 L329.88,385.00 L330.17,384.71 L330.43,384.46 L330.67,384.24 L322.64,381.05 L320.70,379.03 L319.78,377.08 L319.55,375.23 L319.83,373.53 L320.51,372.01 L321.49,370.69 L322.71,369.59 L324.10,368.71 L325.59,368.04 L327.15,367.56 L328.75,367.25 L330.34,367.10 L331.93,367.08 L333.50,367.19 L335.04,367.41 L336.54,367.77 L337.99,368.26 L339.36,368.91 L340.62,369.73 L341.74,370.74 L342.65,371.93 L343.31,373.31 L343.63,374.87 L343.52,376.60 L342.79,378.49 L340.90,380.73 L339.79,382.07 L340.60,382.42 L341.46,382.87 L342.35,383.44 L343.27,384.15Z"/><path d="M342.86,385.00 L343.57,385.88 L344.19,386.88 L344.68,388.00 L345.04,389.20 L345.25,390.48 L345.30,391.81 L345.19,393.19 L344.92,394.59 L344.49,395.99 L343.88,397.37 L343.09,398.69 L342.10,399.90 L340.93,400.93 L339.59,401.73 L338.11,402.21 L336.56,402.33 L334.99,402.08 L333.50,401.46 L332.14,400.51 L330.98,399.31 L330.03,397.94 L329.32,396.48 L328.84,395.00 L328.55,393.57 L328.45,392.22 L328.48,390.98 L328.63,389.87 L328.85,388.90 L329.12,388.07 L329.41,387.36 L329.71,386.77 L330.01,386.27 L330.29,385.86 L330.56,385.52 L330.79,385.24 L331.01,385.00 L331.19,384.80 L331.36,384.62 L331.51,384.47 L331.64,384.32 L323.66,380.41 L321.54,378.09 L320.82,376.12 L320.83,374.37 L321.34,372.84 L322.22,371.55 L323.35,370.50 L324.65,369.66 L326.05,369.03 L327.52,368.57 L329.02,368.27 L330.52,368.10 L332.02,368.07 L333.50,368.16 L334.95,368.39 L336.36,368.77 L337.70,369.32 L338.95,370.04 L340.05,370.94 L340.99,372.03 L341.69,373.31 L342.08,374.78 L342.04,376.46 L341.21,378.53 L337.53,382.18 L338.18,382.30 L338.90,382.48 L339.66,382.76 L340.46,383.14 L341.28,383.63 L342.09,384.25Z"/><path d="M341.29,385.00 L341.78,385.72 L342.20,386.53 L342.53,387.42 L342.76,388.37 L342.90,389.38 L342.94,390.45 L342.88,391.57 L342.71,392.72 L342.41,393.91 L341.98,395.10 L341.38,396.26 L340.62,397.33 L339.67,398.24 L338.56,398.91 L337.33,399.29 L336.02,399.31 L334.72,398.95 L333.50,398.25 L332.43,397.25 L331.55,396.04 L330.90,394.72 L330.46,393.36 L330.21,392.05 L330.13,390.83 L330.17,389.75 L330.30,388.82 L330.47,388.03 L330.67,387.37 L330.87,386.84 L331.07,386.40 L331.26,386.05 L331.43,385.75 L331.58,385.51 L331.72,385.31 L331.84,385.15 L331.95,385.00 L332.05,384.87 L332.14,384.76 L332.22,384.66 L332.30,384.56 L332.38,384.48 L332.45,384.39 L322.27,377.13 L321.86,375.23 L322.22,373.72 L323.03,372.52 L324.13,371.61 L325.39,370.95 L326.73,370.48 L328.10,370.17 L329.48,369.98 L330.83,369.88 L332.17,369.85 L333.50,369.89 L334.81,370.02 L336.10,370.26 L337.34,370.66 L338.51,371.23 L339.56,372.01 L340.40,373.05 L340.94,374.38 L340.94,376.13 L335.91,382.59 L336.42,382.55 L336.98,382.56 L337.58,382.64 L338.21,382.80 L338.86,383.05 L339.50,383.39 L340.14,383.83 L340.74,384.37Z"/><path d="M340.06,385.00 L340.47,385.61 L340.80,386.29 L341.06,387.02 L341.22,387.81 L341.29,388.63 L341.27,389.49 L341.16,390.36 L340.94,391.24 L340.63,392.13 L340.20,392.99 L339.67,393.81 L339.01,394.54 L338.23,395.14 L337.34,395.56 L336.38,395.74 L335.38,395.64 L334.40,395.25 L333.50,394.58 L332.74,393.69 L332.15,392.63 L331.76,391.50 L331.54,390.38 L331.49,389.32 L331.55,388.38 L331.69,387.58 L331.87,386.95 L332.05,386.45 L332.21,386.08 L332.35,385.80 L332.47,385.60 L332.56,385.44 L332.64,385.31 L332.71,385.21 L332.77,385.13 L332.82,385.06 L332.87,385.00 L332.91,384.95 L332.94,384.90 L332.97,384.86 L333.00,384.82 L333.03,384.78 L333.06,384.75 L333.09,384.71 L323.69,376.77 L323.39,374.89 L323.87,373.53 L324.75,372.51 L325.86,371.77 L327.10,371.28 L328.39,370.97 L329.70,370.82 L330.99,370.77 L332.26,370.82 L333.50,370.95 L334.71,371.17 L335.88,371.49 L337.00,371.95 L338.02,372.59 L338.87,373.48 L339.42,374.74 L339.03,377.11 L334.82,383.43 L335.23,383.27 L335.71,383.15 L336.24,383.08 L336.80,383.09 L337.39,383.19 L337.97,383.37 L338.54,383.65 L339.08,384.02 L339.60,384.47Z"/><path d="M333.50,380.25 L333.50,380.25 L333.50,380.25 L333.50,380.25 L333.50,380.25 L333.50,380.25 L333.50,380.25 L333.50,380.25 L338.62,384.55 L339.66,386.41 L339.91,387.89 L339.83,389.28 L339.46,390.57 L338.83,391.68 L337.97,392.53 L336.92,393.02 L335.76,393.04 L334.57,392.53 L333.50,391.40 L332.70,389.34 L333.50,380.25 L333.50,380.25 L333.50,380.25 L333.50,380.25 L333.50,380.25 L333.50,380.25 L333.50,380.25 L333.50,380.25 L333.50,380.25 L333.50,380.25 L333.50,380.25 L333.50,380.25 L333.50,380.25 L333.50,380.25 L333.50,380.25 L333.50,380.25 L333.50,380.25 L333.50,380.25 L328.53,379.37 L326.60,378.40 L325.50,377.34 L324.93,376.25 L324.77,375.21 L324.96,374.27 L325.40,373.45 L326.04,372.79 L326.80,372.27 L327.65,371.90 L328.54,371.65 L329.42,371.51 L330.30,371.45 L331.14,371.45 L331.96,371.49 L332.74,371.57 L333.50,371.67 L334.24,371.80 L334.96,371.98 L335.65,372.22 L336.31,372.53 L336.91,372.94 L337.43,373.45 L337.83,374.07 L338.08,374.80 L338.12,375.63 L337.88,376.58 L337.15,377.69 L333.50,380.25 L333.50,380.25 L333.50,380.25 L333.50,380.25 L333.50,380.25 L333.50,380.25Z"/><path d="M333.50,380.25 L333.50,380.25 L333.50,380.25 L333.50,380.25 L333.50,380.25 L333.50,380.25 L333.50,380.25 L333.50,380.25 L333.50,380.25 L338.32,385.07 L338.86,386.64 L338.81,387.83 L338.46,388.83 L337.87,389.63 L337.12,390.18 L336.23,390.43 L335.27,390.29 L334.32,389.62 L333.50,387.56 L333.50,380.25 L333.50,380.25 L333.50,380.25 L333.50,380.25 L333.50,380.25 L333.50,380.25 L333.50,380.25 L333.50,380.25 L333.50,380.25 L333.50,380.25 L333.50,380.25 L333.50,380.25 L333.50,380.25 L333.50,380.25 L333.50,380.25 L333.50,380.25 L333.50,380.25 L333.50,380.25 L333.50,380.25 L333.50,380.25 L333.50,380.25 L327.96,378.23 L326.56,377.02 L326.09,375.97 L326.07,375.05 L326.34,374.24 L326.80,373.55 L327.39,372.97 L328.08,372.51 L328.83,372.16 L329.61,371.91 L330.41,371.77 L331.22,371.74 L332.01,371.80 L332.77,371.95 L333.50,372.19 L334.18,372.49 L334.81,372.85 L335.37,373.26 L335.88,373.71 L336.31,374.22 L336.64,374.81 L336.82,375.51 L336.70,376.44 L333.50,380.25 L333.50,380.25 L333.50,380.25 L333.50,380.25 L333.50,380.25 L333.50,380.25 L333.50,380.25 L333.50,380.25 L333.50,380.25Z"/></g>
<ellipse cx="335.5" cy="392" rx="5.5" ry="7" fill="url(#gd)" opacity="0.55"/><ellipse cx="332.3" cy="373.7" rx="7.5" ry="7.5" fill="url(#gd)"/><circle cx="332.3" cy="373.7" r="4.2" fill="#e4e4e4" stroke="#3a3a3a" stroke-width="1.3"/><circle cx="332.3" cy="373.7" r="1.3" fill="#fff"/><circle cx="332.3" cy="373.7" r="5.6" fill="none" stroke="#777" stroke-width="0.4"/>
<rect x="336.90" y="384.50" width="16.60" height="21.90" fill="none" stroke="#999" stroke-width="0.45"/>
<rect x="310.40" y="361.50" width="32.20" height="23.70" fill="none" stroke="#333" stroke-width="1.1"/>
<text x="342.60" y="361.60" font-size="6.3" fill="#222" textLength="15.3" lengthAdjust="spacingAndGlyphs" stroke="#222" stroke-width="0.1">54.5%</text>
<text x="354.80" y="391.00" font-size="2.6" fill="#555">11.1%</text>
<text x="296.10" y="362.80" font-size="5.6" fill="#222" stroke="#222" stroke-width="0.1">10<tspan font-size="3.6" dy="-2.2">5</tspan></text>
<text x="296.10" y="372.00" font-size="5.6" fill="#222" stroke="#222" stroke-width="0.1">10<tspan font-size="3.6" dy="-2.2">4</tspan></text>
<text x="296.10" y="384.00" font-size="5.6" fill="#222" stroke="#222" stroke-width="0.1">10<tspan font-size="3.6" dy="-2.2">3</tspan></text>
<text x="296.10" y="394.50" font-size="5.6" fill="#222" stroke="#222" stroke-width="0.1">10<tspan font-size="3.6" dy="-2.2">2</tspan></text>
<text x="301.90" y="399.70" font-size="5.6" text-anchor="middle" fill="#222" stroke="#222" stroke-width="0.1">0</text>
<text x="318.10" y="417.80" font-size="5.6" fill="#222" stroke="#222" stroke-width="0.1">0</text>
<text x="322.90" y="417.80" font-size="5.6" fill="#222" stroke="#222" stroke-width="0.1">10<tspan font-size="3.6" dy="-2.2">2</tspan></text>
<text x="333.60" y="417.80" font-size="5.6" fill="#222" stroke="#222" stroke-width="0.1">10<tspan font-size="3.6" dy="-2.2">3</tspan></text>
<text x="345.10" y="417.80" font-size="5.6" fill="#222" stroke="#222" stroke-width="0.1">10<tspan font-size="3.6" dy="-2.2">4</tspan></text>
<text x="356.50" y="417.80" font-size="5.6" fill="#222" stroke="#222" stroke-width="0.1">10<tspan font-size="3.6" dy="-2.2">5</tspan></text>
<text x="318.00" y="347.60" font-size="8.5" textLength="37.8" lengthAdjust="spacingAndGlyphs" stroke="#1a1a1a" stroke-width="0.1">L-798,106</text>
<line x1="406.50" y1="338.20" x2="406.50" y2="408.50" stroke="#000" stroke-width="1.1"/>
<line x1="406.00" y1="408.00" x2="509.90" y2="408.00" stroke="#000" stroke-width="1.1"/>
<line x1="403.30" y1="408.00" x2="406.50" y2="408.00" stroke="#000" stroke-width="1.0"/>
<text x="401.30" y="410.20" font-size="6.0" text-anchor="end" stroke="#1a1a1a" stroke-width="0.1">0</text>
<line x1="403.30" y1="391.00" x2="406.50" y2="391.00" stroke="#000" stroke-width="1.0"/>
<text x="401.30" y="393.20" font-size="6.0" text-anchor="end" stroke="#1a1a1a" stroke-width="0.1">20</text>
<line x1="403.30" y1="374.00" x2="406.50" y2="374.00" stroke="#000" stroke-width="1.0"/>
<text x="401.30" y="376.20" font-size="6.0" text-anchor="end" stroke="#1a1a1a" stroke-width="0.1">40</text>
<line x1="403.30" y1="357.00" x2="406.50" y2="357.00" stroke="#000" stroke-width="1.0"/>
<text x="401.30" y="359.20" font-size="6.0" text-anchor="end" stroke="#1a1a1a" stroke-width="0.1">60</text>
<line x1="403.30" y1="340.00" x2="406.50" y2="340.00" stroke="#000" stroke-width="1.0"/>
<text x="401.30" y="342.20" font-size="6.0" text-anchor="end" stroke="#1a1a1a" stroke-width="0.1">80</text>
<line x1="423.40" y1="408.00" x2="423.40" y2="410.60" stroke="#000" stroke-width="1.0"/>
<line x1="457.20" y1="408.00" x2="457.20" y2="410.60" stroke="#000" stroke-width="1.0"/>
<line x1="491.10" y1="408.00" x2="491.10" y2="410.60" stroke="#000" stroke-width="1.0"/>
<line x1="423.35" y1="380.90" x2="423.35" y2="376.50" stroke="#333" stroke-width="1.1"/>
<line x1="418.75" y1="376.50" x2="427.95" y2="376.50" stroke="#333" stroke-width="1.1"/>
<rect x="414.70" y="380.90" width="17.30" height="27.10" fill="#6aab3b"/>
<line x1="457.25" y1="357.00" x2="457.25" y2="352.00" stroke="#333" stroke-width="1.1"/>
<line x1="452.65" y1="352.00" x2="461.85" y2="352.00" stroke="#333" stroke-width="1.1"/>
<rect x="448.50" y="357.00" width="17.50" height="51.00" fill="#a50d32"/>
<line x1="491.15" y1="366.10" x2="491.15" y2="361.50" stroke="#333" stroke-width="1.1"/>
<line x1="486.55" y1="361.50" x2="495.75" y2="361.50" stroke="#333" stroke-width="1.1"/>
<rect x="482.50" y="366.10" width="17.30" height="41.90" fill="#2c4b86"/>
<text x="457.20" y="353.10" font-size="7.0" text-anchor="middle" stroke="#1a1a1a" stroke-width="0.1">**</text>
<text x="491.10" y="362.60" font-size="7.0" text-anchor="middle" stroke="#1a1a1a" stroke-width="0.1">**</text>
<text x="423.40" y="418.20" font-size="6.2" text-anchor="middle" stroke="#1a1a1a" stroke-width="0.1">DMSO</text>
<text x="457.00" y="418.20" font-size="6.2" text-anchor="middle" stroke="#1a1a1a" stroke-width="0.1">Celecoxib</text>
<text x="491.30" y="418.20" font-size="6.2" text-anchor="middle" stroke="#1a1a1a" stroke-width="0.1">L-798,106</text>
<text x="386.90" y="374.20" font-size="7.4" text-anchor="middle" transform="rotate(-90 386.90 374.20)" textLength="44" lengthAdjust="spacingAndGlyphs" stroke="#1a1a1a" stroke-width="0.1">Mac1 &amp;Gr1+%</text>
<line x1="44.00" y1="494.00" x2="44.00" y2="554.00" stroke="#222" stroke-width="1.5"/>
<line x1="43.00" y1="551.50" x2="129.00" y2="551.50" stroke="#000" stroke-width="1.1"/>
<line x1="40.90" y1="551.50" x2="43.50" y2="551.50" stroke="#000" stroke-width="1.0"/>
<text x="37.90" y="553.70" font-size="6.3" text-anchor="end" stroke="#1a1a1a" stroke-width="0.1">0</text>
<line x1="40.90" y1="533.07" x2="43.50" y2="533.07" stroke="#000" stroke-width="1.0"/>
<text x="37.90" y="535.27" font-size="6.3" text-anchor="end" stroke="#1a1a1a" stroke-width="0.1">10</text>
<line x1="40.90" y1="514.63" x2="43.50" y2="514.63" stroke="#000" stroke-width="1.0"/>
<text x="37.90" y="516.83" font-size="6.3" text-anchor="end" stroke="#1a1a1a" stroke-width="0.1">20</text>
<line x1="40.90" y1="496.20" x2="43.50" y2="496.20" stroke="#000" stroke-width="1.0"/>
<text x="37.90" y="498.40" font-size="6.3" text-anchor="end" stroke="#1a1a1a" stroke-width="0.1">30</text>
<line x1="43.50" y1="551.50" x2="43.50" y2="554.10" stroke="#000" stroke-width="1.0"/>
<line x1="63.70" y1="551.50" x2="63.70" y2="554.10" stroke="#000" stroke-width="1.0"/>
<line x1="83.20" y1="551.50" x2="83.20" y2="554.10" stroke="#000" stroke-width="1.0"/>
<line x1="102.60" y1="551.50" x2="102.60" y2="554.10" stroke="#000" stroke-width="1.0"/>
<line x1="122.20" y1="551.50" x2="122.20" y2="554.10" stroke="#000" stroke-width="1.0"/>
<text x="43.50" y="562.40" font-size="6.3" text-anchor="middle" stroke="#1a1a1a" stroke-width="0.1">0</text>
<text x="83.20" y="562.40" font-size="6.3" text-anchor="middle" stroke="#1a1a1a" stroke-width="0.1">4</text>
<text x="122.20" y="562.40" font-size="6.3" text-anchor="middle" stroke="#1a1a1a" stroke-width="0.1">7</text>
<text x="86.70" y="574.80" font-size="8.0" text-anchor="middle" textLength="15" lengthAdjust="spacingAndGlyphs" stroke="#1a1a1a" stroke-width="0.1">Days</text>
<polyline points="43.50,549.66 83.50,544.50 116.00,513.71" stroke="#b31b3c" stroke-width="0.9" fill="none"/>
<polyline points="43.50,549.66 83.50,543.57 116.00,512.79" stroke="#6ab043" stroke-width="0.9" fill="none"/>
<circle cx="43.50" cy="549.66" r="0.9" fill="#b31b3c"/>
<line x1="83.50" y1="543.57" x2="83.50" y2="545.42" stroke="#b31b3c" stroke-width="0.7"/>
<line x1="82.60" y1="543.57" x2="84.40" y2="543.57" stroke="#b31b3c" stroke-width="0.7"/>
<line x1="82.60" y1="545.42" x2="84.40" y2="545.42" stroke="#b31b3c" stroke-width="0.7"/>
<circle cx="83.50" cy="544.50" r="0.9" fill="#b31b3c"/>
<line x1="116.00" y1="507.81" x2="116.00" y2="519.61" stroke="#b31b3c" stroke-width="0.7"/>
<line x1="115.10" y1="507.81" x2="116.90" y2="507.81" stroke="#b31b3c" stroke-width="0.7"/>
<line x1="115.10" y1="519.61" x2="116.90" y2="519.61" stroke="#b31b3c" stroke-width="0.7"/>
<circle cx="116.00" cy="513.71" r="0.9" fill="#b31b3c"/>
<circle cx="43.50" cy="549.66" r="0.9" fill="#6ab043"/>
<line x1="83.50" y1="542.10" x2="83.50" y2="545.05" stroke="#6ab043" stroke-width="0.7"/>
<line x1="82.60" y1="542.10" x2="84.40" y2="542.10" stroke="#6ab043" stroke-width="0.7"/>
<line x1="82.60" y1="545.05" x2="84.40" y2="545.05" stroke="#6ab043" stroke-width="0.7"/>
<circle cx="83.50" cy="543.57" r="0.9" fill="#6ab043"/>
<line x1="116.00" y1="508.18" x2="116.00" y2="517.40" stroke="#6ab043" stroke-width="0.7"/>
<line x1="115.10" y1="508.18" x2="116.90" y2="508.18" stroke="#6ab043" stroke-width="0.7"/>
<line x1="115.10" y1="517.40" x2="116.90" y2="517.40" stroke="#6ab043" stroke-width="0.7"/>
<circle cx="116.00" cy="512.79" r="0.9" fill="#6ab043"/>
<text transform="translate(15.70 521.80) rotate(-90) scale(0.883 1)" font-size="7.9" text-anchor="middle" stroke="#1a1a1a" stroke-width="0.1">Relative growth of 100,000</text>
<text transform="translate(25.80 521.70) rotate(-90) scale(0.879 1)" font-size="7.9" text-anchor="middle" stroke="#1a1a1a" stroke-width="0.1">3aKO ckit+ cells</text>
<line x1="182.50" y1="494.00" x2="182.50" y2="554.00" stroke="#000" stroke-width="1.1"/>
<line x1="182.00" y1="551.50" x2="268.00" y2="551.50" stroke="#000" stroke-width="1.1"/>
<line x1="179.90" y1="551.50" x2="182.50" y2="551.50" stroke="#000" stroke-width="1.0"/>
<text x="176.90" y="553.70" font-size="6.3" text-anchor="end" stroke="#1a1a1a" stroke-width="0.1">0</text>
<line x1="179.90" y1="537.67" x2="182.50" y2="537.67" stroke="#000" stroke-width="1.0"/>
<text x="176.90" y="539.88" font-size="6.3" text-anchor="end" stroke="#1a1a1a" stroke-width="0.1">5</text>
<line x1="179.90" y1="523.85" x2="182.50" y2="523.85" stroke="#000" stroke-width="1.0"/>
<text x="176.90" y="526.05" font-size="6.3" text-anchor="end" stroke="#1a1a1a" stroke-width="0.1">10</text>
<line x1="179.90" y1="510.02" x2="182.50" y2="510.02" stroke="#000" stroke-width="1.0"/>
<text x="176.90" y="512.23" font-size="6.3" text-anchor="end" stroke="#1a1a1a" stroke-width="0.1">15</text>
<line x1="179.90" y1="496.20" x2="182.50" y2="496.20" stroke="#000" stroke-width="1.0"/>
<text x="176.90" y="498.40" font-size="6.3" text-anchor="end" stroke="#1a1a1a" stroke-width="0.1">20</text>
<line x1="182.50" y1="551.50" x2="182.50" y2="554.10" stroke="#000" stroke-width="1.0"/>
<line x1="202.70" y1="551.50" x2="202.70" y2="554.10" stroke="#000" stroke-width="1.0"/>
<line x1="223.40" y1="551.50" x2="223.40" y2="554.10" stroke="#000" stroke-width="1.0"/>
<line x1="244.20" y1="551.50" x2="244.20" y2="554.10" stroke="#000" stroke-width="1.0"/>
<line x1="264.40" y1="551.50" x2="264.40" y2="554.10" stroke="#000" stroke-width="1.0"/>
<text x="182.50" y="562.40" font-size="6.3" text-anchor="middle" stroke="#1a1a1a" stroke-width="0.1">0</text>
<text x="223.40" y="562.40" font-size="6.3" text-anchor="middle" stroke="#1a1a1a" stroke-width="0.1">4</text>
<text x="264.40" y="562.40" font-size="6.3" text-anchor="middle" stroke="#1a1a1a" stroke-width="0.1">7</text>
<text x="225.70" y="574.80" font-size="8.0" text-anchor="middle" textLength="15" lengthAdjust="spacingAndGlyphs" stroke="#1a1a1a" stroke-width="0.1">Days</text>
<polyline points="182.50,548.74 223.70,538.78 255.00,508.37" stroke="#b31b3c" stroke-width="0.9" fill="none"/>
<polyline points="182.50,548.74 223.70,537.12 255.00,507.81" stroke="#6ab043" stroke-width="0.9" fill="none"/>
<circle cx="182.50" cy="548.74" r="0.9" fill="#b31b3c"/>
<line x1="223.70" y1="534.91" x2="223.70" y2="542.65" stroke="#b31b3c" stroke-width="0.7"/>
<line x1="222.80" y1="534.91" x2="224.60" y2="534.91" stroke="#b31b3c" stroke-width="0.7"/>
<line x1="222.80" y1="542.65" x2="224.60" y2="542.65" stroke="#b31b3c" stroke-width="0.7"/>
<circle cx="223.70" cy="538.78" r="0.9" fill="#b31b3c"/>
<line x1="255.00" y1="502.28" x2="255.00" y2="514.45" stroke="#b31b3c" stroke-width="0.7"/>
<line x1="254.10" y1="502.28" x2="255.90" y2="502.28" stroke="#b31b3c" stroke-width="0.7"/>
<line x1="254.10" y1="514.45" x2="255.90" y2="514.45" stroke="#b31b3c" stroke-width="0.7"/>
<circle cx="255.00" cy="508.37" r="0.9" fill="#b31b3c"/>
<circle cx="182.50" cy="548.74" r="0.9" fill="#6ab043"/>
<line x1="223.70" y1="532.70" x2="223.70" y2="541.55" stroke="#6ab043" stroke-width="0.7"/>
<line x1="222.80" y1="532.70" x2="224.60" y2="532.70" stroke="#6ab043" stroke-width="0.7"/>
<line x1="222.80" y1="541.55" x2="224.60" y2="541.55" stroke="#6ab043" stroke-width="0.7"/>
<circle cx="223.70" cy="537.12" r="0.9" fill="#6ab043"/>
<line x1="255.00" y1="499.52" x2="255.00" y2="516.11" stroke="#6ab043" stroke-width="0.7"/>
<line x1="254.10" y1="499.52" x2="255.90" y2="499.52" stroke="#6ab043" stroke-width="0.7"/>
<line x1="254.10" y1="516.11" x2="255.90" y2="516.11" stroke="#6ab043" stroke-width="0.7"/>
<circle cx="255.00" cy="507.81" r="0.9" fill="#6ab043"/>
<text transform="translate(153.70 521.80) rotate(-90) scale(0.883 1)" font-size="7.9" text-anchor="middle" stroke="#1a1a1a" stroke-width="0.1">Relative growth of 100,000</text>
<text transform="translate(163.80 520.60) rotate(-90) scale(0.847 1)" font-size="7.9" text-anchor="middle" stroke="#1a1a1a" stroke-width="0.1">WT-140 ckit+ cells</text>
<line x1="271.20" y1="507.00" x2="277.00" y2="507.00" stroke="#6ab043" stroke-width="0.8"/>
<circle cx="274.1" cy="507" r="1.2" fill="#6ab043"/>
<text x="280.20" y="509.10" font-size="6.0" textLength="16.3" lengthAdjust="spacingAndGlyphs" stroke="#1a1a1a" stroke-width="0.1">DMSO</text>
<line x1="271.20" y1="516.00" x2="277.00" y2="516.00" stroke="#b31b3c" stroke-width="0.8"/>
<circle cx="274.1" cy="516" r="1.2" fill="#b31b3c"/>
<text x="280.20" y="518.10" font-size="6.0" textLength="41" lengthAdjust="spacingAndGlyphs" stroke="#1a1a1a" stroke-width="0.1">10&#956;M Celecoxib</text>
<rect x="0.6" y="0.6" width="518.8" height="584.8" fill="none" stroke="#000" stroke-width="1.25"/>
</svg>
</body></html>
